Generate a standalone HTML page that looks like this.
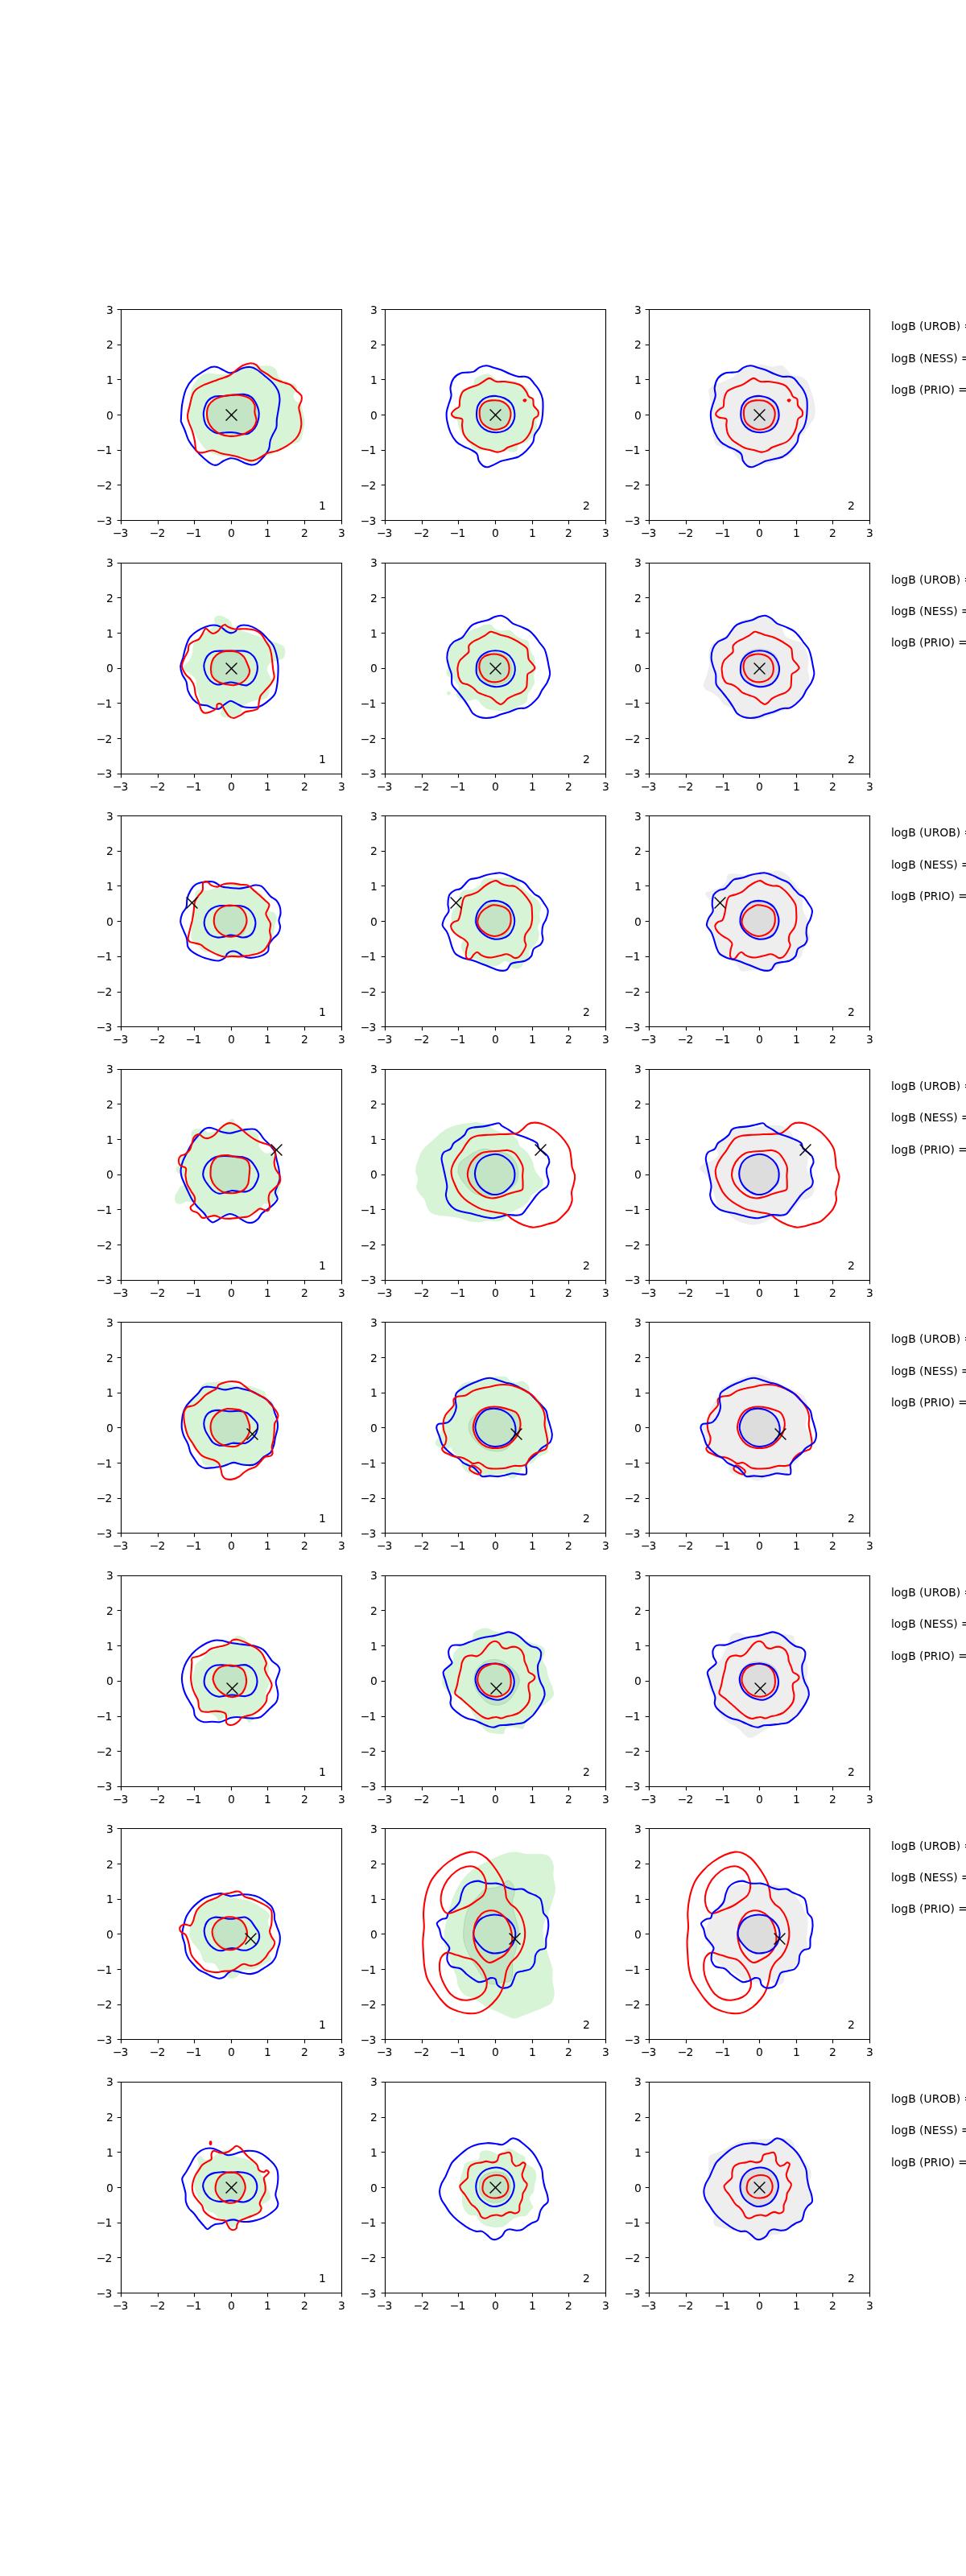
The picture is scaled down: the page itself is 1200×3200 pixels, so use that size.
<!DOCTYPE html>
<html><head><meta charset="utf-8"><title>contours</title>
<style>html,body{margin:0;padding:0;background:#fff}svg{display:block}text{font-family:"DejaVu Sans","Liberation Sans",sans-serif;font-size:13.89px;fill:#000}.b{fill:none;stroke:#0000ff;stroke-width:2.08;stroke-linejoin:round}.r{fill:none;stroke:#ff0000;stroke-width:2.08;stroke-linejoin:round}.t{stroke:#000;stroke-width:1.11;fill:none}.m{stroke:#000;stroke-width:1.39;fill:none}.n{letter-spacing:-1px}.e{text-anchor:end}.c{text-anchor:middle}</style></head><body>
<svg style="will-change:transform" width="1200" height="3200" viewBox="0 0 1200 3200">
<defs><clipPath id="cp"><rect x="0" y="0" width="273.53" height="262.13"/></clipPath>
<path id="mx" class="m" d="M-6.94 -6.94L6.94 6.94M-6.94 6.94L6.94 -6.94"/></defs>
<rect width="1200" height="3200" fill="#fff"/>
<g transform="translate(150.00,384.00)">
<g clip-path="url(#cp)"><path fill="#d7f4d7" d="M83.6 128.3C83.6 124.2 84.8 119 85.7 113.8C86.5 108.6 86.9 102 88.8 97.3C90.7 92.5 93.9 88.2 97 85.2C100.1 82.3 103.6 80.4 107.4 79.7C111.2 78.9 115.7 80.5 119.8 80.7C124 80.9 128.1 81.6 132.2 80.7C136.4 79.8 141.2 77.1 144.7 75.5C148.1 74 149.5 72.2 152.9 71.4C156.4 70.5 161.6 70.5 165.4 70.3C169.2 70.2 172.3 70.3 175.7 70.3C179.2 70.4 183.1 69.9 186.1 70.8C189 71.6 191.6 73.2 193.3 75.5C195 77.9 194.2 82.2 196.4 84.8C198.7 87.4 203.5 89.7 206.8 91C210.1 92.4 214 91.7 216.1 93.1C218.2 94.5 219.4 97.3 219.2 99.3C219 101.4 215.6 103.3 215.1 105.5C214.5 107.8 214.7 110.7 216.1 112.8C217.5 114.9 221.6 115.4 223.3 118C225.1 120.5 225.6 124.5 226.4 128.3C227.3 132.1 228.5 136.6 228.5 140.7C228.5 144.9 227.3 149.4 226.4 153.2C225.6 156.9 224.9 161.3 223.3 163.5C221.8 165.7 219.9 165.6 217.1 166.6C214.4 167.6 210.6 168.2 206.8 169.7C203 171.3 197.8 174 194.3 175.9C190.9 177.8 188.8 179.9 186.1 181.1C183.3 182.3 180.5 182 177.8 183.2C175 184.4 172.3 187.1 169.5 188.3C166.7 189.6 164.7 190.8 161.2 190.4C157.8 190.1 152.9 187.3 148.8 186.3C144.7 185.2 140.2 184.7 136.4 184.2C132.6 183.7 129.5 183.9 126 183.2C122.6 182.5 119.1 181.6 115.7 180.1C112.2 178.5 108.4 176.6 105.3 173.9C102.2 171.1 99.5 167.3 97 163.5C94.6 159.7 92.7 155.2 90.8 151.1C88.9 146.9 86.9 142.5 85.7 138.7C84.4 134.9 83.6 132.4 83.6 128.3Z"/><path fill="#c3e4c5" stroke="#a9dcad" stroke-width="1" d="M107.4 130.4C107.6 127.1 107.9 123.1 109.5 120C111 116.9 113.6 113.6 116.7 111.7C119.8 109.8 124.1 109.4 128.1 108.6C132.1 107.9 136.4 107.4 140.5 107.2C144.7 106.9 149.3 106.6 152.9 107.2C156.6 107.8 159.8 108.7 162.3 110.7C164.7 112.7 166.4 115.9 167.4 119C168.5 122.1 168.3 126.1 168.5 129.3C168.6 132.6 169.2 135.6 168.5 138.7C167.8 141.8 166.4 145.4 164.3 148C162.3 150.6 159.3 153 156 154.2C152.8 155.4 148.6 155.2 144.7 155.2C140.7 155.2 136 154.5 132.2 154.2C128.4 153.8 125 154.2 121.9 153.2C118.8 152.1 115.8 150.2 113.6 148C111.4 145.7 109.5 142.6 108.4 139.7C107.4 136.8 107.2 133.7 107.4 130.4Z"/><path class="b" d="M74.9 136.6C75.1 132.8 75.3 124.2 76.3 118C77.4 111.7 78.9 104.6 81.1 99.3C83.3 94.1 86.4 90 89.8 86.5C93.1 83 97.4 80.6 101.2 78.2C105 75.8 109.5 73 112.6 72C115.7 71 117.2 71.3 119.8 72C122.4 72.7 125.5 74.9 128.1 76.1C130.7 77.3 132.9 79 135.3 79.2C137.8 79.5 140 78.6 142.6 77.6C145.2 76.6 147.8 74.4 150.9 73.4C154 72.5 158.1 71.6 161.2 72C164.3 72.3 166.4 73.5 169.5 75.5C172.6 77.5 176.6 81 179.9 83.8C183.1 86.6 186.6 89.1 189.2 92.1C191.8 95 194 98.1 195.4 101.4C196.8 104.7 197.4 107.9 197.5 111.7C197.6 115.5 196.6 120 196 124.2C195.4 128.3 194.4 132.8 193.9 136.6C193.5 140.4 194.1 143.8 193.3 146.9C192.5 150 190.5 152.5 189.2 155.2C187.9 158 186.5 160.4 185.7 163.5C184.8 166.6 185.3 170.6 184 173.9C182.7 177.1 180.2 180.2 177.8 183.2C175.4 186.1 171.9 189.7 169.5 191.5C167.1 193.2 165.7 193.5 163.3 193.5C160.9 193.5 158.1 192.6 155 191.5C151.9 190.3 147.8 187.7 144.7 186.7C141.6 185.7 139.1 185 136.4 185.2C133.6 185.5 130.9 187 128.1 188.3C125.3 189.7 122.2 192.8 119.8 193.5C117.4 194.3 116.4 194.3 113.6 192.9C110.8 191.5 106.7 188.2 103.3 185.2C99.8 182.2 96 178.5 92.9 174.9C89.8 171.3 86.9 167.6 84.6 163.5C82.4 159.4 81 153.8 79.4 150C77.9 146.3 76.1 143 75.3 140.7C74.5 138.5 74.7 140.4 74.9 136.6ZM102.8 131.4C102.7 128 103.4 125 104.3 122.1C105.2 119.2 106.4 116.1 108.4 113.8C110.5 111.6 113.4 109.6 116.7 108.6C120 107.7 124.1 108.4 128.1 108C132.1 107.7 136.4 106.9 140.5 106.6C144.7 106.2 149.3 105.5 152.9 105.9C156.6 106.4 159.7 107.3 162.3 109.3C164.8 111.3 166.9 114.8 168.5 118C170 121.1 171.2 124.9 171.6 128.3C171.9 131.8 171.4 135.4 170.5 138.7C169.7 141.9 168.3 145.4 166.4 148C164.5 150.6 161.7 153 159.2 154.2C156.6 155.4 154 155.4 150.9 155.2C147.8 155.1 144 153.5 140.5 153.2C137.1 152.8 133.6 153 130.2 153.2C126.7 153.3 122.9 154.7 119.8 154.2C116.7 153.7 113.9 151.9 111.5 150C109.1 148.1 106.8 145.9 105.3 142.8C103.9 139.7 103 134.9 102.8 131.4Z"/><path class="r" d="M83 132.4C83.1 129 84.7 124.2 85.7 120C86.6 115.9 87.6 110.9 88.8 107.6C90 104.3 90.5 102.6 92.9 100.4C95.3 98.1 98.8 96.2 103.3 94.1C107.7 92.1 114.6 89.8 119.8 87.9C125 86 130.5 84.7 134.3 82.8C138.1 80.9 139.8 78.6 142.6 76.5C145.4 74.5 147.8 71.9 150.9 70.3C154 68.8 158.3 67.4 161.2 67.2C164.2 67.1 166.4 67.9 168.5 69.3C170.5 70.7 171.4 73.6 173.6 75.5C175.9 77.4 179.2 78.9 181.9 80.7C184.7 82.5 187.1 84.8 190.2 86.5C193.3 88.1 197.1 89.4 200.6 90.6C204 91.9 208 92.4 210.9 94.1C213.8 95.9 215.9 99.2 218.2 101.4C220.4 103.6 223.3 105.5 224.4 107.6C225.4 109.7 224.9 111.4 224.4 113.8C223.9 116.2 221.4 119 221.3 122.1C221.1 125.2 222.8 129 223.3 132.4C223.9 135.9 224.5 139.4 224.4 142.8C224.2 146.3 223.5 150 222.3 153.2C221.1 156.3 219.7 158.7 217.1 161.4C214.5 164.2 210.6 167.3 206.8 169.7C203 172.1 198.5 174.4 194.3 175.9C190.2 177.5 185.7 177.5 181.9 179C178.1 180.6 174.7 183.7 171.6 185.2C168.5 186.8 166.1 188.1 163.3 188.3C160.5 188.6 158.1 187.6 155 186.7C151.9 185.8 148.1 184.1 144.7 183.2C141.2 182.2 137.8 181.8 134.3 181.1C130.9 180.4 127.4 180 124 179C120.5 178.1 117.4 175.6 113.6 175.5C109.8 175.4 104.5 178.3 101.2 178.4C97.9 178.5 95.5 178.4 93.9 175.9C92.4 173.4 92.7 167.6 91.9 163.5C91 159.4 90 154.9 88.8 151.1C87.6 147.3 85.6 143.8 84.6 140.7C83.7 137.6 82.8 135.9 83 132.4ZM107 130.4C107 126.9 107.6 123 109 120C110.5 117.1 112.8 114.7 115.7 112.8C118.5 110.9 122.2 109.7 126 108.6C129.8 107.6 134.3 106.7 138.4 106.6C142.6 106.4 147.1 106.7 150.9 107.6C154.7 108.5 158.6 109.8 161.2 111.7C163.8 113.6 165.5 116.2 166.4 119C167.3 121.8 166.1 125 166.4 128.3C166.7 131.6 168.8 135.4 168.5 138.7C168.1 141.9 166.6 145.4 164.3 148C162.1 150.6 158.3 152.6 155 154.2C151.7 155.7 148.1 156.7 144.7 157.3C141.2 157.9 137.8 158.1 134.3 157.7C130.9 157.4 127.2 156.7 124 155.2C120.7 153.8 117.1 151.4 114.6 149C112.2 146.6 110.3 143.8 109 140.7C107.8 137.6 107 133.8 107 130.4Z"/><use href="#mx" x="137.50" y="131.50"/></g>
<path class="t" d="M0.50 0.50H274.50V262.50H0.50ZM0.50 262.50v4.86M0.50 262.50h-4.86M46.50 262.50v4.86M0.50 218.50h-4.86M91.50 262.50v4.86M0.50 175.50h-4.86M137.50 262.50v4.86M0.50 131.50h-4.86M182.50 262.50v4.86M0.50 87.50h-4.86M228.50 262.50v4.86M0.50 44.50h-4.86M274.50 262.50v4.86M0.50 0.50h-4.86"/><text class="c n" x="-0.90" y="283.00">−3</text><text class="e n" x="-11.77" y="268.00">−3</text><text class="c n" x="45.10" y="283.00">−2</text><text class="e n" x="-11.77" y="224.00">−2</text><text class="c n" x="90.10" y="283.00">−1</text><text class="e n" x="-11.77" y="180.00">−1</text><text class="c" x="137.50" y="283.00">0</text><text class="e" x="-9.12" y="137.00">0</text><text class="c" x="182.50" y="283.00">1</text><text class="e" x="-9.12" y="93.00">1</text><text class="c" x="228.50" y="283.00">2</text><text class="e" x="-9.12" y="49.00">2</text><text class="c" x="274.50" y="283.00">3</text><text class="e" x="-9.12" y="6.00">3</text><text x="246.00" y="249.00">1</text></g>
<g transform="translate(478.24,384.00)">
<g clip-path="url(#cp)"><path fill="#d7f4d7" d="M84 130.4C84.5 128.3 87.2 125.2 88.5 123.1C89.8 121.1 91.1 120.2 91.6 118C92.1 115.7 90.9 112.4 91.6 109.7C92.3 106.9 93.5 103.6 95.8 101.4C98 99.2 102.7 97.6 105.1 96.2C107.5 94.8 109.2 94.7 110.3 93.1C111.3 91.6 109.7 88.7 111.3 86.9C112.9 85.1 116.8 83.4 119.6 82.3C122.3 81.2 125.4 80 127.9 80.3C130.3 80.5 132 82.3 134.1 83.8C136.1 85.2 137.2 88.3 140.3 89C143.4 89.7 148.9 87.8 152.7 87.9C156.5 88.1 160 89 163.1 90C166.2 91 168.9 92.6 171.3 94.1C173.8 95.7 176.2 97.1 177.6 99.3C178.9 101.6 178.4 105.5 179.6 107.6C180.8 109.7 183.8 109.7 184.8 111.7C185.8 113.8 185 117.6 185.8 120C186.7 122.4 189.1 124 190 126.2C190.8 128.5 191.4 131.4 191 133.5C190.7 135.6 188.2 136.4 187.9 138.7C187.6 140.9 189.5 143.8 188.9 146.9C188.4 150 187 154.2 184.8 157.3C182.6 160.4 178.6 163.7 175.5 165.6C172.4 167.5 168.1 167 166.2 168.7C164.3 170.4 165.6 174.4 164.1 175.9C162.5 177.4 159.3 177.8 156.8 177.6C154.4 177.4 152.4 174.8 149.6 174.9C146.8 175 143.6 177.9 140.3 178C137 178.1 133.4 175.9 129.9 175.5C126.5 175.1 122.9 175.8 119.6 175.5C116.3 175.2 112.5 175 110.3 173.9C108 172.7 107.7 170.8 106.1 168.7C104.6 166.6 102.7 163.7 100.9 161.4C99.2 159.2 97.3 157.6 95.8 155.2C94.2 152.8 92.7 149.7 91.6 146.9C90.6 144.2 90.6 140.6 89.6 138.7C88.5 136.8 86.4 136.9 85.4 135.6C84.5 134.2 83.5 132.4 84 130.4Z"/><path fill="#c3e4c5" stroke="#a9dcad" stroke-width="1" d="M117.9 131.4C117.8 128.5 117.9 124.6 119 122.1C120 119.6 122 117.7 124.1 116.3C126.3 114.9 129 114.2 132 113.8C135 113.5 139.2 113.5 142.4 114.2C145.5 115 148.5 116.4 150.6 118.4C152.8 120.4 154.7 123.2 155.4 126.2C156.1 129.3 155.6 133.6 154.8 136.6C153.9 139.6 152.3 142.5 150.2 144.5C148.2 146.5 145 147.8 142.4 148.6C139.7 149.4 136.8 149.5 134.1 149C131.4 148.5 128.6 147 126.2 145.5C123.9 143.9 121.4 142 120 139.7C118.6 137.3 118.1 134.3 117.9 131.4Z"/><path class="b" d="M76.5 128.3C76.9 124.9 78.2 121.4 79.2 118C80.2 114.5 82 111.1 82.3 107.6C82.7 104.2 80.8 100.9 81.3 97.3C81.8 93.6 83.3 88.8 85.4 85.9C87.5 82.9 90.8 80.9 93.7 79.7C96.6 78.4 100.3 79 103 78.6C105.8 78.3 107.8 78.6 110.3 77.6C112.7 76.5 114.9 73.6 117.5 72.4C120.1 71.2 123 70.3 125.8 70.3C128.6 70.3 131 71.5 134.1 72.4C137.2 73.3 141 74.2 144.4 75.5C147.9 76.8 151.3 78.9 154.8 80.3C158.2 81.7 162 83.2 165.1 83.8C168.2 84.4 171 83.4 173.4 83.8C175.8 84.1 177.6 84.3 179.6 85.9C181.7 87.4 183.8 90.5 185.8 93.1C187.9 95.7 190.4 98.3 192 101.4C193.7 104.5 195.1 107.9 195.8 111.7C196.5 115.5 196.3 120 196.2 124.2C196.1 128.3 195.8 132.8 195.1 136.6C194.5 140.4 193.6 143.7 192 146.9C190.5 150.2 187.2 153.2 185.8 156.3C184.5 159.4 185.5 162.3 183.8 165.6C182 168.9 178.4 173 175.5 175.9C172.5 178.9 169.6 181.4 166.2 183.2C162.7 184.9 158.4 185.3 154.8 186.3C151.2 187.2 147.5 187.7 144.4 188.8C141.3 189.9 138.9 191.7 136.1 192.9C133.4 194.1 130.3 195.9 127.9 196.2C125.4 196.5 123.5 195.9 121.7 194.6C119.8 193.2 117.7 190.8 116.5 188.3C115.3 185.9 116 182.3 114.4 180.1C112.9 177.8 110.1 176.5 107.2 174.9C104.2 173.2 99.9 171.9 96.8 170.1C93.7 168.4 91.1 167.4 88.5 164.5C85.9 161.7 83.2 157.5 81.3 153.2C79.4 148.8 77.9 142.8 77.1 138.7C76.3 134.5 76.2 131.8 76.5 128.3ZM113.8 130.4C113.9 127.3 114.1 123.1 115.4 120C116.8 117 119.2 114.1 121.7 112.2C124.1 110.3 127.2 109.3 129.9 108.6C132.7 107.9 135.1 107.7 138.2 108C141.3 108.4 145.5 109.2 148.6 110.7C151.7 112.2 154.8 114.3 156.8 116.9C158.8 119.5 160 123 160.6 126.2C161.2 129.5 161.4 133.3 160.6 136.6C159.8 139.9 157.8 143.5 155.8 145.9C153.8 148.3 151.5 149.9 148.6 151.1C145.6 152.3 141.7 153.1 138.2 153.2C134.8 153.2 131 152.7 127.9 151.5C124.8 150.3 121.7 148 119.6 145.9C117.4 143.8 116 141.2 115 138.7C114.1 136.1 113.7 133.5 113.8 130.4Z"/><path class="r" d="M82.7 130C82.9 128.2 85.9 125.7 87.5 124.2C89.1 122.7 91.3 123.1 92.3 121.1C93.2 119 92.3 114.9 93.1 111.7C93.8 108.6 94.8 104.8 96.8 102.4C98.8 100.1 102 99 105.1 97.7C108.2 96.3 112.3 95.6 115.4 94.1C118.5 92.7 121.3 90.4 123.7 89C126.1 87.6 127.5 85.7 129.9 85.9C132.3 86 135.1 89.3 138.2 90C141.3 90.7 144.8 89.7 148.6 90C152.4 90.4 157.5 91.2 161 92.1C164.4 92.9 166.9 93.5 169.3 95.2C171.7 96.9 173.9 100.2 175.5 102.4C177 104.7 177.2 107.1 178.6 108.6C180 110.2 182.7 109.8 183.8 111.7C184.8 113.6 183.8 117.6 184.8 120C185.8 122.4 189.1 124.2 190 126.2C190.8 128.3 190.8 130.7 190 132.4C189.1 134.2 186 134.2 184.8 136.6C183.6 139 183.8 143.7 182.7 146.9C181.7 150.2 180.5 153.3 178.6 156.3C176.7 159.2 174.3 162.5 171.3 164.5C168.4 166.6 164.1 167.5 161 168.7C157.9 169.9 155.1 170.6 152.7 171.8C150.3 173 148.7 175 146.5 175.9C144.3 176.9 142 177.8 139.2 177.6C136.5 177.4 133.2 175.7 129.9 174.9C126.7 174.1 122.9 174 119.6 172.8C116.3 171.6 113 169.4 110.3 167.6C107.5 165.9 105.1 164.5 103 162.5C100.9 160.4 99 158.2 97.8 155.2C96.6 152.3 96.1 148 95.8 144.9C95.4 141.8 97.3 138.3 95.8 136.6C94.2 134.9 88.6 135.6 86.5 134.5C84.3 133.4 82.6 131.7 82.7 130ZM172.2 113.4C172.1 113 172.9 112.2 173.4 112.2C173.9 112.1 175 112.6 175.1 113C175.1 113.4 174.3 114.6 173.8 114.6C173.3 114.7 172.2 113.8 172.2 113.4ZM117.5 131.4C117.3 128.5 117.5 124.7 118.5 122.1C119.6 119.5 121.5 117.3 123.7 115.9C126 114.4 128.9 113.7 132 113.4C135.1 113.1 139.2 113.1 142.4 113.8C145.5 114.6 148.4 115.9 150.6 118C152.9 120 155.1 123.1 155.8 126.2C156.6 129.3 156.1 133.5 155.2 136.6C154.3 139.7 152.8 142.8 150.6 144.9C148.5 146.9 145.1 148.3 142.4 149C139.6 149.8 136.8 149.9 134.1 149.4C131.3 148.9 128.2 147.5 125.8 145.9C123.4 144.3 121 142.1 119.6 139.7C118.2 137.3 117.7 134.3 117.5 131.4Z"/><use href="#mx" x="137.26" y="131.50"/></g>
<path class="t" d="M0.26 0.50H274.26V262.50H0.26ZM0.26 262.50v4.86M0.26 262.50h-4.86M46.26 262.50v4.86M0.26 218.50h-4.86M91.26 262.50v4.86M0.26 175.50h-4.86M137.26 262.50v4.86M0.26 131.50h-4.86M183.26 262.50v4.86M0.26 87.50h-4.86M228.26 262.50v4.86M0.26 44.50h-4.86M274.26 262.50v4.86M0.26 0.50h-4.86"/><text class="c n" x="-1.14" y="283.00">−3</text><text class="e n" x="-12.01" y="268.00">−3</text><text class="c n" x="44.86" y="283.00">−2</text><text class="e n" x="-12.01" y="224.00">−2</text><text class="c n" x="89.86" y="283.00">−1</text><text class="e n" x="-12.01" y="180.00">−1</text><text class="c" x="137.26" y="283.00">0</text><text class="e" x="-9.36" y="137.00">0</text><text class="c" x="183.26" y="283.00">1</text><text class="e" x="-9.36" y="93.00">1</text><text class="c" x="228.26" y="283.00">2</text><text class="e" x="-9.36" y="49.00">2</text><text class="c" x="274.26" y="283.00">3</text><text class="e" x="-9.36" y="6.00">3</text><text x="245.76" y="249.00">2</text></g>
<g transform="translate(806.47,384.00)">
<g clip-path="url(#cp)"><path fill="#eeeeee" d="M73.8 101.4C73.6 105 76.6 113.1 76.9 118C77.2 122.8 75.9 126.2 75.9 130.4C75.9 134.5 76.4 138.7 76.9 142.8C77.4 146.9 77.9 151.1 79 155.2C80 159.4 80.9 164.9 83.1 167.6C85.4 170.4 89.2 170.4 92.4 171.8C95.7 173.2 100 173.9 102.8 175.9C105.5 178 106.8 181.8 109 184.2C111.2 186.6 113.8 188.7 116.2 190.4C118.7 192.1 120.6 194 123.5 194.6C126.4 195.1 130.4 193.9 133.8 193.5C137.3 193.2 140.7 193 144.2 192.5C147.6 192 151.1 191.5 154.5 190.4C158 189.4 161.6 187.7 164.9 186.3C168.2 184.9 171.5 184.6 174.2 182.1C177 179.7 179.6 175.2 181.5 171.8C183.4 168.3 183.7 164.5 185.6 161.4C187.5 158.3 190.4 156.3 192.8 153.2C195.3 150 198 145.9 200.1 142.8C202.2 139.7 204.2 137.6 205.3 134.5C206.3 131.4 206.5 128 206.3 124.2C206.1 120.4 205.3 115.9 204.2 111.7C203.2 107.6 201.5 103.1 200.1 99.3C198.7 95.5 198 91.6 195.9 89C193.9 86.4 190.8 85 187.7 83.8C184.6 82.6 180.1 83.1 177.3 81.7C174.6 80.3 173.2 77.5 171.1 75.5C169 73.5 168 70.6 164.9 69.9C161.8 69.2 156.6 71.6 152.5 71.4C148.3 71.2 143.8 68.7 140 68.7C136.3 68.7 133.1 70.8 129.7 71.4C126.2 72 122.5 71.4 119.3 72.4C116.2 73.4 113.5 75.7 111.1 77.6C108.6 79.5 107.3 82.1 104.9 83.8C102.4 85.5 99.7 86.6 96.6 87.9C93.5 89.3 89.3 90.7 86.2 92.1C83.1 93.5 80 94.7 77.9 96.2C75.9 97.8 74 97.8 73.8 101.4Z"/><path fill="#dddddd" stroke="#d0d0d0" stroke-width="1" d="M114.2 130.4C114.3 127.3 115 123 116.2 120C117.5 117.1 119.6 114.6 121.8 112.8C124.1 111 126.7 110.1 129.7 109.3C132.7 108.5 136.8 107.8 140 108C143.3 108.3 146.6 109.1 149.4 110.7C152.1 112.4 154.9 115.2 156.6 118C158.3 120.7 159.3 124 159.7 127.3C160.1 130.6 160 134.5 159.1 137.6C158.2 140.7 156.7 143.8 154.5 145.9C152.4 148 149 149.2 146.3 150C143.5 150.9 140.9 151.1 138 151.1C135 151.1 131.6 151.1 128.7 150C125.7 149 122.6 146.8 120.4 144.9C118.2 143 116.7 141.1 115.6 138.7C114.6 136.2 114.1 133.5 114.2 130.4Z"/><path class="r" d="M82.7 130C82.9 128.2 85.9 125.7 87.5 124.2C89.1 122.7 91.3 123.1 92.3 121.1C93.2 119 92.3 114.9 93.1 111.7C93.8 108.6 94.8 104.8 96.8 102.4C98.8 100.1 102 99 105.1 97.7C108.2 96.3 112.3 95.6 115.4 94.1C118.5 92.7 121.3 90.4 123.7 89C126.1 87.6 127.5 85.7 129.9 85.9C132.3 86 135.1 89.3 138.2 90C141.3 90.7 144.8 89.7 148.6 90C152.4 90.4 157.5 91.2 161 92.1C164.4 92.9 166.9 93.5 169.3 95.2C171.7 96.9 173.9 100.2 175.5 102.4C177 104.7 177.2 107.1 178.6 108.6C180 110.2 182.7 109.8 183.8 111.7C184.8 113.6 183.8 117.6 184.8 120C185.8 122.4 189.1 124.2 190 126.2C190.8 128.3 190.8 130.7 190 132.4C189.1 134.2 186 134.2 184.8 136.6C183.6 139 183.8 143.7 182.7 146.9C181.7 150.2 180.5 153.3 178.6 156.3C176.7 159.2 174.3 162.5 171.3 164.5C168.4 166.6 164.1 167.5 161 168.7C157.9 169.9 155.1 170.6 152.7 171.8C150.3 173 148.7 175 146.5 175.9C144.3 176.9 142 177.8 139.2 177.6C136.5 177.4 133.2 175.7 129.9 174.9C126.7 174.1 122.9 174 119.6 172.8C116.3 171.6 113 169.4 110.3 167.6C107.5 165.9 105.1 164.5 103 162.5C100.9 160.4 99 158.2 97.8 155.2C96.6 152.3 96.1 148 95.8 144.9C95.4 141.8 97.3 138.3 95.8 136.6C94.2 134.9 88.6 135.6 86.5 134.5C84.3 133.4 82.6 131.7 82.7 130ZM172.2 113.4C172.1 113 172.9 112.2 173.4 112.2C173.9 112.1 175 112.6 175.1 113C175.1 113.4 174.3 114.6 173.8 114.6C173.3 114.7 172.2 113.8 172.2 113.4ZM117.5 131.4C117.3 128.5 117.5 124.7 118.5 122.1C119.6 119.5 121.5 117.3 123.7 115.9C126 114.4 128.9 113.7 132 113.4C135.1 113.1 139.2 113.1 142.4 113.8C145.5 114.6 148.4 115.9 150.6 118C152.9 120 155.1 123.1 155.8 126.2C156.6 129.3 156.1 133.5 155.2 136.6C154.3 139.7 152.8 142.8 150.6 144.9C148.5 146.9 145.1 148.3 142.4 149C139.6 149.8 136.8 149.9 134.1 149.4C131.3 148.9 128.2 147.5 125.8 145.9C123.4 144.3 121 142.1 119.6 139.7C118.2 137.3 117.7 134.3 117.5 131.4Z"/><path class="b" d="M76.5 128.3C76.9 124.9 78.2 121.4 79.2 118C80.2 114.5 82 111.1 82.3 107.6C82.7 104.2 80.8 100.9 81.3 97.3C81.8 93.6 83.3 88.8 85.4 85.9C87.5 82.9 90.8 80.9 93.7 79.7C96.6 78.4 100.3 79 103 78.6C105.8 78.3 107.8 78.6 110.3 77.6C112.7 76.5 114.9 73.6 117.5 72.4C120.1 71.2 123 70.3 125.8 70.3C128.6 70.3 131 71.5 134.1 72.4C137.2 73.3 141 74.2 144.4 75.5C147.9 76.8 151.3 78.9 154.8 80.3C158.2 81.7 162 83.2 165.1 83.8C168.2 84.4 171 83.4 173.4 83.8C175.8 84.1 177.6 84.3 179.6 85.9C181.7 87.4 183.8 90.5 185.8 93.1C187.9 95.7 190.4 98.3 192 101.4C193.7 104.5 195.1 107.9 195.8 111.7C196.5 115.5 196.3 120 196.2 124.2C196.1 128.3 195.8 132.8 195.1 136.6C194.5 140.4 193.6 143.7 192 146.9C190.5 150.2 187.2 153.2 185.8 156.3C184.5 159.4 185.5 162.3 183.8 165.6C182 168.9 178.4 173 175.5 175.9C172.5 178.9 169.6 181.4 166.2 183.2C162.7 184.9 158.4 185.3 154.8 186.3C151.2 187.2 147.5 187.7 144.4 188.8C141.3 189.9 138.9 191.7 136.1 192.9C133.4 194.1 130.3 195.9 127.9 196.2C125.4 196.5 123.5 195.9 121.7 194.6C119.8 193.2 117.7 190.8 116.5 188.3C115.3 185.9 116 182.3 114.4 180.1C112.9 177.8 110.1 176.5 107.2 174.9C104.2 173.2 99.9 171.9 96.8 170.1C93.7 168.4 91.1 167.4 88.5 164.5C85.9 161.7 83.2 157.5 81.3 153.2C79.4 148.8 77.9 142.8 77.1 138.7C76.3 134.5 76.2 131.8 76.5 128.3ZM113.8 130.4C113.9 127.3 114.1 123.1 115.4 120C116.8 117 119.2 114.1 121.7 112.2C124.1 110.3 127.2 109.3 129.9 108.6C132.7 107.9 135.1 107.7 138.2 108C141.3 108.4 145.5 109.2 148.6 110.7C151.7 112.2 154.8 114.3 156.8 116.9C158.8 119.5 160 123 160.6 126.2C161.2 129.5 161.4 133.3 160.6 136.6C159.8 139.9 157.8 143.5 155.8 145.9C153.8 148.3 151.5 149.9 148.6 151.1C145.6 152.3 141.7 153.1 138.2 153.2C134.8 153.2 131 152.7 127.9 151.5C124.8 150.3 121.7 148 119.6 145.9C117.4 143.8 116 141.2 115 138.7C114.1 136.1 113.7 133.5 113.8 130.4Z"/><use href="#mx" x="137.03" y="131.50"/></g>
<path class="t" d="M0.03 0.50H274.03V262.50H0.03ZM0.03 262.50v4.86M0.03 262.50h-4.86M46.03 262.50v4.86M0.03 218.50h-4.86M92.03 262.50v4.86M0.03 175.50h-4.86M137.03 262.50v4.86M0.03 131.50h-4.86M183.03 262.50v4.86M0.03 87.50h-4.86M228.03 262.50v4.86M0.03 44.50h-4.86M274.03 262.50v4.86M0.03 0.50h-4.86"/><text class="c n" x="-1.37" y="283.00">−3</text><text class="e n" x="-12.24" y="268.00">−3</text><text class="c n" x="44.63" y="283.00">−2</text><text class="e n" x="-12.24" y="224.00">−2</text><text class="c n" x="90.63" y="283.00">−1</text><text class="e n" x="-12.24" y="180.00">−1</text><text class="c" x="137.03" y="283.00">0</text><text class="e" x="-9.59" y="137.00">0</text><text class="c" x="183.03" y="283.00">1</text><text class="e" x="-9.59" y="93.00">1</text><text class="c" x="228.03" y="283.00">2</text><text class="e" x="-9.59" y="49.00">2</text><text class="c" x="274.03" y="283.00">3</text><text class="e" x="-9.59" y="6.00">3</text><text x="246.53" y="249.00">2</text><text x="300.53" y="26.00">logB (UROB) = 0.00</text><text x="300.53" y="66.00">logB (NESS) = 0.00</text><text x="300.53" y="105.00">logB (PRIO) = 0.00</text></g>
<g transform="translate(150.00,698.55)">
<g clip-path="url(#cp)"><path fill="#d7f4d7" d="M78.4 128.8C79.3 126.9 82.9 125 84.6 122.5C86.3 120.1 87.9 117.4 88.8 114.3C89.6 111.2 88.9 107 89.8 103.9C90.7 100.8 92 98 93.9 95.6C95.8 93.2 98.6 91.3 101.2 89.4C103.8 87.5 106.9 86.1 109.5 84.2C112.1 82.3 115.6 80.4 116.7 78C117.8 75.6 115.2 71.7 116.1 69.7C117 67.8 119.5 66.4 121.9 66.2C124.2 66.1 127.8 67.4 130.2 68.7C132.6 70 134.7 71.8 136.4 73.9C138.1 76 138.1 79.2 140.5 81.1C142.9 83 147.4 84.1 150.9 85.3C154.3 86.5 158.1 87.3 161.2 88.4C164.3 89.4 166.7 90.5 169.5 91.5C172.3 92.5 175 93.6 177.8 94.6C180.5 95.6 183.1 96.7 186.1 97.7C189 98.7 192.6 99.6 195.4 100.8C198.1 102 201.1 103 202.6 104.9C204.1 106.8 204.5 109.8 204.3 112.2C204.1 114.6 203.6 117.7 201.6 119.4C199.6 121.2 195 121.5 192.3 122.5C189.5 123.6 186.8 123.9 185 125.6C183.3 127.4 181.9 130.3 181.9 132.9C181.9 135.5 184 138.8 185 141.2C186.1 143.6 188.1 145 188.1 147.4C188.1 149.8 185.7 152.9 185 155.7C184.3 158.4 184.9 161.7 184 164C183.1 166.2 182.3 167.9 179.9 169.1C177.4 170.3 173 170.3 169.5 171.2C166.1 172.1 162.1 172.9 159.2 174.3C156.2 175.7 153.5 177.6 151.9 179.5C150.4 181.4 151 183.8 149.8 185.7C148.6 187.6 146.9 189.8 144.7 190.9C142.4 191.9 139.1 191.6 136.4 191.9C133.6 192.2 130.2 193 128.1 192.5C126 192 124.5 190.5 124 188.8C123.4 187.1 125.7 184 125 182.6C124.3 181.2 122.4 181 119.8 180.5C117.2 180 112.6 180.5 109.5 179.5C106.4 178.4 103.3 176.5 101.2 174.3C99.1 172.1 98.2 169.1 97 166C95.8 162.9 94.6 159.1 93.9 155.7C93.2 152.2 94.1 148.1 92.9 145.3C91.7 142.6 88.9 141 86.7 139.1C84.4 137.2 80.8 135.7 79.4 133.9C78.1 132.2 77.5 130.7 78.4 128.8Z"/><path fill="#c3e4c5" stroke="#a9dcad" stroke-width="1" d="M114 132.9C113.9 129.8 114.3 125.4 115.3 122.5C116.2 119.7 117.7 117.6 119.8 115.9C122 114.2 125.3 113 128.1 112.2C130.9 111.4 133.4 111.1 136.4 111.2C139.3 111.2 143 111.5 145.7 112.6C148.4 113.7 150.7 115.6 152.5 118C154.4 120.3 155.7 123.7 156.7 126.7C157.6 129.7 158.3 133.1 158.1 136C157.9 138.9 157 142 155.4 144.3C153.9 146.5 151.3 148.3 148.8 149.5C146.3 150.6 143.6 150.9 140.5 151.1C137.4 151.3 133.3 151.1 130.2 150.5C127.1 149.9 124.2 148.9 121.9 147.4C119.5 145.8 117.4 143.6 116.1 141.2C114.8 138.8 114.2 136 114 132.9Z"/><path class="b" d="M74.3 128.8C74.4 125.3 76.3 122.2 77.4 118.4C78.4 114.6 79.1 110.1 80.5 106C81.9 101.8 83.2 97 85.7 93.6C88.1 90.1 91.7 87.5 95 85.3C98.2 83 101.9 81.3 105.3 80.1C108.8 78.9 112.6 78 115.7 78C118.8 78 121.4 78.8 124 80.1C126.5 81.4 129.1 84.4 131.2 85.7C133.3 87 134.5 87.8 136.4 87.8C138.3 87.8 141 87 142.6 85.7C144.1 84.4 144 81.4 145.7 80.1C147.4 78.8 150 78 152.9 78C155.9 78 159.8 78.7 163.3 80.1C166.7 81.5 170.5 83.9 173.6 86.3C176.8 88.7 179.3 91.8 181.9 94.6C184.5 97.4 187.3 99.6 189.2 102.9C191.1 106.2 192.3 110.3 193.3 114.3C194.3 118.2 195 122.5 195.4 126.7C195.7 130.8 195.6 135 195.4 139.1C195.2 143.2 195 147.4 194.3 151.5C193.7 155.7 193.3 160.3 191.2 164C189.2 167.6 185.2 170.7 181.9 173.3C178.6 175.9 175 178.3 171.6 179.5C168.1 180.7 164.5 180.5 161.2 180.5C157.9 180.5 154.8 180.3 151.9 179.5C149 178.6 146.2 176.5 143.6 175.3C141 174.1 138.8 172.1 136.4 172.2C134 172.4 131.4 174.8 129.1 176.4C126.9 177.9 125.2 180.7 122.9 181.6C120.7 182.4 118.3 182.1 115.7 181.6C113.1 181 110.3 178.9 107.4 178C104.5 177.2 101 177.7 98.1 176.4C95.1 175.1 92.2 172.9 89.8 170.2C87.4 167.4 85 163.4 83.6 159.8C82.2 156.2 82.7 151.9 81.5 148.4C80.3 145 77.5 142.4 76.3 139.1C75.1 135.8 74.1 132.2 74.3 128.8ZM103.3 128.8C103.2 125.6 104.3 122.9 105.3 120.5C106.4 118.1 107.6 115.9 109.5 114.3C111.4 112.6 113.6 111.2 116.7 110.5C119.8 109.8 124.1 110.2 128.1 110.1C132.1 110.1 136.4 110.1 140.5 110.1C144.7 110.1 149.5 109.6 152.9 110.1C156.4 110.6 158.8 111.5 161.2 113.2C163.6 115 166 117.7 167.4 120.5C168.9 123.2 169.7 126.7 169.9 129.8C170.1 132.9 169.4 136.2 168.5 139.1C167.5 142 166.2 145.1 164.3 147.4C162.4 149.6 159.5 151.8 157.1 152.6C154.7 153.3 152.3 152.4 149.8 151.9C147.4 151.5 144.8 150.4 142.6 149.9C140.3 149.4 138.8 148.9 136.4 149C134 149.1 130.9 150 128.1 150.5C125.3 151 122.6 152.5 119.8 151.9C117.1 151.4 113.9 149.5 111.5 147.4C109.2 145.2 107.1 142.2 105.7 139.1C104.4 136 103.3 131.9 103.3 128.8Z"/><path class="r" d="M75.9 128.8C75.8 125.3 78.2 121.5 79.4 118.4C80.7 115.3 82.7 112.7 83.6 110.1C84.4 107.5 83.6 104.8 84.6 102.9C85.7 101 87.7 99.9 89.8 98.7C91.9 97.5 95.1 97.2 97 95.6C98.9 94.1 99.8 91.7 101.2 89.4C102.6 87.2 103.9 82.9 105.3 82.2C106.7 81.5 107.9 84.2 109.5 85.3C111 86.3 112.7 88.4 114.6 88.4C116.5 88.4 119.1 86.7 120.9 85.3C122.6 83.9 123.6 81.4 125 80.1C126.4 78.8 127.8 77.4 129.1 77.4C130.5 77.4 131.4 79.2 133.3 80.1C135.2 81 137.9 82.3 140.5 82.8C143.1 83.2 146 82.8 148.8 82.8C151.6 82.8 154.1 82.6 157.1 82.8C160 83 163.5 83.1 166.4 84.2C169.3 85.3 172.4 87.2 174.7 89.4C176.9 91.7 178.1 94.9 179.9 97.7C181.6 100.5 183.8 103.2 185 106C186.2 108.7 186.6 111.5 187.1 114.3C187.6 117 187.8 119.4 188.1 122.5C188.5 125.6 188.8 129.4 189.2 132.9C189.6 136.3 191.1 140.1 190.6 143.2C190.1 146.4 188 148.8 186.1 151.5C184.1 154.3 180.9 157.4 178.8 159.8C176.8 162.2 174.9 163.6 173.6 166C172.4 168.4 172.1 171.7 171.6 174.3C171.1 176.9 171.9 179.9 170.5 181.6C169.2 183.2 165.9 183.6 163.3 184.2C160.7 184.9 157.4 184.8 155 185.7C152.6 186.6 151.2 188.6 148.8 189.8C146.4 191.1 142.9 193.2 140.5 193.4C138.1 193.5 136.2 192.5 134.3 190.9C132.4 189.2 130.7 186 129.1 183.6C127.6 181.2 126.5 177.6 125 176.4C123.4 175.2 120.9 175.5 119.8 176.4C118.8 177.2 120.2 180 118.8 181.6C117.4 183.1 113.9 184.8 111.5 185.7C109.1 186.6 106.2 187.5 104.3 187.1C102.4 186.8 101.4 185.8 100.1 183.6C98.9 181.5 98.2 177.6 97 174.3C95.8 171 93.9 167.4 92.9 164C91.9 160.5 92.3 156.7 91.2 153.6C90.2 150.5 88.5 147.7 86.7 145.3C84.9 142.9 82.3 141.9 80.5 139.1C78.7 136.3 76.1 132.2 75.9 128.8ZM111.9 132.9C111.9 129.6 112.5 125.5 113.6 122.5C114.7 119.6 116.7 117.2 118.8 115.3C120.9 113.4 123.1 112 126 111.2C129 110.3 133.1 110 136.4 110.1C139.7 110.2 142.9 110.6 145.7 111.8C148.5 113 151 115.1 152.9 117.4C154.8 119.7 155.9 122.7 157.1 125.6C158.3 128.6 160.2 132 160.2 135C160.2 137.9 158.8 140.8 157.1 143.2C155.4 145.7 152.6 148.3 149.8 149.9C147.1 151.4 143.8 152.3 140.5 152.6C137.2 152.8 133.4 152.2 130.2 151.5C126.9 150.8 123.5 150 120.9 148.4C118.2 146.9 115.5 144.8 114 142.2C112.5 139.6 112 136.2 111.9 132.9Z"/><use href="#mx" x="137.50" y="131.95"/></g>
<path class="t" d="M0.50 0.95H274.50V262.95H0.50ZM0.50 262.95v4.86M0.50 262.95h-4.86M46.50 262.95v4.86M0.50 218.95h-4.86M91.50 262.95v4.86M0.50 174.95h-4.86M137.50 262.95v4.86M0.50 131.95h-4.86M182.50 262.95v4.86M0.50 87.95h-4.86M228.50 262.95v4.86M0.50 43.95h-4.86M274.50 262.95v4.86M0.50 0.95h-4.86"/><text class="c n" x="-0.90" y="283.45">−3</text><text class="e n" x="-11.77" y="267.45">−3</text><text class="c n" x="45.10" y="283.45">−2</text><text class="e n" x="-11.77" y="224.45">−2</text><text class="c n" x="90.10" y="283.45">−1</text><text class="e n" x="-11.77" y="180.45">−1</text><text class="c" x="137.50" y="283.45">0</text><text class="e" x="-9.12" y="136.45">0</text><text class="c" x="182.50" y="283.45">1</text><text class="e" x="-9.12" y="93.45">1</text><text class="c" x="228.50" y="283.45">2</text><text class="e" x="-9.12" y="49.45">2</text><text class="c" x="274.50" y="283.45">3</text><text class="e" x="-9.12" y="5.45">3</text><text x="246.00" y="249.45">1</text></g>
<g transform="translate(478.24,698.55)">
<g clip-path="url(#cp)"><path fill="#d7f4d7" d="M76.1 137C76.1 135 77.7 131.9 78.2 128.8C78.7 125.6 78.7 122.2 79.2 118.4C79.7 114.6 79.7 109.4 81.3 106C82.8 102.5 85.6 100.1 88.5 97.7C91.5 95.3 96.1 93.6 98.9 91.5C101.6 89.4 102.3 87 105.1 85.3C107.8 83.6 112.3 82.4 115.4 81.1C118.5 79.8 121 78 123.7 77.4C126.5 76.8 129.9 76.6 132 77.4C134.1 78.2 134.1 80.9 136.1 82.2C138.2 83.4 141.3 84.5 144.4 84.9C147.5 85.2 152 83.5 154.8 84.2C157.5 85 158.6 87.7 161 89.4C163.4 91.1 166.5 93.2 169.3 94.6C172 96 175.8 96.1 177.6 97.7C179.3 99.3 178.9 101.5 179.6 103.9C180.3 106.3 180.7 109.8 181.7 112.2C182.7 114.6 185.1 116 185.8 118.4C186.6 120.8 186.1 124.3 186.2 126.7C186.4 129.1 187.1 130.5 186.9 132.9C186.6 135.3 185 138.4 184.8 141.2C184.6 143.9 186.4 146.7 185.8 149.5C185.3 152.2 183.1 155.3 181.7 157.7C180.3 160.2 178.4 161.5 177.6 164C176.7 166.4 177.6 170.2 176.5 172.2C175.5 174.3 173.2 175.2 171.3 176.4C169.4 177.6 167.5 178.3 165.1 179.5C162.7 180.7 160 182.8 156.8 183.6C153.7 184.5 149.9 184.7 146.5 184.7C143 184.7 139.6 184.1 136.1 183.6C132.7 183.1 128.6 182.8 125.8 181.6C123 180.3 121.7 178.3 119.6 176.4C117.5 174.5 116.1 170.9 113.4 170.2C110.6 169.5 106.3 172.2 103 172.2C99.7 172.2 96.1 171.4 93.7 170.2C91.3 169 88.9 167.4 88.5 165C88.2 162.6 91.6 158.3 91.6 155.7C91.6 153.1 89.9 151.4 88.5 149.5C87.1 147.6 85.1 145.7 83.3 144.3C81.6 142.9 79.4 142.4 78.2 141.2C77 140 76.1 139.1 76.1 137Z"/><path fill="#d7f4d7" d="M76.7 162.5C76.7 161.6 78.3 160 79.2 160C80.1 160 81.9 161.6 81.9 162.5C81.9 163.4 80.1 165.2 79.2 165.2C78.3 165.2 76.7 163.4 76.7 162.5Z"/><path fill="#c3e4c5" stroke="#a9dcad" stroke-width="1" d="M115.4 132.9C115.3 129.8 115.9 125.4 117.1 122.5C118.3 119.7 120.4 117.5 122.7 115.9C125 114.4 128 113.8 131 113.2C133.9 112.7 137.2 112.2 140.3 112.6C143.4 113.1 147 114.1 149.6 115.9C152.2 117.7 154.4 120.7 155.8 123.6C157.2 126.4 157.9 129.8 157.9 132.9C157.9 136 157.1 139.6 155.8 142.2C154.5 144.8 152.6 146.9 150.2 148.4C147.8 150 144.4 151.1 141.3 151.5C138.3 152 134.9 151.8 132 151.1C129.1 150.4 126.1 149 123.7 147.4C121.4 145.7 119.3 143.6 117.9 141.2C116.5 138.8 115.6 136 115.4 132.9Z"/><path class="b" d="M77.1 118.4C77.1 114.8 77.8 110.3 79.2 107C80.6 103.7 82.7 101 85.4 98.7C88.2 96.5 93 95.8 95.8 93.6C98.5 91.3 99.9 87.9 102 85.3C104.1 82.7 105.4 79.9 108.2 78C111 76.1 115.3 74.9 118.5 73.9C121.8 72.9 124.9 72.9 127.9 71.8C130.8 70.8 133.4 68.6 136.1 67.7C138.9 66.7 141.8 65.9 144.4 66.2C147 66.6 149.3 68.1 151.7 69.7C154.1 71.4 156 74.2 158.9 76C161.9 77.7 165.8 78.5 169.3 80.1C172.7 81.7 176.9 83.4 179.6 85.3C182.4 87.2 183.8 89.1 185.8 91.5C187.9 93.9 190 97 192 99.8C194.1 102.5 196.7 104.9 198.3 108.1C199.8 111.2 200.5 115 201.4 118.4C202.2 121.9 202.8 125.3 203.4 128.8C204 132.2 205.2 135.7 204.9 139.1C204.5 142.6 203 146.2 201.4 149.5C199.7 152.7 197 155.7 195.1 158.8C193.3 161.9 192.2 165.2 190 168.1C187.7 171 184.3 174.2 181.7 176.4C179.1 178.5 177.2 180.1 174.4 180.9C171.7 181.8 168.4 180.8 165.1 181.6C161.9 182.3 158.2 184.5 154.8 185.7C151.3 186.9 147.5 187.8 144.4 188.8C141.3 189.8 139.2 191.1 136.1 191.9C133 192.7 129.1 193.4 125.8 193.4C122.5 193.4 119.2 192.8 116.5 191.9C113.7 191 111.3 189.8 109.2 187.8C107.2 185.7 106 182.4 104.1 179.5C102.2 176.5 100.3 173.4 97.8 170.2C95.4 166.9 92 162.9 89.6 159.8C87.1 156.7 84.5 155 83.3 151.5C82.2 148.1 83.4 142.9 82.7 139.1C82 135.3 80.1 132.2 79.2 128.8C78.3 125.3 77.1 122 77.1 118.4ZM113.4 135C113.4 132.4 113.4 127.7 114.4 124.6C115.4 121.5 117.3 118.6 119.6 116.3C121.8 114.1 124.9 112.3 127.9 111.2C130.8 110.1 134.1 109.7 137.2 109.7C140.3 109.7 143.6 110.1 146.5 111.2C149.4 112.3 152.5 114.1 154.8 116.3C157 118.6 158.8 121.7 160 124.6C161.1 127.5 161.8 130.8 161.6 133.9C161.4 137 160.4 140.5 158.9 143.2C157.4 146 155.1 148.7 152.7 150.5C150.3 152.3 147.2 153.3 144.4 154C141.7 154.7 139.1 155 136.1 154.6C133.2 154.3 129.8 153.3 126.8 151.9C123.9 150.6 120.6 148.3 118.5 146.4C116.5 144.4 115.3 142 114.4 140.1C113.5 138.2 113.4 137.6 113.4 135Z"/><path class="r" d="M90.2 130.8C90.5 128.4 91.2 125 92.7 122.5C94.1 120.1 97 118.2 98.9 116.3C100.8 114.4 103.2 113.2 104.1 111.2C104.9 109.1 103.2 106 104.1 103.9C104.9 101.8 107 100.3 109.2 98.7C111.5 97.2 114.9 96 117.5 94.6C120.1 93.2 122.5 91.8 124.8 90.5C127 89.1 128.9 86.8 131 86.3C133 85.9 134.9 87.1 137.2 87.8C139.4 88.5 141.8 89.7 144.4 90.5C147 91.2 149.8 91.5 152.7 92.5C155.6 93.6 159.1 95.1 162 96.7C165 98.2 167.9 100.1 170.3 101.8C172.7 103.6 175.3 104.9 176.5 107C177.7 109.1 177.2 112 177.6 114.3C177.9 116.5 177.7 118.6 178.6 120.5C179.4 122.4 181.5 123.9 182.7 125.6C184 127.4 186.4 129.5 186.2 131.2C186.1 133 183.2 134.7 181.7 136C180.2 137.3 178 137.2 177.1 139.1C176.3 141 176.8 144.6 176.5 147.4C176.2 150.1 176.7 153.3 175.5 155.7C174.3 158.1 171.7 160.3 169.3 161.9C166.9 163.4 163.7 163.8 161 165C158.2 166.2 154.9 167.6 152.7 169.1C150.5 170.7 149.1 173.1 147.5 174.3C146 175.5 144.9 176.5 143.4 176.4C141.8 176.2 140.1 174.6 138.2 173.3C136.3 171.9 134.4 169.5 132 168.1C129.6 166.7 126.5 166.1 123.7 165C121 163.9 117.9 163 115.4 161.5C113 159.9 111.3 157.3 109.2 155.7C107.2 154.1 105.3 152.9 103 151.9C100.8 151 97.7 151.3 95.8 149.9C93.9 148.4 92.5 145.4 91.6 143.2C90.8 141.1 90.8 139.1 90.6 137C90.4 135 89.8 133.2 90.2 130.8ZM117.1 130.8C116.9 128.1 117.4 124.9 118.5 122.5C119.6 120.2 121.7 118.1 123.7 116.7C125.8 115.4 128.4 114.7 131 114.3C133.6 113.8 136.5 113.7 139.2 114.3C142 114.8 145.3 115.8 147.5 117.4C149.8 118.9 151.6 121.2 152.7 123.6C153.8 126 154.4 129.1 154.4 131.9C154.4 134.6 153.8 137.8 152.7 140.1C151.6 142.5 149.6 144.4 147.5 145.7C145.5 147.1 142.9 148 140.3 148.4C137.7 148.9 134.6 148.9 132 148.4C129.4 147.9 126.8 146.9 124.8 145.3C122.7 143.8 120.9 141.5 119.6 139.1C118.3 136.7 117.3 133.6 117.1 130.8Z"/><use href="#mx" x="137.26" y="131.95"/></g>
<path class="t" d="M0.26 0.95H274.26V262.95H0.26ZM0.26 262.95v4.86M0.26 262.95h-4.86M46.26 262.95v4.86M0.26 218.95h-4.86M91.26 262.95v4.86M0.26 174.95h-4.86M137.26 262.95v4.86M0.26 131.95h-4.86M183.26 262.95v4.86M0.26 87.95h-4.86M228.26 262.95v4.86M0.26 43.95h-4.86M274.26 262.95v4.86M0.26 0.95h-4.86"/><text class="c n" x="-1.14" y="283.45">−3</text><text class="e n" x="-12.01" y="267.45">−3</text><text class="c n" x="44.86" y="283.45">−2</text><text class="e n" x="-12.01" y="224.45">−2</text><text class="c n" x="89.86" y="283.45">−1</text><text class="e n" x="-12.01" y="180.45">−1</text><text class="c" x="137.26" y="283.45">0</text><text class="e" x="-9.36" y="136.45">0</text><text class="c" x="183.26" y="283.45">1</text><text class="e" x="-9.36" y="93.45">1</text><text class="c" x="228.26" y="283.45">2</text><text class="e" x="-9.36" y="49.45">2</text><text class="c" x="274.26" y="283.45">3</text><text class="e" x="-9.36" y="5.45">3</text><text x="245.76" y="249.45">2</text></g>
<g transform="translate(806.47,698.55)">
<g clip-path="url(#cp)"><path fill="#eeeeee" d="M67.6 151.5C67.9 148.4 70.5 143.2 71.7 139.1C72.9 135 74.5 130.8 74.8 126.7C75.2 122.5 73.5 118.2 73.8 114.3C74.1 110.3 74.8 106 76.9 102.9C79 99.8 82.9 97.5 86.2 95.6C89.5 93.7 93.8 93.6 96.6 91.5C99.3 89.4 100.7 85.8 102.8 83.2C104.9 80.6 106.2 78 109 76C111.8 73.9 115.9 71.5 119.3 70.8C122.8 70.1 126.6 72.3 129.7 71.8C132.8 71.3 134.9 68.2 138 67.7C141.1 67.2 145.2 67.5 148.3 68.7C151.4 69.9 153.9 72.9 156.6 74.9C159.4 77 162.8 78.4 164.9 81.1C167 83.9 166.6 88.9 169 91.5C171.5 94.1 175.9 95.3 179.4 96.7C182.8 98 187.2 97.5 189.7 99.8C192.3 102 193.5 106.7 194.9 110.1C196.3 113.6 197.7 116.7 198 120.5C198.4 124.3 196.8 129.1 197 132.9C197.2 136.7 198.9 139.8 199.1 143.2C199.2 146.7 198.9 150.8 198 153.6C197.2 156.4 195.4 157.2 193.9 159.8C192.3 162.4 190.8 166.4 188.7 169.1C186.6 171.9 184 174.3 181.5 176.4C178.9 178.4 176.3 180 173.2 181.6C170.1 183.1 166.3 184.3 162.8 185.7C159.4 187.1 155.9 188.5 152.5 189.8C149 191.2 145.6 192.9 142.1 194C138.7 195 134.9 196 131.8 196C128.7 196 126.2 194.7 123.5 194C120.7 193.3 118 193.1 115.2 191.9C112.4 190.7 109.3 188.6 106.9 186.7C104.5 184.8 103.1 182.2 100.7 180.5C98.3 178.8 94.8 178.4 92.4 176.4C90 174.3 88.6 170.5 86.2 168.1C83.8 165.7 80.7 163.6 77.9 161.9C75.2 160.2 71.4 159.5 69.7 157.7C67.9 156 67.2 154.6 67.6 151.5Z"/><path fill="#dddddd" stroke="#d0d0d0" stroke-width="1" d="M114.2 132.9C113.7 128.9 114.3 125.6 115.2 122.5C116.1 119.4 117.3 116.5 119.3 114.3C121.4 112 124.5 110.2 127.6 109.1C130.7 108 134.5 107.5 138 107.6C141.4 107.7 145.2 108.4 148.3 109.7C151.4 111 154.5 112.8 156.6 115.3C158.7 117.8 159.9 121.3 160.8 124.6C161.6 127.9 162.1 131.7 161.8 135C161.4 138.2 160.2 141.7 158.7 144.3C157.1 146.9 154.9 148.9 152.5 150.5C150.1 152 147 153 144.2 153.6C141.4 154.2 138.8 154.4 135.9 154C133 153.7 129.5 152.8 126.6 151.5C123.7 150.3 120.4 149.5 118.3 146.4C116.2 143.2 114.7 136.9 114.2 132.9Z"/><path class="r" d="M90.2 130.8C90.5 128.4 91.2 125 92.7 122.5C94.1 120.1 97 118.2 98.9 116.3C100.8 114.4 103.2 113.2 104.1 111.2C104.9 109.1 103.2 106 104.1 103.9C104.9 101.8 107 100.3 109.2 98.7C111.5 97.2 114.9 96 117.5 94.6C120.1 93.2 122.5 91.8 124.8 90.5C127 89.1 128.9 86.8 131 86.3C133 85.9 134.9 87.1 137.2 87.8C139.4 88.5 141.8 89.7 144.4 90.5C147 91.2 149.8 91.5 152.7 92.5C155.6 93.6 159.1 95.1 162 96.7C165 98.2 167.9 100.1 170.3 101.8C172.7 103.6 175.3 104.9 176.5 107C177.7 109.1 177.2 112 177.6 114.3C177.9 116.5 177.7 118.6 178.6 120.5C179.4 122.4 181.5 123.9 182.7 125.6C184 127.4 186.4 129.5 186.2 131.2C186.1 133 183.2 134.7 181.7 136C180.2 137.3 178 137.2 177.1 139.1C176.3 141 176.8 144.6 176.5 147.4C176.2 150.1 176.7 153.3 175.5 155.7C174.3 158.1 171.7 160.3 169.3 161.9C166.9 163.4 163.7 163.8 161 165C158.2 166.2 154.9 167.6 152.7 169.1C150.5 170.7 149.1 173.1 147.5 174.3C146 175.5 144.9 176.5 143.4 176.4C141.8 176.2 140.1 174.6 138.2 173.3C136.3 171.9 134.4 169.5 132 168.1C129.6 166.7 126.5 166.1 123.7 165C121 163.9 117.9 163 115.4 161.5C113 159.9 111.3 157.3 109.2 155.7C107.2 154.1 105.3 152.9 103 151.9C100.8 151 97.7 151.3 95.8 149.9C93.9 148.4 92.5 145.4 91.6 143.2C90.8 141.1 90.8 139.1 90.6 137C90.4 135 89.8 133.2 90.2 130.8ZM117.1 130.8C116.9 128.1 117.4 124.9 118.5 122.5C119.6 120.2 121.7 118.1 123.7 116.7C125.8 115.4 128.4 114.7 131 114.3C133.6 113.8 136.5 113.7 139.2 114.3C142 114.8 145.3 115.8 147.5 117.4C149.8 118.9 151.6 121.2 152.7 123.6C153.8 126 154.4 129.1 154.4 131.9C154.4 134.6 153.8 137.8 152.7 140.1C151.6 142.5 149.6 144.4 147.5 145.7C145.5 147.1 142.9 148 140.3 148.4C137.7 148.9 134.6 148.9 132 148.4C129.4 147.9 126.8 146.9 124.8 145.3C122.7 143.8 120.9 141.5 119.6 139.1C118.3 136.7 117.3 133.6 117.1 130.8Z"/><path class="b" d="M77.1 118.4C77.1 114.8 77.8 110.3 79.2 107C80.6 103.7 82.7 101 85.4 98.7C88.2 96.5 93 95.8 95.8 93.6C98.5 91.3 99.9 87.9 102 85.3C104.1 82.7 105.4 79.9 108.2 78C111 76.1 115.3 74.9 118.5 73.9C121.8 72.9 124.9 72.9 127.9 71.8C130.8 70.8 133.4 68.6 136.1 67.7C138.9 66.7 141.8 65.9 144.4 66.2C147 66.6 149.3 68.1 151.7 69.7C154.1 71.4 156 74.2 158.9 76C161.9 77.7 165.8 78.5 169.3 80.1C172.7 81.7 176.9 83.4 179.6 85.3C182.4 87.2 183.8 89.1 185.8 91.5C187.9 93.9 190 97 192 99.8C194.1 102.5 196.7 104.9 198.3 108.1C199.8 111.2 200.5 115 201.4 118.4C202.2 121.9 202.8 125.3 203.4 128.8C204 132.2 205.2 135.7 204.9 139.1C204.5 142.6 203 146.2 201.4 149.5C199.7 152.7 197 155.7 195.1 158.8C193.3 161.9 192.2 165.2 190 168.1C187.7 171 184.3 174.2 181.7 176.4C179.1 178.5 177.2 180.1 174.4 180.9C171.7 181.8 168.4 180.8 165.1 181.6C161.9 182.3 158.2 184.5 154.8 185.7C151.3 186.9 147.5 187.8 144.4 188.8C141.3 189.8 139.2 191.1 136.1 191.9C133 192.7 129.1 193.4 125.8 193.4C122.5 193.4 119.2 192.8 116.5 191.9C113.7 191 111.3 189.8 109.2 187.8C107.2 185.7 106 182.4 104.1 179.5C102.2 176.5 100.3 173.4 97.8 170.2C95.4 166.9 92 162.9 89.6 159.8C87.1 156.7 84.5 155 83.3 151.5C82.2 148.1 83.4 142.9 82.7 139.1C82 135.3 80.1 132.2 79.2 128.8C78.3 125.3 77.1 122 77.1 118.4ZM113.4 135C113.4 132.4 113.4 127.7 114.4 124.6C115.4 121.5 117.3 118.6 119.6 116.3C121.8 114.1 124.9 112.3 127.9 111.2C130.8 110.1 134.1 109.7 137.2 109.7C140.3 109.7 143.6 110.1 146.5 111.2C149.4 112.3 152.5 114.1 154.8 116.3C157 118.6 158.8 121.7 160 124.6C161.1 127.5 161.8 130.8 161.6 133.9C161.4 137 160.4 140.5 158.9 143.2C157.4 146 155.1 148.7 152.7 150.5C150.3 152.3 147.2 153.3 144.4 154C141.7 154.7 139.1 155 136.1 154.6C133.2 154.3 129.8 153.3 126.8 151.9C123.9 150.6 120.6 148.3 118.5 146.4C116.5 144.4 115.3 142 114.4 140.1C113.5 138.2 113.4 137.6 113.4 135Z"/><use href="#mx" x="137.03" y="131.95"/></g>
<path class="t" d="M0.03 0.95H274.03V262.95H0.03ZM0.03 262.95v4.86M0.03 262.95h-4.86M46.03 262.95v4.86M0.03 218.95h-4.86M92.03 262.95v4.86M0.03 174.95h-4.86M137.03 262.95v4.86M0.03 131.95h-4.86M183.03 262.95v4.86M0.03 87.95h-4.86M228.03 262.95v4.86M0.03 43.95h-4.86M274.03 262.95v4.86M0.03 0.95h-4.86"/><text class="c n" x="-1.37" y="283.45">−3</text><text class="e n" x="-12.24" y="267.45">−3</text><text class="c n" x="44.63" y="283.45">−2</text><text class="e n" x="-12.24" y="224.45">−2</text><text class="c n" x="90.63" y="283.45">−1</text><text class="e n" x="-12.24" y="180.45">−1</text><text class="c" x="137.03" y="283.45">0</text><text class="e" x="-9.59" y="136.45">0</text><text class="c" x="183.03" y="283.45">1</text><text class="e" x="-9.59" y="93.45">1</text><text class="c" x="228.03" y="283.45">2</text><text class="e" x="-9.59" y="49.45">2</text><text class="c" x="274.03" y="283.45">3</text><text class="e" x="-9.59" y="5.45">3</text><text x="246.53" y="249.45">2</text><text x="300.53" y="26.45">logB (UROB) = 0.00</text><text x="300.53" y="65.45">logB (NESS) = 0.00</text><text x="300.53" y="104.45">logB (PRIO) = 0.00</text></g>
<g transform="translate(150.00,1013.11)">
<g clip-path="url(#cp)"><path fill="#d7f4d7" d="M88.3 117.9C88.9 113.9 91.1 110.3 91.9 106.5C92.6 102.7 91.7 97.5 92.9 95.1C94.1 92.7 96.7 92.3 99.1 92C101.5 91.6 104.3 93.4 107.4 93C110.5 92.7 114.3 90.7 117.7 89.9C121.2 89.1 124.3 89.2 128.1 88.5C131.9 87.7 136.4 85.4 140.5 85.1C144.7 84.9 149.1 85.8 152.9 86.8C156.7 87.8 159.8 89.4 163.3 90.9C166.7 92.5 170.9 93.9 173.6 96.1C176.4 98.4 178.1 101.8 179.9 104.4C181.6 107 183.5 109.4 184 111.6C184.5 113.9 181.8 116.3 183 117.9C184.2 119.4 189.4 119.2 191.2 121C193.1 122.7 193.9 125.6 193.9 128.2C193.9 130.8 191.9 133.7 191.2 136.5C190.6 139.2 191 142 190.2 144.8C189.4 147.5 187.7 149.9 186.5 153C185.3 156.2 184.8 161 183 163.4C181.2 165.8 178.6 166.2 175.7 167.5C172.8 168.9 168.8 170.6 165.4 171.7C161.9 172.7 158.5 173.1 155 173.8C151.6 174.4 147.8 175.4 144.7 175.8C141.6 176.3 139.1 176.6 136.4 176.4C133.6 176.3 130.9 175.6 128.1 174.8C125.3 174 122.6 172.5 119.8 171.7C117.1 170.9 114.3 170.5 111.5 170C108.8 169.5 105.7 169.7 103.3 168.6C100.8 167.5 98.9 165.1 97 163.4C95.1 161.7 93.4 159.9 91.9 158.2C90.3 156.5 88.4 155.6 87.7 153C87 150.5 87.6 146.5 87.7 142.7C87.9 138.9 88.7 134.4 88.8 130.3C88.9 126.1 87.8 121.8 88.3 117.9Z"/><path fill="#c3e4c5" stroke="#a9dcad" stroke-width="1" d="M116.7 131.3C116.7 128.5 117 124.6 118.2 122C119.3 119.4 121.5 117.3 123.5 115.8C125.6 114.2 128.1 113.3 130.6 112.7C133.1 112.1 135.8 112.1 138.4 112.3C141.1 112.4 144.4 112.6 146.7 113.7C149.1 114.8 151.1 116.8 152.5 118.9C154 121 154.9 123.5 155.4 126.1C155.9 128.7 155.5 132 155.4 134.4C155.4 136.8 155.8 138.4 155 140.6C154.3 142.9 152.6 146.4 150.9 147.9C149.1 149.3 146.9 149 144.7 149.3C142.4 149.7 140 150 137.4 149.9C134.8 149.9 131.7 149.8 129.1 148.9C126.6 148 124.1 146.1 122.3 144.4C120.5 142.6 119.1 140.7 118.2 138.6C117.2 136.4 116.7 134.1 116.7 131.3Z"/><path class="b" d="M74.3 132.3C73.9 128.7 75.1 125.1 76.3 122C77.5 118.9 80.5 116.8 81.5 113.7C82.5 110.6 81.7 106.8 82.5 103.4C83.4 99.9 85 95.9 86.7 93C88.4 90.1 90.1 87.5 92.9 85.8C95.7 84 99.8 83.2 103.3 82.7C106.7 82.1 110.8 81.9 113.6 82.2C116.4 82.6 117.7 83.7 119.8 84.7C121.9 85.8 123.3 87.6 126 88.5C128.8 89.3 132.6 89.6 136.4 89.9C140.2 90.2 145 90.8 148.8 90.5C152.6 90.3 156 89.1 159.2 88.5C162.3 87.8 164.8 86.5 167.4 86.4C170 86.3 172.6 86.7 174.7 87.8C176.8 88.9 178 90.9 179.9 93C181.8 95.1 183.8 98.2 186.1 100.3C188.3 102.3 191.4 103.4 193.3 105.4C195.2 107.5 196.6 109.9 197.5 112.7C198.3 115.4 198.7 119.1 198.5 122C198.3 124.9 196.5 127.5 196.4 130.3C196.4 133 198.2 135.8 198.1 138.6C197.9 141.3 196.9 144.4 195.4 146.8C193.9 149.3 191.1 150.8 189.2 153C187.3 155.3 185 157.7 184 160.3C183 162.9 184.3 166.3 183 168.6C181.6 170.8 178.6 172.4 175.7 173.8C172.8 175.1 168.5 176 165.4 176.4C162.3 176.9 159.5 176.9 157.1 176.4C154.7 176 152.9 174.9 150.9 173.8C148.8 172.6 146.9 170.5 144.7 169.6C142.4 168.7 139.5 168.2 137.4 168.6C135.3 168.9 133.6 170.3 132.2 171.7C130.9 173.1 130.9 175.4 129.1 176.9C127.4 178.3 124.8 180 121.9 180.4C119 180.7 115 179.7 111.5 178.9C108.1 178.2 104.6 177.2 101.2 175.8C97.7 174.4 93.8 172.7 90.8 170.6C87.9 168.6 85 166.3 83.6 163.4C82.1 160.5 83 156.3 82.1 153C81.3 149.8 79.7 147.2 78.4 143.7C77.1 140.3 74.6 136 74.3 132.3ZM103.7 132.3C103.8 129.4 104.9 125.8 106.4 123C107.8 120.3 110 117.6 112.6 115.8C115.2 114 118.3 112.7 121.9 112.1C125.5 111.4 129.8 112.1 134.3 112.1C138.8 112.1 144.8 111.4 148.8 112.1C152.8 112.7 155.5 114 158.1 115.8C160.7 117.6 162.8 120.3 164.3 123C165.9 125.8 167.2 129.2 167.4 132.3C167.7 135.4 166.8 139 165.8 141.7C164.7 144.4 163.4 146.9 161.2 148.5C159.1 150.1 155.7 151.1 152.9 151.4C150.2 151.6 147.4 150.4 144.7 149.9C141.9 149.5 139.1 148.4 136.4 148.5C133.6 148.6 130.9 150.1 128.1 150.6C125.3 151 122.7 151.8 119.8 151.4C116.9 150.9 112.9 149.7 110.5 147.9C108.1 146.1 106.5 143.2 105.3 140.6C104.2 138 103.5 135.3 103.7 132.3Z"/><path class="r" d="M83.6 153C83.6 150.7 84.8 146.5 85.7 142.7C86.5 138.9 87.9 134.4 88.8 130.3C89.6 126.1 90.3 121.6 90.8 117.9C91.3 114.1 91 110.4 91.9 107.5C92.7 104.6 94.4 102.7 96 100.3C97.6 97.8 100.6 95.8 101.6 93C102.6 90.2 101.3 85.5 102.2 83.7C103.2 81.9 105.7 81.7 107.4 82.2C109.1 82.8 110.5 85.8 112.6 86.8C114.6 87.8 117.2 88.7 119.8 88.5C122.4 88.2 125 85.8 128.1 85.1C131.2 84.4 135 84.2 138.4 84.3C141.9 84.4 145.5 85.3 148.8 85.8C152.1 86.2 155.4 85.6 158.1 86.8C160.9 88 162.9 90.9 165.4 93C167.8 95.1 170.2 97.1 172.6 99.2C175 101.4 177.9 103.9 179.9 105.8C181.8 107.7 183.9 108.9 184.4 110.6C184.9 112.3 183.7 113.9 183 115.8C182.3 117.7 180.3 119.9 180.3 122C180.3 124.1 182 126.1 183 128.2C183.9 130.3 185.7 131.8 186.1 134.4C186.4 137 185 140.8 185 143.7C185.1 146.7 186.8 149.3 186.5 152C186.1 154.8 184.4 157.7 183 160.3C181.5 162.9 180 165.6 177.8 167.5C175.5 169.4 172.6 170.6 169.5 171.7C166.4 172.7 162.6 173.2 159.2 173.8C155.7 174.3 152.3 175 148.8 175.2C145.4 175.4 141.9 174.8 138.4 174.8C135 174.8 131.2 175.8 128.1 175.4C125 175.1 122.4 173.8 119.8 172.7C117.2 171.7 115 170.5 112.6 169.2C110.2 167.9 107.6 166.5 105.3 165.1C103.1 163.6 101.5 161.4 99.1 160.3C96.7 159.2 93.1 158.8 90.8 158.2C88.6 157.6 86.9 157.6 85.7 156.8C84.4 155.9 83.6 155.4 83.6 153ZM115.7 131.3C115.7 128.5 116.1 124.6 117.3 122C118.5 119.3 120.8 117 122.9 115.4C125.1 113.7 127.6 112.7 130.2 112.1C132.8 111.4 135.7 111.4 138.4 111.6C141.2 111.8 144.3 112.1 146.7 113.3C149.1 114.5 151.4 116.7 152.9 118.9C154.5 121 155.5 123.5 156 126.1C156.6 128.7 156.7 131.7 156 134.4C155.4 137.2 153.6 140.3 151.9 142.7C150.2 145 148.1 147.2 145.7 148.5C143.3 149.8 140.2 150.4 137.4 150.6C134.7 150.7 131.7 150.3 129.1 149.3C126.5 148.4 123.9 146.6 121.9 144.8C119.9 143 118.4 140.8 117.3 138.6C116.3 136.3 115.7 134.1 115.7 131.3Z"/><use href="#mx" x="88.50" y="108.39"/></g>
<path class="t" d="M0.50 0.39H274.50V262.39H0.50ZM0.50 262.39v4.86M0.50 262.39h-4.86M46.50 262.39v4.86M0.50 219.39h-4.86M91.50 262.39v4.86M0.50 175.39h-4.86M137.50 262.39v4.86M0.50 131.39h-4.86M182.50 262.39v4.86M0.50 87.39h-4.86M228.50 262.39v4.86M0.50 44.39h-4.86M274.50 262.39v4.86M0.50 0.39h-4.86"/><text class="c n" x="-0.90" y="282.89">−3</text><text class="e n" x="-11.77" y="267.89">−3</text><text class="c n" x="45.10" y="282.89">−2</text><text class="e n" x="-11.77" y="223.89">−2</text><text class="c n" x="90.10" y="282.89">−1</text><text class="e n" x="-11.77" y="179.89">−1</text><text class="c" x="137.50" y="282.89">0</text><text class="e" x="-9.12" y="136.89">0</text><text class="c" x="182.50" y="282.89">1</text><text class="e" x="-9.12" y="92.89">1</text><text class="c" x="228.50" y="282.89">2</text><text class="e" x="-9.12" y="48.89">2</text><text class="c" x="274.50" y="282.89">3</text><text class="e" x="-9.12" y="5.89">3</text><text x="246.00" y="248.89">1</text></g>
<g transform="translate(478.24,1013.11)">
<g clip-path="url(#cp)"><path fill="#d7f4d7" d="M82.3 130.3C82.3 127 82.3 123 83.3 119.9C84.4 116.8 87.1 114.7 88.5 111.6C89.9 108.5 90.2 104.4 91.6 101.3C93 98.2 94.2 94.6 96.8 93C99.4 91.5 103.7 93 107.2 92C110.6 90.9 115.3 88.7 117.5 86.8C119.8 84.9 118.9 82.1 120.6 80.6C122.3 79 124.9 77.8 127.9 77.5C130.8 77.1 134.8 78.5 138.2 78.5C141.7 78.5 145.1 78 148.6 77.5C152 77 156 75.1 158.9 75.4C161.9 75.8 164.6 77.5 166.2 79.5C167.7 81.6 166.9 85.6 168.2 87.8C169.6 90.1 172.2 91.1 174.4 93C176.7 94.9 179.1 97.1 181.7 99.2C184.3 101.3 187.9 103 190 105.4C192 107.8 193.8 110.9 194.1 113.7C194.5 116.5 192.2 119.2 192 122C191.9 124.8 193.4 127.5 193.1 130.3C192.7 133 190.2 135.8 190 138.6C189.7 141.3 191.6 144.1 191.6 146.8C191.6 149.6 191.1 152.5 190 155.1C188.8 157.7 186.5 160.3 184.8 162.4C183.1 164.4 180.7 165.3 179.6 167.5C178.6 169.8 179.6 173.6 178.6 175.8C177.6 178.1 175 178.9 173.4 181C171.9 183.1 171 186.7 169.3 188.2C167.5 189.8 165.1 190.3 163.1 190.3C161 190.3 158.2 189.5 156.8 188.2C155.5 187 156.2 184.3 154.8 183.1C153.4 181.9 150.6 180.7 148.6 181C146.5 181.3 144.4 184.1 142.4 185.1C140.3 186.2 138.6 187 136.1 187.2C133.7 187.4 130.6 186.9 127.9 186.2C125.1 185.5 122 184.3 119.6 183.1C117.2 181.9 115.4 180.1 113.4 178.9C111.3 177.7 109.2 176.7 107.2 175.8C105.1 175 102.8 175.1 100.9 173.8C99 172.4 96.8 169.8 95.8 167.5C94.7 165.3 94.6 162.5 94.7 160.3C94.9 158.1 97.3 155.8 96.8 154.1C96.3 152.4 93.4 151.3 91.6 149.9C89.9 148.6 87.8 147.5 86.5 145.8C85.1 144.1 84 142.2 83.3 139.6C82.7 137 82.3 133.6 82.3 130.3Z"/><path fill="#c3e4c5" stroke="#a9dcad" stroke-width="1" d="M111.3 131.3C111.3 128.5 113 124.8 114.4 122C115.8 119.2 117.5 116.6 119.6 114.7C121.7 112.8 124.2 111.5 126.8 110.6C129.4 109.7 132.2 109.6 135.1 109.6C138 109.6 141.7 109.7 144.4 110.6C147.2 111.5 149.6 112.8 151.7 114.7C153.7 116.6 155.8 119.4 156.8 122C157.9 124.6 158.1 127.3 157.9 130.3C157.7 133.2 157 136.8 155.8 139.6C154.7 142.3 152.9 145 151.1 146.8C149.2 148.7 146.9 149.8 144.4 150.6C141.9 151.3 138.9 151.6 136.1 151.4C133.4 151.2 130.5 150.5 127.9 149.3C125.3 148.1 122.9 146.1 120.6 144.4C118.4 142.6 116 140.7 114.4 138.6C112.9 136.4 111.3 134.1 111.3 131.3Z"/><path class="b" d="M71.5 136.5C71 133.6 72.8 130.1 74 127.2C75.3 124.2 78.5 121.8 79.2 118.9C79.9 116 78 113 78.2 109.6C78.3 106.1 78.9 100.9 80.2 98.2C81.6 95.4 84.2 94.2 86.5 93C88.7 91.8 91.6 92.1 93.7 90.9C95.8 89.7 97 87.7 98.9 85.8C100.8 83.9 102.3 80.9 105.1 79.5C107.8 78.2 112 78.4 115.4 77.5C118.9 76.5 122.3 74.9 125.8 74C129.2 73 133 72.3 136.1 71.9C139.2 71.4 141.7 70.9 144.4 71.3C147.2 71.6 149.6 72.7 152.7 74C155.8 75.2 159.6 77.3 163.1 78.9C166.5 80.5 170.7 81.7 173.4 83.7C176.2 85.7 177.6 88.6 179.6 90.9C181.7 93.2 183.8 95.8 185.8 97.6C187.9 99.3 190.1 99.5 192 101.3C193.9 103.1 195.5 105.8 197.2 108.5C198.9 111.3 201.9 114.6 202.4 117.9C202.9 121.1 201.4 125.1 200.3 128.2C199.3 131.3 197 133.6 196.2 136.5C195.3 139.4 195.1 142.9 195.1 145.8C195.1 148.7 196.5 151.7 196.2 154.1C195.8 156.5 195 158.4 193.1 160.3C191.2 162.2 186.7 163.1 184.8 165.5C182.9 167.9 183.4 172.3 181.7 174.8C180 177.3 177.2 179.2 174.4 180.4C171.7 181.6 168.1 181.4 165.1 182C162.2 182.7 159.1 182.5 156.8 184.1C154.6 185.7 153.4 189.9 151.7 191.3C149.9 192.8 148.7 192.8 146.5 192.8C144.3 192.8 141.3 192.3 138.2 191.3C135.1 190.4 131.3 188.6 127.9 187.2C124.4 185.8 121 184.3 117.5 183.1C114.1 181.8 110.6 180.6 107.2 179.5C103.7 178.5 100.1 178.2 96.8 176.9C93.5 175.5 89.7 173.9 87.5 171.7C85.2 169.4 84.6 166.5 83.3 163.4C82.1 160.3 81.3 156.2 80.2 153C79.2 149.9 78.6 147.5 77.1 144.8C75.7 142 72.1 139.4 71.5 136.5ZM113 132.3C112.8 129.4 113.3 125.1 114.4 122C115.5 118.9 117.5 116.1 119.6 113.7C121.7 111.3 124.1 108.8 126.8 107.5C129.6 106.2 132.9 105.8 136.1 105.8C139.4 105.9 143.4 106.6 146.5 107.9C149.6 109.2 152.6 111.4 154.8 113.7C156.9 116.1 158.3 119.1 159.3 122C160.4 124.9 161.1 128.2 161 131.3C160.9 134.4 160.1 137.8 158.9 140.6C157.7 143.5 156 146.5 153.7 148.5C151.5 150.5 148.4 151.8 145.5 152.6C142.5 153.5 139.1 153.7 136.1 153.5C133.2 153.2 130.5 152.3 127.9 151C125.3 149.7 122.7 147.7 120.6 145.8C118.5 143.9 116.7 141.8 115.4 139.6C114.2 137.3 113.1 135.3 113 132.3Z"/><path class="r" d="M81.9 136.5C82.3 135.1 83.9 133.4 85.4 132.3C86.9 131.2 89.6 131.6 91 129.9C92.4 128.1 93 124.7 93.7 122C94.4 119.3 94.6 116.6 95.1 113.7C95.7 110.8 96.4 106.6 97.2 104.4C98 102.1 98.3 101.3 99.9 100.3C101.6 99.2 104.6 99.1 107.2 98.2C109.7 97.2 112.7 96.4 115.4 94.7C118.2 92.9 121 89.8 123.7 87.8C126.5 85.8 129.6 83.8 132 82.7C134.4 81.5 136.1 80.7 138.2 81C140.3 81.3 142 83.7 144.4 84.7C146.8 85.8 149.9 86.7 152.7 87.2C155.5 87.7 158.2 86.7 161 87.8C163.7 89 166.7 91.6 169.3 94C171.9 96.5 174.4 99.6 176.5 102.3C178.6 105.1 180.7 107.7 181.7 110.6C182.7 113.5 182.6 116.6 182.7 119.9C182.9 123.2 183.1 127.2 182.7 130.3C182.4 133.4 182 135.6 180.7 138.6C179.3 141.5 175.7 145.1 174.4 147.9C173.2 150.6 173.3 152.9 173.4 155.1C173.5 157.4 175.4 158.9 175.1 161.3C174.7 163.7 172.8 167.2 171.3 169.6C169.9 172 167.9 174.6 166.2 175.8C164.4 177 162.7 177.2 161 176.9C159.3 176.5 157.5 174.5 155.8 173.8C154.1 173 152.9 172 150.6 172.1C148.4 172.2 145.5 173.4 142.4 174.2C139.2 174.9 135.1 176.3 132 176.4C128.9 176.6 126 175.8 123.7 175.2C121.5 174.6 120.1 173.6 118.5 172.7C117 171.8 115.8 169.6 114.4 169.6C113 169.6 111.5 171.5 110.3 172.7C109.1 173.9 108.4 175.9 107.2 176.9C106 177.8 104.1 178.8 103 178.3C101.9 177.8 100.8 175.9 100.5 173.8C100.3 171.6 100.9 167.9 101.4 165.5C101.8 163.1 103.4 161.2 103 159.3C102.6 157.4 100.6 155.5 98.9 154.1C97.2 152.6 94.7 151.9 92.7 150.6C90.6 149.2 88.1 147.5 86.5 145.8C84.8 144.1 83.5 142.2 82.7 140.6C82 139.1 81.5 137.9 81.9 136.5ZM115 132.3C115 129.9 116 126.5 117.1 124.1C118.2 121.6 119.9 119.6 121.7 117.9C123.4 116.1 125.8 114.8 127.9 113.7C129.9 112.6 131.7 111.5 134.1 111.2C136.5 110.9 139.8 111.5 142.4 112.1C144.9 112.6 147.5 113.4 149.6 114.7C151.7 116.1 153.6 117.7 154.8 119.9C155.9 122.2 156.4 125.4 156.4 128.2C156.5 131 156.2 133.9 155.2 136.5C154.2 139.1 152.4 141.8 150.6 143.7C148.8 145.6 146.8 146.8 144.4 147.9C142 148.9 138.9 149.9 136.1 149.9C133.4 149.9 130.3 148.9 127.9 147.9C125.4 146.8 123.4 145.3 121.7 143.7C119.9 142.2 118.2 140.5 117.1 138.6C116 136.7 115 134.8 115 132.3Z"/><use href="#mx" x="88.26" y="108.39"/></g>
<path class="t" d="M0.26 0.39H274.26V262.39H0.26ZM0.26 262.39v4.86M0.26 262.39h-4.86M46.26 262.39v4.86M0.26 219.39h-4.86M91.26 262.39v4.86M0.26 175.39h-4.86M137.26 262.39v4.86M0.26 131.39h-4.86M183.26 262.39v4.86M0.26 87.39h-4.86M228.26 262.39v4.86M0.26 44.39h-4.86M274.26 262.39v4.86M0.26 0.39h-4.86"/><text class="c n" x="-1.14" y="282.89">−3</text><text class="e n" x="-12.01" y="267.89">−3</text><text class="c n" x="44.86" y="282.89">−2</text><text class="e n" x="-12.01" y="223.89">−2</text><text class="c n" x="89.86" y="282.89">−1</text><text class="e n" x="-12.01" y="179.89">−1</text><text class="c" x="137.26" y="282.89">0</text><text class="e" x="-9.36" y="136.89">0</text><text class="c" x="183.26" y="282.89">1</text><text class="e" x="-9.36" y="92.89">1</text><text class="c" x="228.26" y="282.89">2</text><text class="e" x="-9.36" y="48.89">2</text><text class="c" x="274.26" y="282.89">3</text><text class="e" x="-9.36" y="5.89">3</text><text x="245.76" y="248.89">2</text></g>
<g transform="translate(806.47,1013.11)">
<g clip-path="url(#cp)"><path fill="#eeeeee" d="M69.7 97.1C69.8 94.7 74.8 94.4 77.9 93C81 91.6 85.4 90.8 88.3 88.9C91.2 87 94 84.2 95.5 81.6C97.1 79 95.7 74.9 97.6 73.3C99.5 71.8 103.3 72.3 106.9 72.3C110.5 72.3 115.5 73.5 119.3 73.3C123.1 73.2 125.9 71.8 129.7 71.3C133.5 70.7 138.3 70.5 142.1 70.2C145.9 70 149.4 70.2 152.5 69.8C155.6 69.5 157.6 67.6 160.8 68.2C163.9 68.7 168.3 71.3 171.1 73.3C173.9 75.4 175.2 78 177.3 80.6C179.4 83.2 181.5 86.4 183.5 88.9C185.6 91.3 188.5 92.3 189.7 95.1C190.9 97.8 190.6 102 190.8 105.4C190.9 108.9 190.3 112.7 190.8 115.8C191.3 118.9 192.7 121.3 193.9 124.1C195.1 126.8 197.5 129.2 198 132.3C198.5 135.4 196.6 139.6 197 142.7C197.3 145.8 200.3 148.2 200.1 151C199.9 153.7 197.5 156.5 195.9 159.3C194.4 162 192 164.8 190.8 167.5C189.6 170.3 190.6 173.9 188.7 175.8C186.8 177.7 182.7 177.9 179.4 178.9C176.1 180 172.1 180.7 169 182C165.9 183.4 163.5 185.5 160.8 187.2C158 188.9 155.9 191.7 152.5 192.4C149 193.1 144.2 191.3 140 191.3C135.9 191.3 131.8 192 127.6 192.4C123.5 192.7 118.1 194.3 115.2 193.4C112.3 192.6 111.8 189.5 110 187.2C108.3 185 107.1 181.7 104.9 180C102.6 178.2 99.5 177.9 96.6 176.9C93.6 175.8 89.5 175.6 87.3 173.8C85 171.9 84.3 168.6 83.1 165.5C81.9 162.4 81 158.4 80 155.1C79 151.8 78.1 148.9 76.9 145.8C75.7 142.7 73.5 139.8 72.8 136.5C72.1 133.2 71.9 129.2 72.8 126.1C73.6 123 77.2 121 77.9 117.9C78.6 114.7 78.3 110.9 76.9 107.5C75.5 104 69.5 99.6 69.7 97.1Z"/><path fill="#dddddd" stroke="#d0d0d0" stroke-width="1" d="M113.5 132.3C113.4 129.7 113.8 126 114.8 123C115.8 120.1 117.4 117.1 119.3 114.7C121.3 112.4 123.8 110.4 126.6 109.2C129.4 107.9 132.6 107.2 135.9 107.1C139.2 107 143.2 107.4 146.3 108.5C149.3 109.6 152.1 111.5 154.1 113.7C156.2 116 157.6 119.1 158.7 122C159.7 124.9 160.4 128.2 160.3 131.3C160.3 134.4 159.5 137.9 158.3 140.6C157 143.4 155.1 146 152.9 147.9C150.7 149.8 148.1 151.1 145.2 152C142.4 152.9 138.8 153.3 135.9 153C133 152.8 130.2 151.9 127.6 150.6C125 149.3 122.4 147.1 120.4 145.2C118.4 143.2 116.8 141.1 115.6 139C114.5 136.8 113.7 135 113.5 132.3Z"/><path class="r" d="M81.9 136.5C82.3 135.1 83.9 133.4 85.4 132.3C86.9 131.2 89.6 131.6 91 129.9C92.4 128.1 93 124.7 93.7 122C94.4 119.3 94.6 116.6 95.1 113.7C95.7 110.8 96.4 106.6 97.2 104.4C98 102.1 98.3 101.3 99.9 100.3C101.6 99.2 104.6 99.1 107.2 98.2C109.7 97.2 112.7 96.4 115.4 94.7C118.2 92.9 121 89.8 123.7 87.8C126.5 85.8 129.6 83.8 132 82.7C134.4 81.5 136.1 80.7 138.2 81C140.3 81.3 142 83.7 144.4 84.7C146.8 85.8 149.9 86.7 152.7 87.2C155.5 87.7 158.2 86.7 161 87.8C163.7 89 166.7 91.6 169.3 94C171.9 96.5 174.4 99.6 176.5 102.3C178.6 105.1 180.7 107.7 181.7 110.6C182.7 113.5 182.6 116.6 182.7 119.9C182.9 123.2 183.1 127.2 182.7 130.3C182.4 133.4 182 135.6 180.7 138.6C179.3 141.5 175.7 145.1 174.4 147.9C173.2 150.6 173.3 152.9 173.4 155.1C173.5 157.4 175.4 158.9 175.1 161.3C174.7 163.7 172.8 167.2 171.3 169.6C169.9 172 167.9 174.6 166.2 175.8C164.4 177 162.7 177.2 161 176.9C159.3 176.5 157.5 174.5 155.8 173.8C154.1 173 152.9 172 150.6 172.1C148.4 172.2 145.5 173.4 142.4 174.2C139.2 174.9 135.1 176.3 132 176.4C128.9 176.6 126 175.8 123.7 175.2C121.5 174.6 120.1 173.6 118.5 172.7C117 171.8 115.8 169.6 114.4 169.6C113 169.6 111.5 171.5 110.3 172.7C109.1 173.9 108.4 175.9 107.2 176.9C106 177.8 104.1 178.8 103 178.3C101.9 177.8 100.8 175.9 100.5 173.8C100.3 171.6 100.9 167.9 101.4 165.5C101.8 163.1 103.4 161.2 103 159.3C102.6 157.4 100.6 155.5 98.9 154.1C97.2 152.6 94.7 151.9 92.7 150.6C90.6 149.2 88.1 147.5 86.5 145.8C84.8 144.1 83.5 142.2 82.7 140.6C82 139.1 81.5 137.9 81.9 136.5ZM115 132.3C115 129.9 116 126.5 117.1 124.1C118.2 121.6 119.9 119.6 121.7 117.9C123.4 116.1 125.8 114.8 127.9 113.7C129.9 112.6 131.7 111.5 134.1 111.2C136.5 110.9 139.8 111.5 142.4 112.1C144.9 112.6 147.5 113.4 149.6 114.7C151.7 116.1 153.6 117.7 154.8 119.9C155.9 122.2 156.4 125.4 156.4 128.2C156.5 131 156.2 133.9 155.2 136.5C154.2 139.1 152.4 141.8 150.6 143.7C148.8 145.6 146.8 146.8 144.4 147.9C142 148.9 138.9 149.9 136.1 149.9C133.4 149.9 130.3 148.9 127.9 147.9C125.4 146.8 123.4 145.3 121.7 143.7C119.9 142.2 118.2 140.5 117.1 138.6C116 136.7 115 134.8 115 132.3Z"/><path class="b" d="M71.5 136.5C71 133.6 72.8 130.1 74 127.2C75.3 124.2 78.5 121.8 79.2 118.9C79.9 116 78 113 78.2 109.6C78.3 106.1 78.9 100.9 80.2 98.2C81.6 95.4 84.2 94.2 86.5 93C88.7 91.8 91.6 92.1 93.7 90.9C95.8 89.7 97 87.7 98.9 85.8C100.8 83.9 102.3 80.9 105.1 79.5C107.8 78.2 112 78.4 115.4 77.5C118.9 76.5 122.3 74.9 125.8 74C129.2 73 133 72.3 136.1 71.9C139.2 71.4 141.7 70.9 144.4 71.3C147.2 71.6 149.6 72.7 152.7 74C155.8 75.2 159.6 77.3 163.1 78.9C166.5 80.5 170.7 81.7 173.4 83.7C176.2 85.7 177.6 88.6 179.6 90.9C181.7 93.2 183.8 95.8 185.8 97.6C187.9 99.3 190.1 99.5 192 101.3C193.9 103.1 195.5 105.8 197.2 108.5C198.9 111.3 201.9 114.6 202.4 117.9C202.9 121.1 201.4 125.1 200.3 128.2C199.3 131.3 197 133.6 196.2 136.5C195.3 139.4 195.1 142.9 195.1 145.8C195.1 148.7 196.5 151.7 196.2 154.1C195.8 156.5 195 158.4 193.1 160.3C191.2 162.2 186.7 163.1 184.8 165.5C182.9 167.9 183.4 172.3 181.7 174.8C180 177.3 177.2 179.2 174.4 180.4C171.7 181.6 168.1 181.4 165.1 182C162.2 182.7 159.1 182.5 156.8 184.1C154.6 185.7 153.4 189.9 151.7 191.3C149.9 192.8 148.7 192.8 146.5 192.8C144.3 192.8 141.3 192.3 138.2 191.3C135.1 190.4 131.3 188.6 127.9 187.2C124.4 185.8 121 184.3 117.5 183.1C114.1 181.8 110.6 180.6 107.2 179.5C103.7 178.5 100.1 178.2 96.8 176.9C93.5 175.5 89.7 173.9 87.5 171.7C85.2 169.4 84.6 166.5 83.3 163.4C82.1 160.3 81.3 156.2 80.2 153C79.2 149.9 78.6 147.5 77.1 144.8C75.7 142 72.1 139.4 71.5 136.5ZM113 132.3C112.8 129.4 113.3 125.1 114.4 122C115.5 118.9 117.5 116.1 119.6 113.7C121.7 111.3 124.1 108.8 126.8 107.5C129.6 106.2 132.9 105.8 136.1 105.8C139.4 105.9 143.4 106.6 146.5 107.9C149.6 109.2 152.6 111.4 154.8 113.7C156.9 116.1 158.3 119.1 159.3 122C160.4 124.9 161.1 128.2 161 131.3C160.9 134.4 160.1 137.8 158.9 140.6C157.7 143.5 156 146.5 153.7 148.5C151.5 150.5 148.4 151.8 145.5 152.6C142.5 153.5 139.1 153.7 136.1 153.5C133.2 153.2 130.5 152.3 127.9 151C125.3 149.7 122.7 147.7 120.6 145.8C118.5 143.9 116.7 141.8 115.4 139.6C114.2 137.3 113.1 135.3 113 132.3Z"/><use href="#mx" x="88.03" y="108.39"/></g>
<path class="t" d="M0.03 0.39H274.03V262.39H0.03ZM0.03 262.39v4.86M0.03 262.39h-4.86M46.03 262.39v4.86M0.03 219.39h-4.86M92.03 262.39v4.86M0.03 175.39h-4.86M137.03 262.39v4.86M0.03 131.39h-4.86M183.03 262.39v4.86M0.03 87.39h-4.86M228.03 262.39v4.86M0.03 44.39h-4.86M274.03 262.39v4.86M0.03 0.39h-4.86"/><text class="c n" x="-1.37" y="282.89">−3</text><text class="e n" x="-12.24" y="267.89">−3</text><text class="c n" x="44.63" y="282.89">−2</text><text class="e n" x="-12.24" y="223.89">−2</text><text class="c n" x="90.63" y="282.89">−1</text><text class="e n" x="-12.24" y="179.89">−1</text><text class="c" x="137.03" y="282.89">0</text><text class="e" x="-9.59" y="136.89">0</text><text class="c" x="183.03" y="282.89">1</text><text class="e" x="-9.59" y="92.89">1</text><text class="c" x="228.03" y="282.89">2</text><text class="e" x="-9.59" y="48.89">2</text><text class="c" x="274.03" y="282.89">3</text><text class="e" x="-9.59" y="5.89">3</text><text x="246.53" y="248.89">2</text><text x="300.53" y="25.89">logB (UROB) = 0.00</text><text x="300.53" y="65.89">logB (NESS) = 0.00</text><text x="300.53" y="104.89">logB (PRIO) = 0.00</text></g>
<g transform="translate(150.00,1327.66)">
<g clip-path="url(#cp)"><path fill="#d7f4d7" d="M69.1 122.4C70 120.7 74.6 120.2 75.3 118.3C76 116.4 72.5 113.3 73.2 111.1C73.9 108.8 77.4 107.1 79.4 104.8C81.5 102.6 84.3 100.2 85.7 97.6C87 95 87.4 92.4 87.7 89.3C88.1 86.2 86.9 81.4 87.7 79C88.6 76.5 90.3 75.3 92.9 74.8C95.5 74.3 100.7 75.2 103.3 75.9C105.8 76.5 106 78.6 108.4 79C110.8 79.3 114.8 79.1 117.7 77.9C120.7 76.7 123.4 73.8 126 71.7C128.6 69.6 131 67.1 133.3 65.5C135.5 63.9 137.9 61.6 139.5 62C141 62.3 140.9 65.4 142.6 67.6C144.3 69.7 146.7 73.3 149.8 74.8C152.9 76.4 157.9 76 161.2 76.9C164.5 77.8 167.8 78.1 169.5 80C171.2 81.9 171.1 85.3 171.6 88.3C172.1 91.2 171.2 94.8 172.6 97.6C174 100.4 177.3 103.8 179.9 104.8C182.4 105.9 186.1 102.6 188.1 103.8C190.2 105 191.4 109 192.3 112.1C193.1 115.2 192.5 119.3 193.3 122.4C194.2 125.5 196.4 128 197.5 130.7C198.5 133.5 199.5 135.9 199.5 139C199.5 142.1 198.3 146.2 197.5 149.4C196.6 152.5 195.4 155.2 194.3 157.6C193.3 160 193 162.1 191.2 163.8C189.5 165.6 186.2 167.3 184 168C181.8 168.7 179.5 167 177.8 168C176.1 169 175.7 172.5 173.6 174.2C171.6 175.9 168.1 177 165.4 178.3C162.6 179.7 160.2 181.6 157.1 182.5C154 183.3 150.2 183.9 146.7 183.5C143.3 183.2 139.5 180.8 136.4 180.4C133.3 180.1 130.9 180.8 128.1 181.4C125.3 182.1 122.6 184.4 119.8 184.5C117.1 184.7 113.9 183.2 111.5 182.5C109.1 181.8 107.6 181.8 105.3 180.4C103.1 179 100.5 176.4 98.1 174.2C95.7 172 93.4 168.5 90.8 167C88.2 165.4 85.3 164.7 82.5 164.9C79.8 165.1 76.7 167.8 74.3 168C71.9 168.2 69.2 167.6 68.1 165.9C67 164.2 67.1 160 67.6 157.6C68.2 155.2 70.1 153.3 71.2 151.4C72.3 149.5 72.7 147.5 74.3 146.2C75.8 145 79.8 146.1 80.5 144.2C81.2 142.3 80.1 137.4 78.4 134.9C76.7 132.3 71.7 130.7 70.1 128.6C68.6 126.6 68.2 124.2 69.1 122.4Z"/><path fill="#c3e4c5" stroke="#a9dcad" stroke-width="1" d="M112.6 128.6C112.7 126.1 112.7 121.9 113.6 119.3C114.5 116.7 115.8 114.7 117.7 113.1C119.6 111.5 122.4 110.3 125 109.6C127.6 108.9 130.3 108.8 133.3 109C136.2 109.1 139.6 109.9 142.6 110.4C145.6 110.9 148.9 111.2 151.3 112.1C153.7 113 155.8 114.1 157.1 115.8C158.4 117.5 158.9 119.6 159.2 122.4C159.4 125.3 159 129.3 158.7 132.8C158.5 136.2 158.5 140.3 157.5 143.1C156.5 146 154.7 148.1 152.5 149.8C150.4 151.4 147.4 152.6 144.7 153.1C142 153.5 139.1 152.7 136.4 152.5C133.6 152.3 130.6 152.5 128.1 151.8C125.6 151.1 123.5 150.1 121.5 148.3C119.4 146.5 117.1 143.3 115.7 141.1C114.3 138.8 113.5 136.9 113 134.9C112.5 132.8 112.5 131.2 112.6 128.6Z"/><path class="b" d="M74.7 124.5C75 121.4 76.1 117.6 77.4 114.2C78.7 110.7 80.7 107.4 82.5 103.8C84.4 100.2 86.3 96 88.8 92.4C91.2 88.8 94.5 85 97 82.1C99.6 79.1 102 76.3 104.3 74.8C106.5 73.3 108.3 73.1 110.5 73.2C112.7 73.2 115.2 74.3 117.7 75.2C120.3 76.1 122.9 77.8 126 78.5C129.1 79.3 132.9 80.2 136.4 80C139.8 79.8 143.3 78.1 146.7 77.3C150.2 76.5 153.8 75.6 157.1 75.2C160.4 74.9 163.8 74.4 166.4 75.2C169 76 170.7 78 172.6 80C174.5 82 175.7 84.8 177.8 87.2C179.9 89.7 182.8 91.9 185 94.5C187.3 97.1 189.8 99.5 191.2 102.8C192.7 106 193.1 110.5 193.9 114.2C194.8 117.8 195.8 120.7 196.4 124.5C197 128.3 197.8 133.3 197.5 136.9C197.1 140.6 195.3 143.5 194.3 146.2C193.4 149 191.8 150.9 191.9 153.5C191.9 156.1 195 159.4 194.8 161.8C194.5 164.2 192.2 165.9 190.2 168C188.2 170.1 185.4 172.3 183 174.2C180.5 176.1 177.8 177.3 175.7 179.4C173.6 181.4 172.4 184.7 170.5 186.6C168.6 188.5 166.6 190.1 164.3 190.8C162.1 191.5 159.5 191.4 157.1 190.8C154.7 190.1 152.3 188.4 149.8 187C147.4 185.7 145 183.6 142.6 182.5C140.2 181.4 137.8 180.3 135.3 180.4C132.9 180.5 130.5 181.7 128.1 182.9C125.7 184.1 123.1 186.3 120.9 187.7C118.6 189 116.5 190.8 114.6 190.8C112.7 190.8 111.4 189.6 109.5 187.7C107.6 185.8 105.7 182.1 103.3 179.4C100.8 176.6 97.4 173.9 95 171.1C92.6 168.3 90.7 165.9 88.8 162.8C86.9 159.7 85.3 156.1 83.6 152.5C81.9 148.8 79.8 144.3 78.4 141.1C77 137.8 75.9 135.6 75.3 132.8C74.7 130 74.3 127.6 74.7 124.5ZM102.2 130.7C102.3 128.3 103.1 125 104.3 122.4C105.5 119.8 107.4 117.3 109.5 115.2C111.5 113.1 113.6 111.2 116.7 110C119.8 108.9 124.1 108.5 128.1 108.4C132.1 108.2 136.4 108.7 140.5 109C144.7 109.3 149.5 109.2 152.9 110C156.4 110.9 158.8 112.1 161.2 114.2C163.6 116.2 165.8 119.5 167.4 122.4C169.1 125.4 171 128.6 171.2 131.8C171.3 134.9 169.8 138.2 168.5 141.1C167.2 143.9 165.4 147 163.3 148.9C161.2 150.8 158.8 151.9 156 152.5C153.3 153 149.7 152.6 146.7 152.5C143.8 152.3 141.2 151.3 138.4 151.4C135.7 151.6 132.9 152.9 130.2 153.5C127.4 154.1 124.5 155.5 121.9 155.1C119.3 154.8 116.9 153.3 114.6 151.4C112.4 149.6 110.3 146.6 108.4 144.2C106.6 141.8 104.7 139.2 103.7 136.9C102.6 134.7 102.1 133.1 102.2 130.7Z"/><path class="r" d="M71.8 114.2C71.8 112.2 72.8 109.7 74.3 108.4C75.7 107 78.6 107.2 80.5 105.9C82.4 104.6 84.3 102.8 85.7 100.7C87 98.6 87.5 96 88.3 93.5C89.2 90.9 89.4 87.2 90.8 85.2C92.3 83.2 95 81.4 97 81.4C99.1 81.5 101.2 84.8 103.3 85.6C105.3 86.4 107.2 86.8 109.5 86.2C111.7 85.6 114.3 84.1 116.7 82.1C119.1 80 121.5 76 124 73.8C126.4 71.5 129 69.6 131.2 68.6C133.4 67.6 135.2 67.2 137.4 67.6C139.7 67.9 142.4 69.3 144.7 70.7C146.9 72.1 148.6 74 150.9 75.9C153.1 77.8 155.7 80.2 158.1 82.1C160.5 84 162.8 85.7 165.4 87.2C168 88.8 170.9 90.3 173.6 91.4C176.4 92.5 179.3 92.8 181.9 93.9C184.5 94.9 187.4 95.6 189.2 97.6C190.9 99.6 192 102.8 192.3 105.9C192.5 109 190.6 113.1 190.6 116.2C190.6 119.3 191.1 121.7 192.3 124.5C193.4 127.3 196.6 130 197.5 132.8C198.3 135.6 198.5 138.5 197.5 141.1C196.4 143.7 193.3 146.1 191.2 148.3C189.2 150.6 186.3 152.3 185 154.5C183.8 156.8 183.6 159.2 183.6 161.8C183.6 164.4 185.1 167.6 185 170.1C184.9 172.5 184.2 175.4 183 176.3C181.8 177.1 179.5 175.6 177.8 175.2C176.1 174.8 174.5 173.3 172.6 173.8C170.7 174.3 168.8 176.7 166.4 178.3C164 180 161.4 182.4 158.1 183.5C154.8 184.6 150.7 184.5 146.7 185C142.8 185.4 138.1 186.2 134.3 186.2C130.5 186.2 126.9 185.6 124 185C121 184.3 119.3 182.6 116.7 182.5C114.1 182.3 111 183.7 108.4 184.1C105.8 184.5 103.3 185.8 101.2 185C99.1 184.2 98.1 180.8 96 179.4C93.9 177.9 90.3 177.5 88.8 176.3C87.2 175 86.3 173.3 86.7 171.7C87.1 170.2 90.4 169 91.2 167C92.1 164.9 92.5 162.1 91.9 159.7C91.3 157.3 89.3 155.2 87.7 152.5C86.2 149.7 83.8 146.4 82.5 143.1C81.3 139.9 80.8 136.1 80.5 132.8C80.2 129.5 81.9 125.5 80.9 123.5C79.9 121.4 75.8 121.9 74.3 120.4C72.7 118.8 71.8 116.2 71.8 114.2ZM111.5 128.6C111.6 126.1 111.7 122.1 112.6 119.3C113.4 116.6 114.8 114 116.7 112.1C118.6 110.2 121.2 108.7 124 107.9C126.7 107.2 130.2 107.3 133.3 107.5C136.4 107.8 139.5 109 142.6 109.6C145.7 110.2 149.3 110.1 151.9 111.1C154.5 112 156.7 113.3 158.1 115.2C159.5 117.1 159.9 119.5 160.2 122.4C160.4 125.4 159.9 129.3 159.6 132.8C159.2 136.2 159.2 140.2 158.1 143.1C157 146.1 155.2 148.6 152.9 150.4C150.7 152.2 147.4 153.2 144.7 153.9C141.9 154.6 139.1 154.6 136.4 154.5C133.6 154.5 130.7 154.4 128.1 153.5C125.5 152.6 123.1 151.3 120.9 149.4C118.6 147.5 116.1 144.5 114.6 142.1C113.2 139.7 112.5 137.1 111.9 134.9C111.4 132.6 111.4 131.2 111.5 128.6Z"/><use href="#mx" x="193.50" y="100.84"/></g>
<path class="t" d="M0.50 0.84H274.50V262.84H0.50ZM0.50 262.84v4.86M0.50 262.84h-4.86M46.50 262.84v4.86M0.50 218.84h-4.86M91.50 262.84v4.86M0.50 174.84h-4.86M137.50 262.84v4.86M0.50 131.84h-4.86M182.50 262.84v4.86M0.50 87.84h-4.86M228.50 262.84v4.86M0.50 43.84h-4.86M274.50 262.84v4.86M0.50 0.84h-4.86"/><text class="c n" x="-0.90" y="283.34">−3</text><text class="e n" x="-11.77" y="267.34">−3</text><text class="c n" x="45.10" y="283.34">−2</text><text class="e n" x="-11.77" y="224.34">−2</text><text class="c n" x="90.10" y="283.34">−1</text><text class="e n" x="-11.77" y="180.34">−1</text><text class="c" x="137.50" y="283.34">0</text><text class="e" x="-9.12" y="136.34">0</text><text class="c" x="182.50" y="283.34">1</text><text class="e" x="-9.12" y="93.34">1</text><text class="c" x="228.50" y="283.34">2</text><text class="e" x="-9.12" y="49.34">2</text><text class="c" x="274.50" y="283.34">3</text><text class="e" x="-9.12" y="5.34">3</text><text x="246.00" y="249.34">1</text></g>
<g transform="translate(478.24,1327.66)">
<g clip-path="url(#cp)"><path fill="#d7f4d7" d="M37.8 126.6C37.8 122.8 39.5 118.3 40.9 114.2C42.3 110 43.5 105.5 46.1 101.7C48.7 97.9 52.8 94.8 56.4 91.4C60.1 87.9 64.2 84 67.8 81C71.4 78.1 74.4 75.7 78.2 73.8C82 71.9 86.5 70.7 90.6 69.6C94.7 68.6 98.9 68.1 103 67.6C107.2 67.1 111.3 66.2 115.4 66.5C119.6 66.9 124.4 68.1 127.9 69.6C131.3 71.2 132.7 74.1 136.1 75.9C139.6 77.6 144.8 78.8 148.6 80C152.4 81.2 156.2 81.5 158.9 83.1C161.7 84.7 163.7 87.2 165.1 89.3C166.5 91.4 165.8 93.6 167.2 95.5C168.6 97.4 171.3 98.6 173.4 100.7C175.5 102.8 177.9 105.4 179.6 107.9C181.3 110.5 182.7 113.5 183.8 116.2C184.8 119 184.6 121.7 185.8 124.5C187 127.3 189.3 130.4 191 132.8C192.7 135.2 195.5 136.8 196.2 139C196.9 141.2 196.2 144.2 195.1 146.2C194.1 148.3 192.2 149.5 190 151.4C187.7 153.3 183.8 155.2 181.7 157.6C179.6 160 179.6 163.5 177.6 165.9C175.5 168.3 172 170.4 169.3 172.1C166.5 173.9 163.7 174.9 161 176.3C158.2 177.6 154.8 178.7 152.7 180.4C150.6 182.1 150.6 185.1 148.6 186.6C146.5 188.2 143.7 189.4 140.3 189.7C136.8 190.1 131.7 188.5 127.9 188.7C124.1 188.9 121.3 190.6 117.5 190.8C113.7 190.9 109.2 190.6 105.1 189.7C100.9 188.9 96.8 186.6 92.7 185.6C88.5 184.5 84.4 184 80.2 183.5C76.1 183 71.6 183.2 67.8 182.5C64 181.8 60.1 181.1 57.5 179.4C54.9 177.6 53.7 174.9 52.3 172.1C50.9 169.4 50.7 165.6 49.2 162.8C47.6 160 44.7 158.2 43 155.6C41.3 153 39.2 150.4 38.8 147.3C38.5 144.2 41.1 140.4 40.9 136.9C40.7 133.5 37.8 130.4 37.8 126.6Z"/><path fill="#c3e4c5" stroke="#a9dcad" stroke-width="1" d="M91 124.5C91.4 122.1 91.7 118.8 93.7 116.2C95.7 113.6 99.7 111.2 103 109C106.3 106.7 109.9 104.3 113.4 102.8C116.8 101.2 120.3 99.8 123.7 99.7C127.2 99.5 130.6 101 134.1 101.7C137.5 102.4 141.1 102.9 144.4 103.8C147.7 104.7 151 105.2 153.7 106.9C156.5 108.6 159.1 111.2 161 114.2C162.9 117.1 164.4 121.1 165.1 124.5C165.8 128 165.6 131.8 165.1 134.9C164.6 138 163.7 140.7 162 143.1C160.3 145.6 157.4 147.6 154.8 149.4C152.2 151.1 149.3 152.3 146.5 153.5C143.7 154.7 141 155.8 138.2 156.6C135.5 157.4 133 157.9 129.9 158C126.8 158.2 123 158 119.6 157.2C116.1 156.5 112.3 155.5 109.2 153.5C106.1 151.5 103.4 148 100.9 145.2C98.5 142.5 96.3 139.3 94.7 136.9C93.2 134.5 92.3 132.8 91.6 130.7C91 128.6 90.7 126.9 91 124.5Z"/><path class="b" d="M70.3 111.1C70.4 107.9 71.2 105.7 73 103.8C74.8 101.9 79.2 101.6 81.3 99.7C83.3 97.8 83.5 94.5 85.4 92.4C87.3 90.3 90.4 89 92.7 87.2C94.9 85.5 97.2 84.1 98.9 82.1C100.6 80.1 100.9 76.8 103 75.2C105.1 73.7 108.2 73.3 111.3 72.7C114.4 72.2 118.2 72.2 121.7 71.7C125.1 71.2 128.7 70.3 132 69.6C135.3 69 139.1 67.3 141.3 67.6C143.6 67.8 143.6 69.8 145.5 71.1C147.4 72.4 150.1 73.6 152.7 75.2C155.3 76.8 157.9 79.1 161 80.6C164.1 82.1 167.9 82.9 171.3 84.1C174.8 85.4 178.8 86.9 181.7 88.3C184.6 89.7 187.4 90.7 188.9 92.4C190.5 94.1 189.6 96.7 191 98.6C192.4 100.5 195.3 102.1 197.2 103.8C199.1 105.5 201.3 106.9 202.4 109C203.5 111.1 204.3 113.6 204.1 116.2C203.8 118.8 201.2 121.7 200.7 124.5C200.3 127.3 200.9 130.2 201.4 132.8C201.8 135.4 203.4 137.8 203.4 140C203.4 142.3 202.9 144.3 201.4 146.2C199.8 148.1 196.4 149.5 194.1 151.4C191.9 153.3 190 155.2 187.9 157.6C185.8 160 183.8 163.2 181.7 165.9C179.6 168.7 177.4 171.8 175.5 174.2C173.6 176.6 172.4 179.1 170.3 180.4C168.2 181.7 166 181.9 163.1 182.1C160.1 182.2 155.8 181.2 152.7 181.4C149.6 181.7 147.4 182.8 144.4 183.5C141.5 184.2 138.2 185.4 135.1 185.6C132 185.8 129.1 185.1 125.8 184.5C122.5 184 118.9 182.9 115.4 182.1C112 181.2 108.5 180.2 105.1 179.4C101.6 178.6 97.8 178.2 94.7 177.3C91.6 176.4 89 175.9 86.5 174.2C83.9 172.5 81 169.7 79.2 167C77.4 164.2 76 161.1 75.7 157.6C75.3 154.2 77.2 150 77.1 146.2C77 142.5 75.9 138.8 75.1 134.9C74.3 130.9 73.2 126.4 72.4 122.4C71.6 118.5 70.2 114.2 70.3 111.1ZM111.7 130.7C111.6 127.6 112.4 124.2 113.4 121.4C114.3 118.6 115.6 116.2 117.5 114.2C119.4 112.1 122 110.3 124.8 109C127.5 107.7 131.1 106.6 134.1 106.3C137 105.9 139.6 106.1 142.4 106.9C145.1 107.7 148.2 109.3 150.6 111.1C153.1 112.8 155.2 114.8 156.8 117.3C158.5 119.7 159.9 122.6 160.6 125.5C161.3 128.5 161.3 132.1 161 134.9C160.7 137.6 160.1 139.9 158.9 142.1C157.7 144.3 155.6 146.4 153.7 148.3C151.8 150.2 149.8 152.2 147.5 153.5C145.3 154.8 142.7 155.6 140.3 156C137.9 156.4 135.5 156.5 133 156C130.6 155.5 128.2 154.5 125.8 153.1C123.4 151.6 120.5 149.5 118.5 147.3C116.5 145.1 114.9 142.8 113.8 140C112.6 137.3 111.8 133.8 111.7 130.7Z"/><path class="r" d="M82.3 126.6C82.6 123.8 83.6 121.1 84.8 118.3C86 115.5 87.7 112.8 89.6 110C91.4 107.3 93.9 104.5 95.8 101.7C97.7 99 99 96 100.9 93.5C102.8 90.9 104.7 87.9 107.2 86.2C109.6 84.5 112 83.8 115.4 83.1C118.9 82.4 123.4 82.3 127.9 82.1C132.3 81.8 137.9 81.6 142.4 81.4C146.8 81.3 151.2 81.3 154.8 81C158.4 80.8 161.3 81 164.1 80C166.9 79 169.1 76.6 171.3 74.8C173.6 73 175.3 70.3 177.6 69C179.8 67.7 182 67.1 184.8 67C187.6 66.8 190.8 67.2 194.1 68.2C197.4 69.2 201 70.8 204.5 72.7C207.9 74.7 211.7 77.2 214.8 80C217.9 82.8 220.7 86 223.1 89.3C225.5 92.6 227.9 95.9 229.3 99.7C230.7 103.5 230.9 108.3 231.4 112.1C231.9 115.9 231.7 119 232.4 122.4C233.2 125.9 235.6 129.3 235.9 132.8C236.3 136.2 235.2 139.7 234.5 143.1C233.8 146.6 232.1 150 231.8 153.5C231.5 156.9 233 160.4 232.4 163.8C231.8 167.3 230.2 171.1 228.3 174.2C226.4 177.3 223.6 179.9 221 182.5C218.4 185.1 215.9 188 212.7 189.7C209.6 191.5 205.8 191.8 202.4 192.8C198.9 193.9 195.1 195.2 192 195.9C188.9 196.6 186.7 197.1 183.8 197C180.8 196.8 177.6 195.9 174.4 194.9C171.3 193.9 167.9 192.1 165.1 190.8C162.4 189.4 160.1 188.2 157.9 186.6C155.6 185.1 153.9 182.7 151.7 181.4C149.4 180.2 147.7 180.1 144.4 179.4C141.1 178.7 136.1 178.2 132 177.3C127.9 176.4 123.4 175.6 119.6 174.2C115.8 172.8 112.7 171.1 109.2 169C105.8 167 101.8 164.4 98.9 161.8C95.9 159.2 93.7 156.6 91.6 153.5C89.6 150.4 87.8 146.2 86.5 143.1C85.1 140 84 137.6 83.3 134.9C82.7 132.1 82.1 129.3 82.3 126.6ZM102.6 130.7C102.8 127.6 103.6 123.6 105.1 120.4C106.5 117.1 108.9 113.6 111.3 111.1C113.7 108.5 116.5 106.2 119.6 104.8C122.7 103.5 126.1 103.2 129.9 102.8C133.7 102.3 138.6 102.4 142.4 102.1C146.2 101.9 149.6 100.9 152.7 101.3C155.8 101.8 158.6 102.9 161 104.8C163.4 106.8 165.5 110.2 167.2 113.1C168.9 116.1 170.7 119.2 171.3 122.4C172 125.7 170.9 129.3 170.9 132.8C170.9 136.2 171.4 140.2 171.3 143.1C171.2 146.1 172 148.7 170.3 150.4C168.6 152 163.9 152.2 161 153.1C158.1 153.9 155.5 154.6 152.7 155.6C149.9 156.5 147.4 157.8 144.4 158.7C141.5 159.5 138.2 160.6 135.1 160.7C132 160.9 128.9 160.7 125.8 159.7C122.7 158.7 119.4 156.8 116.5 154.5C113.5 152.3 110.3 148.8 108.2 146.2C106.1 143.7 105 141.6 104.1 139C103.1 136.4 102.4 133.8 102.6 130.7Z"/><use href="#mx" x="193.26" y="100.84"/></g>
<path class="t" d="M0.26 0.84H274.26V262.84H0.26ZM0.26 262.84v4.86M0.26 262.84h-4.86M46.26 262.84v4.86M0.26 218.84h-4.86M91.26 262.84v4.86M0.26 174.84h-4.86M137.26 262.84v4.86M0.26 131.84h-4.86M183.26 262.84v4.86M0.26 87.84h-4.86M228.26 262.84v4.86M0.26 43.84h-4.86M274.26 262.84v4.86M0.26 0.84h-4.86"/><text class="c n" x="-1.14" y="283.34">−3</text><text class="e n" x="-12.01" y="267.34">−3</text><text class="c n" x="44.86" y="283.34">−2</text><text class="e n" x="-12.01" y="224.34">−2</text><text class="c n" x="89.86" y="283.34">−1</text><text class="e n" x="-12.01" y="180.34">−1</text><text class="c" x="137.26" y="283.34">0</text><text class="e" x="-9.36" y="136.34">0</text><text class="c" x="183.26" y="283.34">1</text><text class="e" x="-9.36" y="93.34">1</text><text class="c" x="228.26" y="283.34">2</text><text class="e" x="-9.36" y="49.34">2</text><text class="c" x="274.26" y="283.34">3</text><text class="e" x="-9.36" y="5.34">3</text><text x="245.76" y="249.34">2</text></g>
<g transform="translate(806.47,1327.66)">
<g clip-path="url(#cp)"><path fill="#eeeeee" d="M62.4 123.5C62.6 121.4 66 118.8 68.6 117.3C71.2 115.7 75.2 115.7 77.9 114.2C80.7 112.6 84.1 110.5 85.2 107.9C86.2 105.4 83.6 101.7 84.1 98.6C84.7 95.5 86.2 91.9 88.3 89.3C90.4 86.7 94.2 85.3 96.6 83.1C99 80.9 100 77.4 102.8 75.9C105.5 74.3 109.3 74.1 113.1 73.8C116.9 73.4 121.4 74.1 125.6 73.8C129.7 73.4 133.8 72.3 138 71.7C142.1 71.1 146.3 70.4 150.4 70.3C154.5 70.1 159.4 69.9 162.8 70.7C166.3 71.4 168.7 73.1 171.1 74.8C173.5 76.5 175.6 78.6 177.3 81C179 83.4 179.4 86.9 181.5 89.3C183.5 91.7 187.3 93.1 189.7 95.5C192.2 97.9 194.7 100.7 195.9 103.8C197.2 106.9 197 110.7 197 114.2C197 117.6 195.4 121.4 195.9 124.5C196.5 127.6 199.1 130 200.1 132.8C201.1 135.6 201.3 138.3 202.2 141.1C203 143.8 205.3 146.6 205.3 149.4C205.3 152.1 203.7 155.6 202.2 157.6C200.6 159.7 198.4 160.7 195.9 161.8C193.5 162.8 190.1 162.1 187.7 163.8C185.3 165.6 183.9 169.4 181.5 172.1C179 174.9 175.9 178.3 173.2 180.4C170.4 182.5 168.3 183.7 164.9 184.5C161.4 185.4 156.3 184.5 152.5 185.6C148.7 186.6 145.9 189.4 142.1 190.8C138.3 192.1 133.8 193.7 129.7 193.9C125.6 194 121.1 192.8 117.3 191.8C113.5 190.8 110 189.6 106.9 187.7C103.8 185.8 101.4 182.3 98.6 180.4C95.9 178.5 92.8 178.3 90.4 176.3C87.9 174.2 85.7 171.1 84.1 168C82.6 164.9 82.1 161.1 81 157.6C80 154.2 79.1 150.7 77.9 147.3C76.7 143.8 75.5 139.9 73.8 136.9C72.1 134 69.5 131.9 67.6 129.7C65.7 127.4 62.2 125.5 62.4 123.5Z"/><path fill="#dddddd" stroke="#d0d0d0" stroke-width="1" d="M112.1 130.7C112 127.6 112.6 124.1 113.5 121.4C114.5 118.7 115.8 116.5 117.7 114.6C119.6 112.6 122.5 110.9 125.1 109.6C127.8 108.3 130.9 107.3 133.8 106.9C136.7 106.6 139.7 106.7 142.5 107.5C145.4 108.3 148.4 109.9 150.8 111.7C153.2 113.4 155.4 115.5 157 117.9C158.6 120.3 159.6 123.3 160.3 126.2C161 129 161.2 132 161.2 134.9C161.2 137.7 161.4 140.7 160.3 143.1C159.2 145.6 156.6 147.6 154.5 149.4C152.5 151.1 150.3 152.7 147.9 153.9C145.5 155.1 142.6 156.2 140 156.6C137.5 157 135.2 156.9 132.8 156.4C130.4 155.9 127.9 154.9 125.6 153.5C123.2 152 120.4 149.9 118.5 147.7C116.6 145.5 115 142.9 114 140C112.9 137.2 112.2 133.8 112.1 130.7Z"/><path class="r" d="M82.3 126.6C82.6 123.8 83.6 121.1 84.8 118.3C86 115.5 87.7 112.8 89.6 110C91.4 107.3 93.9 104.5 95.8 101.7C97.7 99 99 96 100.9 93.5C102.8 90.9 104.7 87.9 107.2 86.2C109.6 84.5 112 83.8 115.4 83.1C118.9 82.4 123.4 82.3 127.9 82.1C132.3 81.8 137.9 81.6 142.4 81.4C146.8 81.3 151.2 81.3 154.8 81C158.4 80.8 161.3 81 164.1 80C166.9 79 169.1 76.6 171.3 74.8C173.6 73 175.3 70.3 177.6 69C179.8 67.7 182 67.1 184.8 67C187.6 66.8 190.8 67.2 194.1 68.2C197.4 69.2 201 70.8 204.5 72.7C207.9 74.7 211.7 77.2 214.8 80C217.9 82.8 220.7 86 223.1 89.3C225.5 92.6 227.9 95.9 229.3 99.7C230.7 103.5 230.9 108.3 231.4 112.1C231.9 115.9 231.7 119 232.4 122.4C233.2 125.9 235.6 129.3 235.9 132.8C236.3 136.2 235.2 139.7 234.5 143.1C233.8 146.6 232.1 150 231.8 153.5C231.5 156.9 233 160.4 232.4 163.8C231.8 167.3 230.2 171.1 228.3 174.2C226.4 177.3 223.6 179.9 221 182.5C218.4 185.1 215.9 188 212.7 189.7C209.6 191.5 205.8 191.8 202.4 192.8C198.9 193.9 195.1 195.2 192 195.9C188.9 196.6 186.7 197.1 183.8 197C180.8 196.8 177.6 195.9 174.4 194.9C171.3 193.9 167.9 192.1 165.1 190.8C162.4 189.4 160.1 188.2 157.9 186.6C155.6 185.1 153.9 182.7 151.7 181.4C149.4 180.2 147.7 180.1 144.4 179.4C141.1 178.7 136.1 178.2 132 177.3C127.9 176.4 123.4 175.6 119.6 174.2C115.8 172.8 112.7 171.1 109.2 169C105.8 167 101.8 164.4 98.9 161.8C95.9 159.2 93.7 156.6 91.6 153.5C89.6 150.4 87.8 146.2 86.5 143.1C85.1 140 84 137.6 83.3 134.9C82.7 132.1 82.1 129.3 82.3 126.6ZM102.6 130.7C102.8 127.6 103.6 123.6 105.1 120.4C106.5 117.1 108.9 113.6 111.3 111.1C113.7 108.5 116.5 106.2 119.6 104.8C122.7 103.5 126.1 103.2 129.9 102.8C133.7 102.3 138.6 102.4 142.4 102.1C146.2 101.9 149.6 100.9 152.7 101.3C155.8 101.8 158.6 102.9 161 104.8C163.4 106.8 165.5 110.2 167.2 113.1C168.9 116.1 170.7 119.2 171.3 122.4C172 125.7 170.9 129.3 170.9 132.8C170.9 136.2 171.4 140.2 171.3 143.1C171.2 146.1 172 148.7 170.3 150.4C168.6 152 163.9 152.2 161 153.1C158.1 153.9 155.5 154.6 152.7 155.6C149.9 156.5 147.4 157.8 144.4 158.7C141.5 159.5 138.2 160.6 135.1 160.7C132 160.9 128.9 160.7 125.8 159.7C122.7 158.7 119.4 156.8 116.5 154.5C113.5 152.3 110.3 148.8 108.2 146.2C106.1 143.7 105 141.6 104.1 139C103.1 136.4 102.4 133.8 102.6 130.7Z"/><path class="b" d="M70.3 111.1C70.4 107.9 71.2 105.7 73 103.8C74.8 101.9 79.2 101.6 81.3 99.7C83.3 97.8 83.5 94.5 85.4 92.4C87.3 90.3 90.4 89 92.7 87.2C94.9 85.5 97.2 84.1 98.9 82.1C100.6 80.1 100.9 76.8 103 75.2C105.1 73.7 108.2 73.3 111.3 72.7C114.4 72.2 118.2 72.2 121.7 71.7C125.1 71.2 128.7 70.3 132 69.6C135.3 69 139.1 67.3 141.3 67.6C143.6 67.8 143.6 69.8 145.5 71.1C147.4 72.4 150.1 73.6 152.7 75.2C155.3 76.8 157.9 79.1 161 80.6C164.1 82.1 167.9 82.9 171.3 84.1C174.8 85.4 178.8 86.9 181.7 88.3C184.6 89.7 187.4 90.7 188.9 92.4C190.5 94.1 189.6 96.7 191 98.6C192.4 100.5 195.3 102.1 197.2 103.8C199.1 105.5 201.3 106.9 202.4 109C203.5 111.1 204.3 113.6 204.1 116.2C203.8 118.8 201.2 121.7 200.7 124.5C200.3 127.3 200.9 130.2 201.4 132.8C201.8 135.4 203.4 137.8 203.4 140C203.4 142.3 202.9 144.3 201.4 146.2C199.8 148.1 196.4 149.5 194.1 151.4C191.9 153.3 190 155.2 187.9 157.6C185.8 160 183.8 163.2 181.7 165.9C179.6 168.7 177.4 171.8 175.5 174.2C173.6 176.6 172.4 179.1 170.3 180.4C168.2 181.7 166 181.9 163.1 182.1C160.1 182.2 155.8 181.2 152.7 181.4C149.6 181.7 147.4 182.8 144.4 183.5C141.5 184.2 138.2 185.4 135.1 185.6C132 185.8 129.1 185.1 125.8 184.5C122.5 184 118.9 182.9 115.4 182.1C112 181.2 108.5 180.2 105.1 179.4C101.6 178.6 97.8 178.2 94.7 177.3C91.6 176.4 89 175.9 86.5 174.2C83.9 172.5 81 169.7 79.2 167C77.4 164.2 76 161.1 75.7 157.6C75.3 154.2 77.2 150 77.1 146.2C77 142.5 75.9 138.8 75.1 134.9C74.3 130.9 73.2 126.4 72.4 122.4C71.6 118.5 70.2 114.2 70.3 111.1ZM111.7 130.7C111.6 127.6 112.4 124.2 113.4 121.4C114.3 118.6 115.6 116.2 117.5 114.2C119.4 112.1 122 110.3 124.8 109C127.5 107.7 131.1 106.6 134.1 106.3C137 105.9 139.6 106.1 142.4 106.9C145.1 107.7 148.2 109.3 150.6 111.1C153.1 112.8 155.2 114.8 156.8 117.3C158.5 119.7 159.9 122.6 160.6 125.5C161.3 128.5 161.3 132.1 161 134.9C160.7 137.6 160.1 139.9 158.9 142.1C157.7 144.3 155.6 146.4 153.7 148.3C151.8 150.2 149.8 152.2 147.5 153.5C145.3 154.8 142.7 155.6 140.3 156C137.9 156.4 135.5 156.5 133 156C130.6 155.5 128.2 154.5 125.8 153.1C123.4 151.6 120.5 149.5 118.5 147.3C116.5 145.1 114.9 142.8 113.8 140C112.6 137.3 111.8 133.8 111.7 130.7Z"/><use href="#mx" x="194.03" y="100.84"/></g>
<path class="t" d="M0.03 0.84H274.03V262.84H0.03ZM0.03 262.84v4.86M0.03 262.84h-4.86M46.03 262.84v4.86M0.03 218.84h-4.86M92.03 262.84v4.86M0.03 174.84h-4.86M137.03 262.84v4.86M0.03 131.84h-4.86M183.03 262.84v4.86M0.03 87.84h-4.86M228.03 262.84v4.86M0.03 43.84h-4.86M274.03 262.84v4.86M0.03 0.84h-4.86"/><text class="c n" x="-1.37" y="283.34">−3</text><text class="e n" x="-12.24" y="267.34">−3</text><text class="c n" x="44.63" y="283.34">−2</text><text class="e n" x="-12.24" y="224.34">−2</text><text class="c n" x="90.63" y="283.34">−1</text><text class="e n" x="-12.24" y="180.34">−1</text><text class="c" x="137.03" y="283.34">0</text><text class="e" x="-9.59" y="136.34">0</text><text class="c" x="183.03" y="283.34">1</text><text class="e" x="-9.59" y="93.34">1</text><text class="c" x="228.03" y="283.34">2</text><text class="e" x="-9.59" y="49.34">2</text><text class="c" x="274.03" y="283.34">3</text><text class="e" x="-9.59" y="5.34">3</text><text x="246.53" y="249.34">2</text><text x="300.53" y="26.34">logB (UROB) = 0.00</text><text x="300.53" y="65.34">logB (NESS) = 0.00</text><text x="300.53" y="105.34">logB (PRIO) = 0.00</text></g>
<g transform="translate(150.00,1642.21)">
<g clip-path="url(#cp)"><path fill="#d7f4d7" d="M78.4 121.9C78.4 118.4 79.1 114.6 79.4 111.5C79.8 108.4 79.1 106 80.5 103.3C81.9 100.5 85.3 97.4 87.7 95C90.1 92.6 93.1 91 95 88.8C96.9 86.5 97.4 83.7 99.1 81.5C100.8 79.4 102.6 77.1 105.3 75.9C108.1 74.8 112.2 75 115.7 74.7C119.1 74.4 122.9 73.8 126 74.3C129.1 74.7 131.2 76.5 134.3 77.4C137.4 78.2 140.9 79.1 144.7 79.4C148.5 79.8 152.9 78.9 157.1 79.4C161.2 80 165.9 81.3 169.5 82.5C173.1 83.8 176.9 85 178.8 86.7C180.7 88.4 179.3 90.8 180.9 92.9C182.4 95 186.4 96.7 188.1 99.1C189.9 101.5 190.9 104.6 191.2 107.4C191.6 110.2 189.9 112.9 190.2 115.7C190.6 118.4 192.8 120.8 193.3 124C193.8 127.1 193.8 130.9 193.3 134.3C192.9 137.8 191.3 141.2 190.6 144.7C189.9 148.1 189.9 151.9 189.2 155C188.4 158.1 188 161.2 186.1 163.3C184.2 165.4 180.2 165.9 177.8 167.4C175.4 169 173.6 171.1 171.6 172.6C169.5 174.2 167.8 176 165.4 176.7C162.9 177.5 159.8 177.5 157.1 177.4C154.3 177.3 151.6 176.4 148.8 176.1C146 175.9 143.3 175.4 140.5 175.7C137.8 176 135 177.4 132.2 177.8C129.5 178.2 126.7 178 124 178.2C121.2 178.4 118.8 178.8 115.7 178.8C112.6 178.8 107.7 179.1 105.3 178.2C102.9 177.3 102.2 175.8 101.2 173.6C100.1 171.5 100.5 168 99.1 165.4C97.7 162.8 94.8 160.7 92.9 158.1C91 155.5 89.4 152.6 87.7 149.8C86.1 147.1 84.3 144.5 83 141.6C81.6 138.6 80.2 135.5 79.4 132.2C78.7 129 78.4 125.3 78.4 121.9Z"/><path fill="#c3e4c5" stroke="#a9dcad" stroke-width="1" d="M112.6 130.2C112.5 127.1 113.1 124.3 114 121.9C115 119.5 116.4 117.4 118.2 115.7C119.9 113.9 122 112.4 124.4 111.5C126.7 110.7 129.4 110.5 132.2 110.5C135.1 110.5 138.6 111.3 141.6 111.5C144.5 111.8 147.6 111.3 149.8 111.9C152.1 112.6 153.7 113.9 155 115.7C156.3 117.4 156.9 119.9 157.7 122.3C158.5 124.7 159.4 127.5 159.6 130.2C159.7 132.9 159.6 136 158.7 138.4C157.9 140.9 156.3 143.3 154.6 145.1C152.9 146.9 151.1 148.2 148.8 149.2C146.5 150.2 143.3 150.3 140.5 150.9C137.8 151.4 134.7 152.5 132.2 152.5C129.8 152.6 127.8 152.3 125.6 151.3C123.4 150.3 120.9 148.6 119 146.7C117.1 144.9 115.3 142.9 114.2 140.1C113.2 137.3 112.6 133.2 112.6 130.2Z"/><path class="b" d="M75.9 124C76.2 120.8 76.4 116.9 77.4 113.6C78.3 110.3 79.6 107.2 81.5 104.3C83.4 101.4 86.3 98.6 88.8 96C91.2 93.4 93.8 91.2 96 88.8C98.2 86.3 100 82.9 102.2 81.5C104.5 80.1 106.5 80.4 109.5 80.5C112.4 80.6 116.4 81.5 119.8 82.1C123.3 82.8 127.1 84.1 130.2 84.2C133.3 84.3 136 83 138.4 82.5C140.9 82.1 142.2 81.3 144.7 81.5C147.1 81.7 149.8 82.8 152.9 83.6C156 84.4 159.8 84.9 163.3 86.3C166.7 87.7 170.5 90.1 173.6 91.9C176.8 93.7 179.5 95.1 181.9 97C184.3 98.9 186.6 100.7 188.1 103.3C189.7 105.8 190.2 109.5 191.2 112.6C192.3 115.7 193.8 118.6 194.3 121.9C194.9 125.2 195.2 128.6 194.8 132.2C194.3 135.9 192.6 140.2 191.9 143.6C191.1 147.1 191.2 149.8 190.2 152.9C189.2 156 188.1 159.8 186.1 162.3C184 164.7 180.2 165.5 177.8 167.4C175.4 169.3 173.6 172 171.6 173.6C169.5 175.3 167.8 176.7 165.4 177.4C162.9 178.1 159.8 177.9 157.1 177.8C154.3 177.7 151.6 177.3 148.8 176.7C146 176.2 143.1 174.7 140.5 174.7C137.9 174.7 135.7 176 133.3 176.7C130.9 177.5 129 178.8 126 179.4C123.1 180.1 119.3 180.5 115.7 180.9C112.1 181.2 107.4 182 104.3 181.5C101.2 181 99.1 179.6 97 177.8C95 176 93.6 173.1 91.9 170.5C90.1 168 88.1 165.4 86.7 162.3C85.3 159.2 85 155.4 83.6 151.9C82.2 148.5 79.7 144.8 78.4 141.6C77.1 138.3 76.3 135.2 75.9 132.2C75.5 129.3 75.7 127.1 75.9 124ZM103.3 126C103.3 123.3 104.3 120 105.3 117.7C106.4 115.5 107.6 113.9 109.5 112.6C111.4 111.3 113.9 110.3 116.7 109.9C119.5 109.4 122.7 109.7 126 109.9C129.3 110.1 132.9 111 136.4 111.1C139.8 111.2 143.5 110.3 146.7 110.5C150 110.7 153.3 111.2 156 112.6C158.8 113.9 161.1 116.5 163.3 118.8C165.5 121 168.4 123.8 169.5 126C170.6 128.3 170.3 130 169.9 132.2C169.6 134.5 168.9 137.1 167.4 139.5C166 141.9 163.3 144.9 161.2 146.7C159.2 148.6 157.4 149.8 155 150.5C152.6 151.1 149.5 150.9 146.7 150.9C144 150.9 141.2 150.1 138.4 150.5C135.7 150.8 132.9 152.5 130.2 152.9C127.4 153.4 124.5 153.9 121.9 153.4C119.3 152.8 116.7 151.6 114.6 149.8C112.6 148 111.1 145.2 109.5 142.6C107.8 140 105.9 137.1 104.9 134.3C103.9 131.5 103.2 128.8 103.3 126Z"/><path class="r" d="M78.4 119.8C78.2 116.7 78.1 113.9 78.8 111.5C79.5 109.2 80.5 107 82.5 105.7C84.6 104.4 88.2 104.9 90.8 103.7C93.4 102.4 95.7 100.2 98.1 98.1C100.5 95.9 102.9 92.8 105.3 90.8C107.7 88.9 110.3 87.6 112.6 86.3C114.8 85 117.2 84.3 118.8 83C120.3 81.6 120 79.4 121.9 78C123.8 76.6 127.1 75.4 130.2 74.7C133.3 74 137.6 73.7 140.5 73.9C143.5 74 145.4 74.2 147.8 75.3C150.2 76.4 152.4 78.6 155 80.5C157.6 82.4 160.5 85 163.3 86.7C166.1 88.4 168.8 89.4 171.6 90.8C174.3 92.2 177.4 93.1 179.9 95C182.3 96.9 184 99.8 186.1 102.2C188.1 104.6 190.7 107.2 192.3 109.5C193.8 111.7 195 113.8 195.4 115.7C195.7 117.6 195 119.1 194.3 120.8C193.7 122.6 191.9 123.4 191.2 126C190.6 128.6 190.9 133.1 190.6 136.4C190.4 139.7 190.3 142.6 189.8 145.7C189.3 148.8 187.9 152.1 187.7 155C187.5 157.9 188.8 161.4 188.6 163.3C188.3 165.2 187.7 165.6 186.1 166.4C184.4 167.2 180.9 166.6 178.8 167.8C176.8 169.1 175.5 171.6 173.6 173.6C171.7 175.6 169.9 178.3 167.4 179.9C165 181.4 161.6 181.8 159.2 183C156.7 184.2 155 185.5 152.9 187.1C150.9 188.7 149.1 190.9 146.7 192.3C144.3 193.7 141.2 195 138.4 195.4C135.7 195.8 132.2 195.6 130.2 194.8C128.1 193.9 127 192.2 126 190.2C125.1 188.2 125.1 185.4 124.4 183C123.7 180.5 123.3 177.6 121.9 175.7C120.4 173.8 118.1 172.7 115.7 171.6C113.3 170.5 110 170.1 107.4 169.1C104.8 168.1 102.4 167.2 100.1 165.4C97.9 163.5 95.8 160.7 93.9 158.1C92 155.5 90.5 152.6 88.8 149.8C87 147.1 85 144.8 83.6 141.6C82.1 138.3 80.9 133.8 80.1 130.2C79.2 126.5 78.6 122.9 78.4 119.8ZM111.5 130.2C111.5 127.1 112.2 124.4 113.2 121.9C114.2 119.4 116 117.2 117.7 115.3C119.5 113.4 121.5 111.7 124 110.5C126.4 109.3 129.3 108.2 132.2 107.8C135.2 107.5 138.6 108.1 141.6 108.4C144.5 108.8 147.6 108.8 149.8 109.9C152.1 110.9 153.6 112.6 155 114.6C156.4 116.6 157.3 119.3 158.1 121.9C159 124.5 160 127.4 160.2 130.2C160.4 132.9 160 135.9 159.2 138.4C158.3 141 156.6 143.6 155 145.7C153.5 147.8 151.9 149.4 149.8 150.9C147.8 152.4 145.2 154 142.6 154.6C140 155.2 137.1 154.9 134.3 154.6C131.5 154.3 128.6 153.7 126 152.5C123.4 151.4 120.9 149.8 118.8 147.8C116.7 145.8 114.8 143.5 113.6 140.5C112.4 137.6 111.6 133.3 111.5 130.2Z"/><use href="#mx" x="163.50" y="139.29"/></g>
<path class="t" d="M0.50 0.29H274.50V262.29H0.50ZM0.50 262.29v4.86M0.50 262.29h-4.86M46.50 262.29v4.86M0.50 219.29h-4.86M91.50 262.29v4.86M0.50 175.29h-4.86M137.50 262.29v4.86M0.50 131.29h-4.86M182.50 262.29v4.86M0.50 88.29h-4.86M228.50 262.29v4.86M0.50 44.29h-4.86M274.50 262.29v4.86M0.50 0.29h-4.86"/><text class="c n" x="-0.90" y="282.79">−3</text><text class="e n" x="-11.77" y="267.79">−3</text><text class="c n" x="45.10" y="282.79">−2</text><text class="e n" x="-11.77" y="223.79">−2</text><text class="c n" x="90.10" y="282.79">−1</text><text class="e n" x="-11.77" y="180.79">−1</text><text class="c" x="137.50" y="282.79">0</text><text class="e" x="-9.12" y="136.79">0</text><text class="c" x="182.50" y="282.79">1</text><text class="e" x="-9.12" y="92.79">1</text><text class="c" x="228.50" y="282.79">2</text><text class="e" x="-9.12" y="49.79">2</text><text class="c" x="274.50" y="282.79">3</text><text class="e" x="-9.12" y="5.79">3</text><text x="246.00" y="248.79">1</text></g>
<g transform="translate(478.24,1642.21)">
<g clip-path="url(#cp)"><path fill="#d7f4d7" d="M62.6 148.8C63.1 147.2 64.5 146 65.8 143.6C67 141.2 68.9 137.6 69.9 134.3C70.9 131 70.6 127.4 72 124C73.3 120.5 75.9 117.2 78.2 113.6C80.4 110 84 106 85.4 102.2C86.8 98.4 85.2 94.5 86.5 90.8C87.7 87.2 90.6 83.1 92.7 80.5C94.7 77.9 96.1 76.5 98.9 75.3C101.6 74.1 105.8 73.9 109.2 73.2C112.7 72.5 116.1 71.9 119.6 71.2C123 70.5 126.5 69.7 129.9 69.1C133.4 68.5 136.8 67.8 140.3 67.6C143.7 67.5 148 67.1 150.6 68.1C153.2 69 153.7 72 155.8 73.2C157.9 74.4 160.5 75.3 163.1 75.3C165.6 75.3 168.8 72.5 171.3 73.2C173.9 73.9 177 77 178.6 79.4C180.1 81.9 178.8 85.1 180.7 87.7C182.6 90.3 187 91.9 190 95C192.9 98.1 196.4 102.6 198.3 106.4C200.2 110.2 200.7 113.8 201.4 117.7C202.1 121.7 201.9 126.4 202.4 130.2C202.9 134 204.5 137.1 204.5 140.5C204.5 144 202.7 147.4 202.4 150.9C202.1 154.3 203.4 158.8 202.4 161.2C201.4 163.6 198.4 164.2 196.2 165.4C193.9 166.6 191 166.9 188.9 168.5C186.9 170 186 173.3 183.8 174.7C181.5 176.1 177.9 175.4 175.5 176.7C173.1 178.1 171 180.7 169.3 183C167.5 185.2 166.9 188.3 165.1 190.2C163.4 192.1 161 194 158.9 194.3C156.8 194.7 154.4 193.3 152.7 192.3C151 191.2 151 188.5 148.6 188.1C146.2 187.8 141.7 190 138.2 190.2C134.8 190.4 131 189.2 127.9 189.2C124.8 189.2 122.7 190.2 119.6 190.2C116.5 190.2 112.3 189.9 109.2 189.2C106.1 188.5 103.2 187.8 100.9 186.1C98.7 184.3 97 181.2 95.8 178.8C94.6 176.4 95.3 174.2 93.7 171.6C92.1 169 88.5 165.9 86.5 163.3C84.4 160.7 83 156.7 81.3 156C79.6 155.4 78.3 159.2 76.1 159.2C73.9 159.2 70 157.1 67.8 156C65.7 155 64.1 154.1 63.3 152.9C62.4 151.7 62.2 150.4 62.6 148.8Z"/><path fill="#c3e4c5" stroke="#a9dcad" stroke-width="1" d="M104.1 130.2C104.2 127.8 104.9 124.3 106.1 121.9C107.3 119.5 109.1 117.9 111.3 115.7C113.5 113.4 116.5 110.1 119.6 108.4C122.7 106.8 126.5 106.3 129.9 105.7C133.4 105.2 136.8 105 140.3 105.3C143.7 105.6 147.2 106.2 150.6 107.4C154.1 108.6 158.4 110.5 161 112.6C163.6 114.6 165.1 117.1 166.2 119.8C167.2 122.6 167.5 125.9 167.2 129.1C166.9 132.4 165.6 136.2 164.1 139.5C162.5 142.8 159.8 146 157.9 148.8C156 151.6 154.9 154.1 152.7 156C150.5 157.9 147.5 159.5 144.4 160.2C141.3 160.9 137.5 160.7 134.1 160.2C130.6 159.7 126.8 158.6 123.7 157.1C120.6 155.5 118 153.3 115.4 150.9C112.9 148.5 109.9 145 108.2 142.6C106.5 140.2 105.8 138.4 105.1 136.4C104.4 134.3 103.9 132.6 104.1 130.2Z"/><path class="b" d="M64.1 132.2C63.7 129.6 64.4 128.1 65.8 127.1C67.1 126 69.7 126.5 72 126C74.2 125.5 77 125.7 79.2 124C81.5 122.2 83.9 118.6 85.4 115.7C87 112.7 88.2 109.5 88.5 106.4C88.9 103.3 87.5 100 87.5 97C87.5 94.1 87.3 91 88.5 88.8C89.7 86.5 92.3 85.2 94.7 83.6C97.2 81.9 99.9 80.4 103 78.8C106.1 77.3 109.9 75.6 113.4 74.3C116.8 72.9 120.6 71.3 123.7 70.5C126.8 69.8 129.2 69.4 132 69.7C134.8 70 137.4 71.3 140.3 72.2C143.2 73.1 146.5 74.4 149.6 75.3C152.7 76.2 155.6 76.2 158.9 77.4C162.2 78.6 165.8 80.6 169.3 82.5C172.7 84.4 176.5 86.3 179.6 88.8C182.7 91.2 185.3 94.5 187.9 97C190.5 99.6 193.1 102 195.1 104.3C197.2 106.5 199.1 107.9 200.3 110.5C201.5 113.1 201.5 116.5 202.4 119.8C203.3 123.1 204.6 126.7 205.5 130.2C206.4 133.6 207.6 137.4 207.6 140.5C207.6 143.6 206.7 146.7 205.5 148.8C204.3 150.9 202.2 151.6 200.3 152.9C198.4 154.3 196 155.4 194.1 157.1C192.2 158.8 191 161.2 188.9 163.3C186.9 165.4 183.9 167.3 181.7 169.5C179.4 171.7 176.4 174.3 175.5 176.7C174.5 179.2 176 181.9 175.9 184C175.8 186.1 176.3 188.3 175.1 189.2C173.8 190 170.9 189.3 168.2 189.2C165.5 189 162 188 158.9 188.1C155.8 188.3 152.7 189.6 149.6 190.2C146.5 190.8 143.6 191.7 140.3 191.9C137 192 133.2 191.2 129.9 191.2C126.7 191.2 123 192.7 120.6 191.9C118.2 191 117.2 187.9 115.4 186.1C113.7 184.2 112.3 182.3 110.3 180.9C108.2 179.5 105.3 178.8 103 177.8C100.8 176.7 98.7 176.1 96.8 174.7C94.9 173.3 93.7 171.1 91.6 169.5C89.6 168 86.8 167.1 84.4 165.4C82 163.6 79.4 161.4 77.1 159.2C74.9 156.9 72.5 154.7 70.9 151.9C69.4 149.1 69 145.9 67.8 142.6C66.7 139.3 64.4 134.8 64.1 132.2ZM112.3 132.2C111.9 128.8 112.7 125.9 113.8 122.9C114.8 120 116.5 117 118.5 114.6C120.5 112.3 123 110.3 125.8 109C128.6 107.8 132 107.4 135.1 107.4C138.2 107.4 141.5 108 144.4 109C147.4 110.1 150.3 111.6 152.7 113.6C155.1 115.6 157.4 118.1 158.9 120.8C160.5 123.6 161.6 127.1 162 130.2C162.4 133.3 162.3 136.7 161.4 139.5C160.5 142.2 158.8 144.7 156.8 146.7C154.9 148.8 152.4 150.6 149.6 151.9C146.8 153.2 143.4 154.3 140.3 154.6C137.2 154.9 133.9 154.8 131 154C128 153.2 125.1 151.6 122.7 149.8C120.3 148.1 118.2 146.6 116.5 143.6C114.7 140.7 112.8 135.7 112.3 132.2Z"/><path class="r" d="M70.9 157.1C71.3 155.4 74.2 153.1 75.1 150.9C75.9 148.6 76.4 146.4 76.1 143.6C75.8 140.9 73.6 137.4 73 134.3C72.4 131.2 72 128.1 72.4 125C72.7 121.9 73.6 118.4 75.1 115.7C76.6 112.9 79.6 110.5 81.3 108.4C83 106.4 84.7 105.3 85.4 103.3C86.1 101.2 84.6 97.8 85.4 96C86.3 94.2 88.2 93.3 90.6 92.5C93 91.7 96.8 92.4 99.9 91.2C103 90.1 106 87.1 109.2 85.7C112.5 84.2 116.1 83.4 119.6 82.5C123 81.7 126.1 81.2 129.9 80.5C133.7 79.7 138.6 78.4 142.4 78C146.2 77.6 149.3 77.6 152.7 78C156.2 78.4 159.6 79.3 163.1 80.5C166.5 81.6 170.1 83.3 173.4 85C176.7 86.8 180 88.5 182.7 90.8C185.5 93.2 187.7 96.2 190 99.1C192.2 102 194.7 105.3 196.2 108.4C197.6 111.5 198.3 114.5 198.7 117.7C199 121 198 124.6 198.3 128.1C198.5 131.5 199.7 135 200.3 138.4C200.9 141.9 202 145.7 202 148.8C202 151.9 201.6 155.2 200.3 157.1C199 159 196.7 159 194.1 160.2C191.5 161.4 187.2 162.8 184.8 164.3C182.4 165.9 181.2 167.4 179.6 169.5C178.1 171.6 177.2 175.2 175.5 176.7C173.8 178.3 171.9 178.5 169.3 178.8C166.7 179.2 163.2 178.4 160 178.8C156.7 179.3 153.2 180.9 149.6 181.5C146 182.1 141.8 182.3 138.2 182.3C134.6 182.3 130.6 182.3 127.9 181.5C125.1 180.8 123.5 178.9 121.7 177.8C119.8 176.6 118.5 175 116.5 174.7C114.4 174.3 111.3 176.1 109.2 175.7C107.2 175.4 106.3 173.8 104.1 172.6C101.8 171.4 98.7 169.3 95.8 168.5C92.8 167.6 89.2 168.1 86.5 167.4C83.7 166.7 81.5 165.4 79.2 164.3C77 163.3 74.4 162.4 73 161.2C71.6 160 70.6 158.8 70.9 157.1ZM105.1 183C104.7 181.6 106 178.8 107.2 178.2C108.4 177.6 110.3 178.3 112.3 179.4C114.3 180.6 118.5 183.4 119.2 185C119.9 186.7 118.1 188.9 116.5 189.2C114.8 189.4 111.1 187.5 109.2 186.5C107.3 185.4 105.4 184.3 105.1 183ZM109.6 132.2C109.3 128.6 110.2 125.2 111.3 121.9C112.4 118.6 114.2 115.1 116.5 112.6C118.7 110.1 121.7 108.2 124.8 107C127.9 105.8 131.7 105.4 135.1 105.3C138.6 105.2 142.2 105.7 145.5 106.4C148.7 107 151.8 108 154.8 109C157.7 110.1 161 110.8 163.1 112.6C165.1 114.4 166.3 117.1 167.2 119.8C168.1 122.6 168.6 125.9 168.2 129.1C167.9 132.4 166.7 136.4 165.1 139.5C163.6 142.6 161.3 145.3 158.9 147.8C156.5 150.2 153.7 152.5 150.6 154C147.5 155.5 143.7 156.3 140.3 156.7C136.8 157 133.2 156.8 129.9 156C126.7 155.3 123.4 154 120.6 151.9C117.9 149.8 115.2 146.9 113.4 143.6C111.5 140.3 110 135.9 109.6 132.2Z"/><use href="#mx" x="163.26" y="139.29"/></g>
<path class="t" d="M0.26 0.29H274.26V262.29H0.26ZM0.26 262.29v4.86M0.26 262.29h-4.86M46.26 262.29v4.86M0.26 219.29h-4.86M91.26 262.29v4.86M0.26 175.29h-4.86M137.26 262.29v4.86M0.26 131.29h-4.86M183.26 262.29v4.86M0.26 88.29h-4.86M228.26 262.29v4.86M0.26 44.29h-4.86M274.26 262.29v4.86M0.26 0.29h-4.86"/><text class="c n" x="-1.14" y="282.79">−3</text><text class="e n" x="-12.01" y="267.79">−3</text><text class="c n" x="44.86" y="282.79">−2</text><text class="e n" x="-12.01" y="223.79">−2</text><text class="c n" x="89.86" y="282.79">−1</text><text class="e n" x="-12.01" y="180.79">−1</text><text class="c" x="137.26" y="282.79">0</text><text class="e" x="-9.36" y="136.79">0</text><text class="c" x="183.26" y="282.79">1</text><text class="e" x="-9.36" y="92.79">1</text><text class="c" x="228.26" y="282.79">2</text><text class="e" x="-9.36" y="49.79">2</text><text class="c" x="274.26" y="282.79">3</text><text class="e" x="-9.36" y="5.79">3</text><text x="245.76" y="248.79">2</text></g>
<g transform="translate(806.47,1642.21)">
<g clip-path="url(#cp)"><path fill="#eeeeee" d="M65.5 128.1C66.4 125.7 71.4 124.6 72.8 121.9C74.1 119.1 72.6 115 73.8 111.5C75 108.1 77.9 104.3 80 101.2C82.1 98.1 84.8 95.7 86.2 92.9C87.6 90.1 86.6 87 88.3 84.6C90 82.2 93.5 80.3 96.6 78.4C99.7 76.5 103.1 75 106.9 73.2C110.7 71.5 115.5 69.3 119.3 68.1C123.1 66.8 126.2 65.9 129.7 65.6C133.1 65.2 136.9 65.2 140 66C143.2 66.7 145.2 68.6 148.3 70.1C151.4 71.7 155.2 73.6 158.7 75.3C162.1 77 165.2 78.8 169 80.5C172.8 82.2 177.8 83.9 181.5 85.7C185.1 87.4 188.4 88.6 190.8 90.8C193.2 93.1 194.9 96 195.9 99.1C197 102.2 197 106 197 109.5C197 112.9 196.5 116.7 195.9 119.8C195.4 122.9 193.7 125.3 193.9 128.1C194.1 130.9 195.9 133.6 197 136.4C198 139.1 199.7 141.9 200.1 144.7C200.4 147.4 200.1 150.5 199.1 152.9C198 155.4 195.8 157.1 193.9 159.2C192 161.2 189.2 162.9 187.7 165.4C186.1 167.8 186.3 171.6 184.6 173.6C182.8 175.7 179.2 175.7 177.3 177.8C175.4 179.9 175.2 184.2 173.2 186.1C171.1 188 168 188.5 164.9 189.2C161.8 189.9 158 189.3 154.5 190.2C151.1 191.1 147.6 193.1 144.2 194.3C140.7 195.6 136.9 197.5 133.8 197.5C130.7 197.5 128.3 195.4 125.6 194.3C122.8 193.3 120.4 191.9 117.3 191.2C114.2 190.6 109.9 191.1 106.9 190.2C104 189.3 101.1 188.1 99.7 186.1C98.3 184 99.8 180.2 98.6 177.8C97.4 175.4 94.7 173.3 92.4 171.6C90.2 169.8 87.6 168.8 85.2 167.4C82.8 166.1 80.2 165.4 77.9 163.3C75.7 161.2 72.9 157.9 71.7 155C70.5 152.1 71.4 148.8 70.7 145.7C70 142.6 68.4 139.3 67.6 136.4C66.7 133.4 64.7 130.5 65.5 128.1Z"/><path fill="#dddddd" stroke="#d0d0d0" stroke-width="1" d="M112.7 132.2C112.3 128.9 113.2 125.8 114.2 122.9C115.2 120.1 116.8 117.3 118.7 115.1C120.7 112.8 123.3 110.7 126 109.5C128.7 108.3 131.8 107.8 134.9 107.8C137.9 107.8 141.3 108.4 144.2 109.5C147.1 110.5 149.7 112.1 152.1 114C154.4 116 156.8 118.6 158.3 121.3C159.8 124 160.8 127.1 161.2 130.2C161.6 133.2 161.6 136.8 160.8 139.5C159.9 142.2 158.1 144.3 156.2 146.3C154.3 148.3 152.1 150.2 149.4 151.5C146.7 152.8 143.2 153.8 140 154.2C136.9 154.5 133.6 154.4 130.7 153.6C127.9 152.8 125.2 151.1 122.9 149.4C120.5 147.7 118.3 146.1 116.7 143.2C115 140.3 113.1 135.6 112.7 132.2Z"/><path class="r" d="M70.9 157.1C71.3 155.4 74.2 153.1 75.1 150.9C75.9 148.6 76.4 146.4 76.1 143.6C75.8 140.9 73.6 137.4 73 134.3C72.4 131.2 72 128.1 72.4 125C72.7 121.9 73.6 118.4 75.1 115.7C76.6 112.9 79.6 110.5 81.3 108.4C83 106.4 84.7 105.3 85.4 103.3C86.1 101.2 84.6 97.8 85.4 96C86.3 94.2 88.2 93.3 90.6 92.5C93 91.7 96.8 92.4 99.9 91.2C103 90.1 106 87.1 109.2 85.7C112.5 84.2 116.1 83.4 119.6 82.5C123 81.7 126.1 81.2 129.9 80.5C133.7 79.7 138.6 78.4 142.4 78C146.2 77.6 149.3 77.6 152.7 78C156.2 78.4 159.6 79.3 163.1 80.5C166.5 81.6 170.1 83.3 173.4 85C176.7 86.8 180 88.5 182.7 90.8C185.5 93.2 187.7 96.2 190 99.1C192.2 102 194.7 105.3 196.2 108.4C197.6 111.5 198.3 114.5 198.7 117.7C199 121 198 124.6 198.3 128.1C198.5 131.5 199.7 135 200.3 138.4C200.9 141.9 202 145.7 202 148.8C202 151.9 201.6 155.2 200.3 157.1C199 159 196.7 159 194.1 160.2C191.5 161.4 187.2 162.8 184.8 164.3C182.4 165.9 181.2 167.4 179.6 169.5C178.1 171.6 177.2 175.2 175.5 176.7C173.8 178.3 171.9 178.5 169.3 178.8C166.7 179.2 163.2 178.4 160 178.8C156.7 179.3 153.2 180.9 149.6 181.5C146 182.1 141.8 182.3 138.2 182.3C134.6 182.3 130.6 182.3 127.9 181.5C125.1 180.8 123.5 178.9 121.7 177.8C119.8 176.6 118.5 175 116.5 174.7C114.4 174.3 111.3 176.1 109.2 175.7C107.2 175.4 106.3 173.8 104.1 172.6C101.8 171.4 98.7 169.3 95.8 168.5C92.8 167.6 89.2 168.1 86.5 167.4C83.7 166.7 81.5 165.4 79.2 164.3C77 163.3 74.4 162.4 73 161.2C71.6 160 70.6 158.8 70.9 157.1ZM105.1 183C104.7 181.6 106 178.8 107.2 178.2C108.4 177.6 110.3 178.3 112.3 179.4C114.3 180.6 118.5 183.4 119.2 185C119.9 186.7 118.1 188.9 116.5 189.2C114.8 189.4 111.1 187.5 109.2 186.5C107.3 185.4 105.4 184.3 105.1 183ZM109.6 132.2C109.3 128.6 110.2 125.2 111.3 121.9C112.4 118.6 114.2 115.1 116.5 112.6C118.7 110.1 121.7 108.2 124.8 107C127.9 105.8 131.7 105.4 135.1 105.3C138.6 105.2 142.2 105.7 145.5 106.4C148.7 107 151.8 108 154.8 109C157.7 110.1 161 110.8 163.1 112.6C165.1 114.4 166.3 117.1 167.2 119.8C168.1 122.6 168.6 125.9 168.2 129.1C167.9 132.4 166.7 136.4 165.1 139.5C163.6 142.6 161.3 145.3 158.9 147.8C156.5 150.2 153.7 152.5 150.6 154C147.5 155.5 143.7 156.3 140.3 156.7C136.8 157 133.2 156.8 129.9 156C126.7 155.3 123.4 154 120.6 151.9C117.9 149.8 115.2 146.9 113.4 143.6C111.5 140.3 110 135.9 109.6 132.2Z"/><path class="b" d="M64.1 132.2C63.7 129.6 64.4 128.1 65.8 127.1C67.1 126 69.7 126.5 72 126C74.2 125.5 77 125.7 79.2 124C81.5 122.2 83.9 118.6 85.4 115.7C87 112.7 88.2 109.5 88.5 106.4C88.9 103.3 87.5 100 87.5 97C87.5 94.1 87.3 91 88.5 88.8C89.7 86.5 92.3 85.2 94.7 83.6C97.2 81.9 99.9 80.4 103 78.8C106.1 77.3 109.9 75.6 113.4 74.3C116.8 72.9 120.6 71.3 123.7 70.5C126.8 69.8 129.2 69.4 132 69.7C134.8 70 137.4 71.3 140.3 72.2C143.2 73.1 146.5 74.4 149.6 75.3C152.7 76.2 155.6 76.2 158.9 77.4C162.2 78.6 165.8 80.6 169.3 82.5C172.7 84.4 176.5 86.3 179.6 88.8C182.7 91.2 185.3 94.5 187.9 97C190.5 99.6 193.1 102 195.1 104.3C197.2 106.5 199.1 107.9 200.3 110.5C201.5 113.1 201.5 116.5 202.4 119.8C203.3 123.1 204.6 126.7 205.5 130.2C206.4 133.6 207.6 137.4 207.6 140.5C207.6 143.6 206.7 146.7 205.5 148.8C204.3 150.9 202.2 151.6 200.3 152.9C198.4 154.3 196 155.4 194.1 157.1C192.2 158.8 191 161.2 188.9 163.3C186.9 165.4 183.9 167.3 181.7 169.5C179.4 171.7 176.4 174.3 175.5 176.7C174.5 179.2 176 181.9 175.9 184C175.8 186.1 176.3 188.3 175.1 189.2C173.8 190 170.9 189.3 168.2 189.2C165.5 189 162 188 158.9 188.1C155.8 188.3 152.7 189.6 149.6 190.2C146.5 190.8 143.6 191.7 140.3 191.9C137 192 133.2 191.2 129.9 191.2C126.7 191.2 123 192.7 120.6 191.9C118.2 191 117.2 187.9 115.4 186.1C113.7 184.2 112.3 182.3 110.3 180.9C108.2 179.5 105.3 178.8 103 177.8C100.8 176.7 98.7 176.1 96.8 174.7C94.9 173.3 93.7 171.1 91.6 169.5C89.6 168 86.8 167.1 84.4 165.4C82 163.6 79.4 161.4 77.1 159.2C74.9 156.9 72.5 154.7 70.9 151.9C69.4 149.1 69 145.9 67.8 142.6C66.7 139.3 64.4 134.8 64.1 132.2ZM112.3 132.2C111.9 128.8 112.7 125.9 113.8 122.9C114.8 120 116.5 117 118.5 114.6C120.5 112.3 123 110.3 125.8 109C128.6 107.8 132 107.4 135.1 107.4C138.2 107.4 141.5 108 144.4 109C147.4 110.1 150.3 111.6 152.7 113.6C155.1 115.6 157.4 118.1 158.9 120.8C160.5 123.6 161.6 127.1 162 130.2C162.4 133.3 162.3 136.7 161.4 139.5C160.5 142.2 158.8 144.7 156.8 146.7C154.9 148.8 152.4 150.6 149.6 151.9C146.8 153.2 143.4 154.3 140.3 154.6C137.2 154.9 133.9 154.8 131 154C128 153.2 125.1 151.6 122.7 149.8C120.3 148.1 118.2 146.6 116.5 143.6C114.7 140.7 112.8 135.7 112.3 132.2Z"/><use href="#mx" x="163.03" y="139.29"/></g>
<path class="t" d="M0.03 0.29H274.03V262.29H0.03ZM0.03 262.29v4.86M0.03 262.29h-4.86M46.03 262.29v4.86M0.03 219.29h-4.86M92.03 262.29v4.86M0.03 175.29h-4.86M137.03 262.29v4.86M0.03 131.29h-4.86M183.03 262.29v4.86M0.03 88.29h-4.86M228.03 262.29v4.86M0.03 44.29h-4.86M274.03 262.29v4.86M0.03 0.29h-4.86"/><text class="c n" x="-1.37" y="282.79">−3</text><text class="e n" x="-12.24" y="267.79">−3</text><text class="c n" x="44.63" y="282.79">−2</text><text class="e n" x="-12.24" y="223.79">−2</text><text class="c n" x="90.63" y="282.79">−1</text><text class="e n" x="-12.24" y="180.79">−1</text><text class="c" x="137.03" y="282.79">0</text><text class="e" x="-9.59" y="136.79">0</text><text class="c" x="183.03" y="282.79">1</text><text class="e" x="-9.59" y="92.79">1</text><text class="c" x="228.03" y="282.79">2</text><text class="e" x="-9.59" y="49.79">2</text><text class="c" x="274.03" y="282.79">3</text><text class="e" x="-9.59" y="5.79">3</text><text x="246.53" y="248.79">2</text><text x="300.53" y="25.79">logB (UROB) = 0.00</text><text x="300.53" y="65.79">logB (NESS) = 0.00</text><text x="300.53" y="104.79">logB (PRIO) = 0.00</text></g>
<g transform="translate(150.00,1956.77)">
<g clip-path="url(#cp)"><path fill="#d7f4d7" d="M88.8 128.5C88.8 125.4 90.1 123.2 90.8 120.3C91.5 117.3 91.5 113.4 92.9 110.9C94.3 108.5 96.7 108 99.1 105.8C101.5 103.5 104.6 99.7 107.4 97.5C110.2 95.2 112.9 93.5 115.7 92.3C118.4 91.1 121.2 91.4 124 90.2C126.7 89.1 129.8 87.2 132.2 85.5C134.7 83.8 136.2 81.6 138.4 79.9C140.7 78.2 143.3 75.5 145.7 75.1C148.1 74.8 150.7 76.3 152.9 77.8C155.2 79.3 156.4 81.8 159.2 84C161.9 86.3 166.4 88.7 169.5 91.3C172.6 93.9 175.5 96.8 177.8 99.6C180 102.3 181.9 104.7 183 107.8C184 110.9 184.2 115.1 184 118.2C183.8 121.3 181.8 123.7 181.9 126.5C182.1 129.2 185 132.3 185 134.8C185 137.2 182.8 138.5 181.9 141C181.1 143.4 180.2 146.5 179.9 149.2C179.5 152 180.7 154.9 179.9 157.5C179 160.1 176.8 162.4 174.7 164.8C172.6 167.2 169.3 169.4 167.4 172C165.5 174.6 164.7 178.4 163.3 180.3C161.9 182.2 160.4 183.6 159.2 183.4C157.9 183.2 157.6 180.5 156 179.3C154.5 178.1 152.1 176.5 149.8 176.2C147.6 175.8 145.2 177.2 142.6 177.2C140 177.2 136.7 176.2 134.3 176.2C131.9 176.2 130.2 176.3 128.1 177.2C126 178.1 123.4 181.5 121.9 181.3C120.3 181.2 120.5 177.7 118.8 176.2C117.1 174.6 114.1 173.1 111.5 172C108.9 171 105.5 171 103.3 170C101 168.9 99.1 167.9 98.1 165.8C97 163.7 97.7 160.3 97 157.5C96.4 154.8 95 152.4 93.9 149.2C92.9 146.1 91.7 142.3 90.8 138.9C90 135.4 88.8 131.6 88.8 128.5Z"/><path fill="#c3e4c5" stroke="#a9dcad" stroke-width="1" d="M115.7 129.6C115.4 126.8 116.2 124 117.3 121.7C118.4 119.4 120.3 117.2 122.3 115.7C124.3 114.3 126.9 113.5 129.5 113C132.2 112.5 135.7 112.3 138.4 112.6C141.2 112.9 144.1 113.7 146.3 114.7C148.6 115.7 150.5 116.8 151.9 118.6C153.3 120.4 154.1 122.9 154.6 125.4C155.1 128 155.3 131.2 155 133.7C154.7 136.2 153.8 138.5 152.9 140.6C152.1 142.6 151.3 144.7 149.8 146.1C148.4 147.6 146.3 148.6 144.2 149.2C142.2 149.9 139.7 150.4 137.4 150.3C135.1 150.1 132.7 149.4 130.6 148.4C128.4 147.5 126.5 146.1 124.6 144.5C122.6 142.8 120.5 141 119 138.5C117.5 136 116 132.4 115.7 129.6Z"/><path class="b" d="M75.9 128.5C75.9 125.1 76.4 121.6 77.4 118.2C78.3 114.7 79.6 111.3 81.5 107.8C83.4 104.4 86.2 100.4 88.8 97.5C91.3 94.6 93.9 92.5 97 90.2C100.1 88 104.1 85.6 107.4 84C110.7 82.5 113.6 81.4 116.7 80.9C119.8 80.5 122.7 80.8 126 81.3C129.3 81.9 132.9 83.3 136.4 84C139.8 84.7 143.3 85 146.7 85.5C150.2 85.9 153.6 86.3 157.1 86.7C160.5 87.2 164.2 87.2 167.4 88.2C170.7 89.1 174.2 90.4 176.8 92.3C179.3 94.2 181.1 97.1 183 99.6C184.9 102 186.2 104.7 188.1 106.8C190.1 108.9 193.2 110.3 194.8 112C196.3 113.7 197.4 115.1 197.5 117.2C197.6 119.2 196.2 121.8 195.4 124.4C194.6 127 192.9 129.9 192.7 132.7C192.5 135.4 193.9 138.2 194.3 141C194.8 143.7 195.6 146.5 195.4 149.2C195.2 152 194.9 154.9 193.3 157.5C191.8 160.1 188.3 162.5 186.1 164.8C183.8 167 181.9 169.1 179.9 171C177.8 172.9 176.1 175 173.6 176.2C171.2 177.3 168.5 177.6 165.4 177.8C162.3 178 158.5 177.5 155 177.2C151.6 176.9 147.8 176.2 144.7 176.2C141.6 176.2 138.8 176.6 136.4 177.2C134 177.8 132.4 179 130.2 179.9C127.9 180.8 125.7 182 122.9 182.4C120.2 182.7 116.9 182 113.6 182C110.3 182 106.2 182.8 103.3 182.4C100.3 181.9 97.9 180.6 96 179.3C94.1 177.9 92.8 176.3 91.9 174.1C90.9 171.8 91.5 168.6 90.4 165.8C89.4 163 87.3 160.5 85.7 157.5C84 154.6 81.9 151.3 80.5 148.2C79.1 145.1 78.1 142.2 77.4 138.9C76.6 135.6 75.9 132 75.9 128.5ZM103.7 130.6C103.9 128.2 104.6 124.8 105.7 122.3C106.9 119.8 108.5 117.4 110.5 115.7C112.5 114 114.8 112.7 117.7 112C120.7 111.3 124.6 111.4 128.1 111.6C131.5 111.7 135.3 112.9 138.4 113C141.6 113.1 143.8 112.2 146.7 112C149.7 111.7 153.3 110.9 156 111.6C158.8 112.3 161.3 114.2 163.3 116.1C165.3 118.1 166.8 120.6 167.8 123.4C168.9 126.1 169.6 129.8 169.5 132.7C169.4 135.6 168.6 138.5 167.4 141C166.2 143.4 164.3 146 162.3 147.6C160.2 149.1 157.6 149.9 155 150.3C152.4 150.6 149.5 149.9 146.7 149.7C144 149.4 141.2 148.8 138.4 148.8C135.7 148.8 132.9 149.3 130.2 149.7C127.4 150 124.6 151.1 121.9 150.9C119.1 150.7 116 149.7 113.6 148.2C111.2 146.7 108.9 143.9 107.4 142C105.8 140.1 104.9 138.7 104.3 136.8C103.7 134.9 103.4 133 103.7 130.6Z"/><path class="r" d="M87.1 128.5C86.9 125.1 87.5 121.5 87.7 118.2C87.9 114.9 88.2 111.5 88.3 108.9C88.5 106.3 87.3 104 88.8 102.7C90.2 101.3 94.3 101.6 97 100.6C99.8 99.6 102.9 97.9 105.3 96.5C107.7 95 109.1 92.9 111.5 91.7C113.9 90.5 117.1 89.9 119.8 89.2C122.6 88.5 125.7 88.2 128.1 87.5C130.5 86.9 132.6 86.2 134.3 85.1C136 84 136.7 81.8 138.4 80.9C140.2 80.1 142.2 79.6 144.7 79.9C147.1 80.2 150.2 81.4 152.9 82.6C155.7 83.7 158.5 85.3 161.2 86.7C164 88.2 167.1 89.5 169.5 91.3C171.9 93.1 174.2 95.4 175.7 97.5C177.3 99.6 178 101.6 178.8 103.7C179.7 105.8 180.9 107.8 180.9 109.9C180.9 112 178.8 114 178.8 116.1C178.8 118.2 179.9 120.1 180.9 122.3C181.9 124.6 183.9 127.2 185 129.6C186.2 132 187.7 134.4 187.7 136.8C187.7 139.2 186 142 185 144.1C184.1 146.1 182.6 147.2 181.9 149.2C181.2 151.3 181.8 154.2 180.9 156.5C180 158.7 178.5 160.6 176.8 162.7C175 164.8 172.8 167.2 170.5 168.9C168.3 170.6 165.9 172 163.3 173.1C160.7 174.1 157.3 174.4 155 175.1C152.8 175.8 151.2 176.2 149.8 177.2C148.5 178.2 148.1 180.1 146.7 181.3C145.4 182.6 143.5 184.1 141.6 184.9C139.7 185.7 137.1 186.3 135.3 186.1C133.6 185.9 131.9 184.9 131.2 183.4C130.5 181.9 131.4 179.1 131.2 177.2C131 175.3 131.4 173.3 130.2 172C129 170.7 126.4 170.1 124 169.5C121.5 169 118.4 168.8 115.7 168.9C112.9 169 110 170 107.4 170C104.8 170 101.9 170 100.1 168.9C98.4 167.9 97.7 166 97 163.7C96.4 161.5 96.9 158.2 96 155.5C95.1 152.7 93.1 149.9 91.9 147.2C90.7 144.4 89.6 142 88.8 138.9C88 135.8 87.3 132 87.1 128.5ZM114.6 129.6C114.4 126.6 115.5 123.7 116.7 121.3C117.9 118.9 119.8 116.6 121.9 115.1C124 113.6 126.4 112.9 129.1 112.4C131.9 111.9 135.5 111.7 138.4 112C141.4 112.3 144.4 113 146.7 114C149.1 115.1 151.1 116.3 152.5 118.2C154 120.1 154.8 122.8 155.4 125.4C156 128 156.3 131.1 156 133.7C155.8 136.3 154.9 138.8 154 141C153 143.1 152 145.2 150.5 146.8C148.9 148.3 146.8 149.5 144.7 150.3C142.5 151 139.8 151.5 137.4 151.3C135 151.1 132.4 150.3 130.2 149.2C127.9 148.2 126 146.8 124 145.1C122 143.4 119.7 141.5 118.2 138.9C116.6 136.3 114.9 132.5 114.6 129.6Z"/><use href="#mx" x="138.50" y="140.73"/></g>
<path class="t" d="M0.50 0.73H274.50V262.73H0.50ZM0.50 262.73v4.86M0.50 262.73h-4.86M46.50 262.73v4.86M0.50 218.73h-4.86M91.50 262.73v4.86M0.50 175.73h-4.86M137.50 262.73v4.86M0.50 131.73h-4.86M182.50 262.73v4.86M0.50 87.73h-4.86M228.50 262.73v4.86M0.50 43.73h-4.86M274.50 262.73v4.86M0.50 0.73h-4.86"/><text class="c n" x="-0.90" y="283.23">−3</text><text class="e n" x="-11.77" y="267.23">−3</text><text class="c n" x="45.10" y="283.23">−2</text><text class="e n" x="-11.77" y="224.23">−2</text><text class="c n" x="90.10" y="283.23">−1</text><text class="e n" x="-11.77" y="180.23">−1</text><text class="c" x="137.50" y="283.23">0</text><text class="e" x="-9.12" y="136.23">0</text><text class="c" x="182.50" y="283.23">1</text><text class="e" x="-9.12" y="93.23">1</text><text class="c" x="228.50" y="283.23">2</text><text class="e" x="-9.12" y="49.23">2</text><text class="c" x="274.50" y="283.23">3</text><text class="e" x="-9.12" y="5.23">3</text><text x="246.00" y="249.23">1</text></g>
<g transform="translate(478.24,1956.77)">
<g clip-path="url(#cp)"><path fill="#d7f4d7" d="M70.9 132.7C70.9 129.9 71.6 125.4 73 122.3C74.4 119.2 77.4 116.5 79.2 114C81 111.6 82.9 110.6 84 107.8C85 105.1 84.3 100.2 85.4 97.5C86.5 94.7 88.4 93.3 90.6 91.3C92.8 89.2 95.9 87 98.9 85.1C101.8 83.2 106.3 82.1 108.2 79.9C110.1 77.6 108.4 73.8 110.3 71.6C112.2 69.4 116.6 67.4 119.6 66.4C122.5 65.5 125.1 65.5 127.9 66C130.6 66.5 133 68.7 136.1 69.5C139.2 70.4 143 70.6 146.5 71C149.9 71.3 153.4 70.8 156.8 71.6C160.3 72.4 163.7 74 167.2 75.7C170.7 77.5 174.1 80.2 177.6 82C181 83.7 184.6 84.7 187.9 86.1C191.2 87.5 195.5 88.3 197.2 90.2C198.9 92.1 198.5 94.9 198.3 97.5C198 100.1 195.4 103 195.8 105.8C196.1 108.5 199.2 110.9 200.3 114C201.4 117.2 201.5 121.3 202.4 124.4C203.3 127.5 204.5 129.9 205.5 132.7C206.5 135.4 207.9 138.2 208.6 141C209.3 143.7 210.3 146.8 209.6 149.2C209 151.7 206.4 153.6 204.5 155.5C202.6 157.4 200.7 158.9 198.3 160.6C195.8 162.4 192.2 163.6 190 165.8C187.7 168.1 186.7 171.8 184.8 174.1C182.9 176.3 180.3 177.5 178.6 179.3C176.9 181 175.7 182.5 174.4 184.4C173.2 186.3 173.2 189.8 171.3 190.7C169.4 191.5 165.6 190 163.1 189.6C160.5 189.3 158.1 188.4 155.8 188.6C153.6 188.8 151 189.3 149.6 190.7C148.2 192 149.4 195.8 147.5 196.9C145.6 197.9 141.1 197 138.2 196.9C135.3 196.7 132.3 196.7 129.9 195.8C127.5 195 125.6 193.4 123.7 191.7C121.8 190 120.3 187.5 118.5 185.5C116.8 183.4 114.9 181.5 113.4 179.3C111.8 177 110.6 174.3 109.2 172C107.8 169.8 106.5 167.5 105.1 165.8C103.7 164.1 102.7 163.4 100.9 161.7C99.2 159.9 97 157.5 94.7 155.5C92.5 153.4 90.1 151.1 87.5 149.2C84.9 147.3 81.6 145.8 79.2 144.1C76.8 142.3 74.4 140.8 73 138.9C71.6 137 70.9 135.4 70.9 132.7Z"/><path fill="#c3e4c5" stroke="#a9dcad" stroke-width="1" d="M110.9 128.5C111.1 125.8 111.2 122.8 112.3 120.3C113.4 117.7 115.3 115.3 117.5 113C119.8 110.8 122.7 108.2 125.8 106.8C128.9 105.4 132.9 104.7 136.1 104.7C139.4 104.7 142.5 105.6 145.5 106.8C148.4 108 151.2 110.1 153.7 112C156.3 113.9 158.9 115.8 161 118.2C163.1 120.6 165.2 123.9 166.2 126.5C167.1 129.1 167.3 131.1 166.8 133.7C166.3 136.3 164.4 139.4 163.1 142C161.7 144.6 160.6 146.8 158.9 149.2C157.2 151.7 155.1 154.6 152.7 156.5C150.3 158.4 147.2 159.8 144.4 160.6C141.7 161.4 138.9 161.6 136.1 161.3C133.4 160.9 130.6 160.2 127.9 158.6C125.1 156.9 121.8 153.7 119.6 151.3C117.3 148.9 115.8 146.5 114.4 144.1C113 141.7 111.9 139.4 111.3 136.8C110.7 134.2 110.7 131.3 110.9 128.5Z"/><path class="b" d="M72.4 120.3C72.9 117.5 76.3 115.9 78.2 114C80 112.2 83.1 110.9 83.3 108.9C83.6 106.8 80.5 104.2 79.8 101.6C79.1 99 78.5 95.8 79.2 93.3C79.9 90.9 81.4 88.2 84 87.1C86.6 86 91.2 87.4 94.7 86.7C98.3 86 101.6 84.2 105.1 83C108.5 81.8 112 80.3 115.4 79.3C118.9 78.2 122.3 77.5 125.8 76.8C129.2 76.1 132.9 75.8 136.1 75.1C139.4 74.4 142.5 73.4 145.5 72.6C148.4 71.9 151.2 70.6 153.7 70.6C156.3 70.6 158.7 71.7 161 72.6C163.2 73.6 165 74.6 167.2 76.4C169.4 78.1 172 81 174.4 83C176.9 85 179.3 87 181.7 88.2C184.1 89.4 186.9 89 188.9 90.2C190.9 91.4 193 93.2 193.7 95.4C194.4 97.7 193.7 100.9 193.1 103.7C192.5 106.5 190.4 108.9 190 112C189.5 115.1 189.9 118.9 190.4 122.3C190.9 125.8 191.9 129.6 193.1 132.7C194.2 135.8 196.4 138.2 197.2 141C198.1 143.7 198.6 146.5 198.3 149.2C197.9 152 196.5 154.8 195.1 157.5C193.8 160.3 191.9 163 190 165.8C188.1 168.6 185.8 171.8 183.8 174.1C181.7 176.3 179.6 177.7 177.6 179.3C175.5 180.8 174.1 182.5 171.3 183.4C168.6 184.3 164.4 184.4 161 184.9C157.5 185.3 153.7 185.8 150.6 186.1C147.5 186.4 144.9 186 142.4 186.5C139.8 187 137.5 188.8 135.1 189C132.7 189.2 130.5 188.4 127.9 187.5C125.3 186.7 122.3 185.2 119.6 184C116.8 182.8 114.1 181.3 111.3 180.3C108.5 179.3 105.8 179.3 103 178.2C100.3 177.2 97.8 176.2 94.7 174.1C91.6 172 86.6 168.2 84.4 165.8C82.1 163.4 81.7 162 81.3 159.6C80.9 157.2 82.4 154.4 81.9 151.3C81.4 148.2 79.3 144.4 78.2 141C77 137.5 76 134.1 75.1 130.6C74.1 127.2 71.9 123 72.4 120.3ZM112.3 129.6C112.3 127.2 112.9 124.6 113.8 122.3C114.6 120.1 115.9 117.9 117.5 116.1C119.2 114.3 121.3 112.6 123.7 111.6C126.1 110.5 129.2 110.2 132 109.9C134.8 109.6 137.5 109.5 140.3 109.9C143 110.3 146.2 111.2 148.6 112.4C151 113.6 153.1 115.2 154.8 117.2C156.5 119.2 158 121.8 158.9 124.4C159.9 127 160.6 129.9 160.6 132.7C160.6 135.4 159.9 138.5 158.9 141C158 143.4 156.5 145.7 154.8 147.6C153.1 149.5 150.8 151.1 148.6 152.4C146.3 153.6 143.9 154.8 141.3 155C138.7 155.3 135.8 154.6 133 153.8C130.3 153 127.3 151.9 124.8 150.3C122.2 148.7 119.3 146.3 117.5 144.1C115.7 141.8 114.6 139.2 113.8 136.8C112.9 134.4 112.3 132 112.3 129.6Z"/><path class="r" d="M86.9 146.1C86.9 144 88.8 140.1 89.6 136.8C90.4 133.5 90.8 129.9 91.6 126.5C92.4 123 93.6 119.2 94.3 116.1C95 113 94.8 110.3 95.8 107.8C96.7 105.4 98 103 99.9 101.6C101.8 100.2 104.7 99.7 107.2 99.6C109.6 99.4 112.3 100.9 114.4 100.6C116.5 100.2 117.9 99 119.6 97.5C121.3 95.9 123 93.3 124.8 91.3C126.5 89.2 128 86.6 129.9 85.1C131.8 83.5 134.2 82.1 136.1 82C138 81.8 139.8 82.8 141.3 84C142.9 85.3 143.9 88.4 145.5 89.6C147 90.8 148.7 91.3 150.6 91.3C152.5 91.2 154.8 89.6 156.8 89.2C158.9 88.9 161 88.5 163.1 89.2C165.1 89.9 167.7 91.6 169.3 93.3C170.8 95.1 171.7 97.3 172.4 99.6C173.1 101.8 172.7 104.4 173.4 106.8C174.1 109.2 175.7 111.8 176.5 114C177.4 116.3 177.4 118.7 178.6 120.3C179.8 121.8 182.5 122.3 183.8 123.4C185 124.4 186.2 125.3 186.2 126.5C186.3 127.7 185.5 129.2 184.2 130.6C182.9 132 179.5 132.9 178.6 134.8C177.7 136.7 178.3 139.6 178.6 142C178.8 144.4 180 146.7 180 149.2C180 151.8 179.7 154.9 178.6 157.5C177.5 160.1 175.5 162.5 173.4 164.8C171.3 167 168.8 169.4 166.2 171C163.6 172.5 160.5 173.3 157.9 174.1C155.3 174.9 152.9 175.1 150.6 175.7C148.4 176.4 146.5 177.7 144.4 177.8C142.4 177.9 140.3 176.3 138.2 176.2C136.1 176.1 133.7 176.9 132 177.2C130.3 177.5 129.6 178.4 127.9 178.2C126.1 178.1 123.9 177.4 121.7 176.2C119.4 175 116.6 172.8 114.4 171C112.2 169.2 110.3 167.2 108.2 165.4C106.1 163.6 104.1 161.8 102 160C99.9 158.2 97.8 156.1 95.8 154.4C93.7 152.7 91 151 89.6 149.7C88.1 148.3 86.9 148.3 86.9 146.1ZM115 129.6C115.1 127.5 115.5 124.6 116.5 122.3C117.4 120.1 118.7 117.8 120.6 116.1C122.5 114.4 125.3 113 127.9 112C130.5 110.9 133.4 110 136.1 109.9C138.9 109.8 142 110.7 144.4 111.6C146.8 112.4 148.9 113.5 150.6 115.1C152.4 116.7 153.8 118.9 154.8 121.3C155.7 123.7 156.3 126.8 156.4 129.6C156.6 132.3 156.4 135.4 155.8 137.9C155.2 140.3 154.3 142.2 152.7 144.1C151.2 145.9 148.7 147.7 146.5 148.8C144.3 150 141.7 150.7 139.2 150.9C136.8 151.1 134.4 150.9 132 150.3C129.6 149.7 126.9 148.7 124.8 147.2C122.6 145.6 120.7 143 119.2 141C117.7 138.9 116.5 136.7 115.9 134.8C115.2 132.9 114.9 131.6 115 129.6Z"/><use href="#mx" x="138.26" y="140.73"/></g>
<path class="t" d="M0.26 0.73H274.26V262.73H0.26ZM0.26 262.73v4.86M0.26 262.73h-4.86M46.26 262.73v4.86M0.26 218.73h-4.86M91.26 262.73v4.86M0.26 175.73h-4.86M137.26 262.73v4.86M0.26 131.73h-4.86M183.26 262.73v4.86M0.26 87.73h-4.86M228.26 262.73v4.86M0.26 43.73h-4.86M274.26 262.73v4.86M0.26 0.73h-4.86"/><text class="c n" x="-1.14" y="283.23">−3</text><text class="e n" x="-12.01" y="267.23">−3</text><text class="c n" x="44.86" y="283.23">−2</text><text class="e n" x="-12.01" y="224.23">−2</text><text class="c n" x="89.86" y="283.23">−1</text><text class="e n" x="-12.01" y="180.23">−1</text><text class="c" x="137.26" y="283.23">0</text><text class="e" x="-9.36" y="136.23">0</text><text class="c" x="183.26" y="283.23">1</text><text class="e" x="-9.36" y="93.23">1</text><text class="c" x="228.26" y="283.23">2</text><text class="e" x="-9.36" y="49.23">2</text><text class="c" x="274.26" y="283.23">3</text><text class="e" x="-9.36" y="5.23">3</text><text x="245.76" y="249.23">2</text></g>
<g transform="translate(806.47,1956.77)">
<g clip-path="url(#cp)"><path fill="#eeeeee" d="M72.8 122.3C73.8 119.6 76.7 116.5 79 114C81.2 111.6 84.1 110.3 86.2 107.8C88.3 105.4 89.8 102.3 91.4 99.6C92.9 96.8 94.3 94 95.5 91.3C96.7 88.5 97.4 85.9 98.6 83C99.8 80.1 100.7 75.6 102.8 73.7C104.9 71.8 108 71.3 111.1 71.6C114.2 72 118 75.2 121.4 75.7C124.9 76.3 128.3 75.2 131.8 74.7C135.2 74.2 138.7 73.3 142.1 72.6C145.6 72 149 70.6 152.5 70.6C155.9 70.6 159.7 72.1 162.8 72.6C165.9 73.2 168.3 73.2 171.1 73.7C173.9 74.2 177.7 74 179.4 75.7C181.1 77.5 180.1 81.6 181.5 84C182.8 86.4 186.1 87.7 187.7 90.2C189.2 92.8 189.4 96.6 190.8 99.6C192.2 102.5 194.9 104.7 195.9 107.8C197 110.9 197 114.7 197 118.2C197 121.6 195.8 125.1 195.9 128.5C196.1 132 197.7 135.4 198 138.9C198.4 142.3 198.5 146.1 198 149.2C197.5 152.4 196.3 154.8 194.9 157.5C193.5 160.3 191.6 163 189.7 165.8C187.8 168.6 185.6 171.7 183.5 174.1C181.5 176.5 179.7 178.6 177.3 180.3C174.9 182 172.1 183.4 169 184.4C165.9 185.5 162.1 185.7 158.7 186.5C155.2 187.4 151.4 188.2 148.3 189.6C145.2 191 142.8 193.1 140 194.8C137.3 196.5 134.5 198.8 131.8 200C129 201.2 125.9 202.6 123.5 202C121.1 201.5 119.3 198.8 117.3 196.9C115.2 195 113.5 192.6 111.1 190.7C108.6 188.8 105.5 187.2 102.8 185.5C100 183.8 96.9 182.2 94.5 180.3C92.1 178.4 90 176.5 88.3 174.1C86.6 171.7 85.4 168.6 84.1 165.8C82.9 163 81.9 160.3 81 157.5C80.2 154.8 80.2 152.4 79 149.2C77.8 146.1 74.8 142 73.8 138.9C72.8 135.8 72.9 133.4 72.8 130.6C72.6 127.9 71.7 125.1 72.8 122.3Z"/><path fill="#dddddd" stroke="#d0d0d0" stroke-width="1" d="M111.1 129.6C111.1 127 111.7 123.8 112.7 121.3C113.8 118.8 115.3 116.4 117.3 114.5C119.2 112.5 121.9 110.7 124.5 109.5C127.1 108.3 129.9 107.6 132.8 107.4C135.7 107.2 139.2 107.7 142.1 108.3C145.1 108.8 147.9 109.6 150.4 110.9C152.9 112.3 155.4 113.9 157 116.1C158.7 118.4 159.7 121.6 160.3 124.4C161 127.2 161 129.9 160.8 132.7C160.5 135.4 159.7 138.5 158.7 141C157.6 143.4 156.3 145.7 154.5 147.6C152.8 149.5 150.6 151.1 148.3 152.4C146.1 153.6 143.7 154.8 141.1 155C138.5 155.3 135.6 154.6 132.8 153.8C130 153 127.1 151.9 124.5 150.3C121.9 148.7 119.2 146.3 117.3 144.1C115.3 141.8 113.8 139.2 112.7 136.8C111.7 134.4 111.1 132.2 111.1 129.6Z"/><path class="r" d="M86.9 146.1C86.9 144 88.8 140.1 89.6 136.8C90.4 133.5 90.8 129.9 91.6 126.5C92.4 123 93.6 119.2 94.3 116.1C95 113 94.8 110.3 95.8 107.8C96.7 105.4 98 103 99.9 101.6C101.8 100.2 104.7 99.7 107.2 99.6C109.6 99.4 112.3 100.9 114.4 100.6C116.5 100.2 117.9 99 119.6 97.5C121.3 95.9 123 93.3 124.8 91.3C126.5 89.2 128 86.6 129.9 85.1C131.8 83.5 134.2 82.1 136.1 82C138 81.8 139.8 82.8 141.3 84C142.9 85.3 143.9 88.4 145.5 89.6C147 90.8 148.7 91.3 150.6 91.3C152.5 91.2 154.8 89.6 156.8 89.2C158.9 88.9 161 88.5 163.1 89.2C165.1 89.9 167.7 91.6 169.3 93.3C170.8 95.1 171.7 97.3 172.4 99.6C173.1 101.8 172.7 104.4 173.4 106.8C174.1 109.2 175.7 111.8 176.5 114C177.4 116.3 177.4 118.7 178.6 120.3C179.8 121.8 182.5 122.3 183.8 123.4C185 124.4 186.2 125.3 186.2 126.5C186.3 127.7 185.5 129.2 184.2 130.6C182.9 132 179.5 132.9 178.6 134.8C177.7 136.7 178.3 139.6 178.6 142C178.8 144.4 180 146.7 180 149.2C180 151.8 179.7 154.9 178.6 157.5C177.5 160.1 175.5 162.5 173.4 164.8C171.3 167 168.8 169.4 166.2 171C163.6 172.5 160.5 173.3 157.9 174.1C155.3 174.9 152.9 175.1 150.6 175.7C148.4 176.4 146.5 177.7 144.4 177.8C142.4 177.9 140.3 176.3 138.2 176.2C136.1 176.1 133.7 176.9 132 177.2C130.3 177.5 129.6 178.4 127.9 178.2C126.1 178.1 123.9 177.4 121.7 176.2C119.4 175 116.6 172.8 114.4 171C112.2 169.2 110.3 167.2 108.2 165.4C106.1 163.6 104.1 161.8 102 160C99.9 158.2 97.8 156.1 95.8 154.4C93.7 152.7 91 151 89.6 149.7C88.1 148.3 86.9 148.3 86.9 146.1ZM115 129.6C115.1 127.5 115.5 124.6 116.5 122.3C117.4 120.1 118.7 117.8 120.6 116.1C122.5 114.4 125.3 113 127.9 112C130.5 110.9 133.4 110 136.1 109.9C138.9 109.8 142 110.7 144.4 111.6C146.8 112.4 148.9 113.5 150.6 115.1C152.4 116.7 153.8 118.9 154.8 121.3C155.7 123.7 156.3 126.8 156.4 129.6C156.6 132.3 156.4 135.4 155.8 137.9C155.2 140.3 154.3 142.2 152.7 144.1C151.2 145.9 148.7 147.7 146.5 148.8C144.3 150 141.7 150.7 139.2 150.9C136.8 151.1 134.4 150.9 132 150.3C129.6 149.7 126.9 148.7 124.8 147.2C122.6 145.6 120.7 143 119.2 141C117.7 138.9 116.5 136.7 115.9 134.8C115.2 132.9 114.9 131.6 115 129.6Z"/><path class="b" d="M72.4 120.3C72.9 117.5 76.3 115.9 78.2 114C80 112.2 83.1 110.9 83.3 108.9C83.6 106.8 80.5 104.2 79.8 101.6C79.1 99 78.5 95.8 79.2 93.3C79.9 90.9 81.4 88.2 84 87.1C86.6 86 91.2 87.4 94.7 86.7C98.3 86 101.6 84.2 105.1 83C108.5 81.8 112 80.3 115.4 79.3C118.9 78.2 122.3 77.5 125.8 76.8C129.2 76.1 132.9 75.8 136.1 75.1C139.4 74.4 142.5 73.4 145.5 72.6C148.4 71.9 151.2 70.6 153.7 70.6C156.3 70.6 158.7 71.7 161 72.6C163.2 73.6 165 74.6 167.2 76.4C169.4 78.1 172 81 174.4 83C176.9 85 179.3 87 181.7 88.2C184.1 89.4 186.9 89 188.9 90.2C190.9 91.4 193 93.2 193.7 95.4C194.4 97.7 193.7 100.9 193.1 103.7C192.5 106.5 190.4 108.9 190 112C189.5 115.1 189.9 118.9 190.4 122.3C190.9 125.8 191.9 129.6 193.1 132.7C194.2 135.8 196.4 138.2 197.2 141C198.1 143.7 198.6 146.5 198.3 149.2C197.9 152 196.5 154.8 195.1 157.5C193.8 160.3 191.9 163 190 165.8C188.1 168.6 185.8 171.8 183.8 174.1C181.7 176.3 179.6 177.7 177.6 179.3C175.5 180.8 174.1 182.5 171.3 183.4C168.6 184.3 164.4 184.4 161 184.9C157.5 185.3 153.7 185.8 150.6 186.1C147.5 186.4 144.9 186 142.4 186.5C139.8 187 137.5 188.8 135.1 189C132.7 189.2 130.5 188.4 127.9 187.5C125.3 186.7 122.3 185.2 119.6 184C116.8 182.8 114.1 181.3 111.3 180.3C108.5 179.3 105.8 179.3 103 178.2C100.3 177.2 97.8 176.2 94.7 174.1C91.6 172 86.6 168.2 84.4 165.8C82.1 163.4 81.7 162 81.3 159.6C80.9 157.2 82.4 154.4 81.9 151.3C81.4 148.2 79.3 144.4 78.2 141C77 137.5 76 134.1 75.1 130.6C74.1 127.2 71.9 123 72.4 120.3ZM112.3 129.6C112.3 127.2 112.9 124.6 113.8 122.3C114.6 120.1 115.9 117.9 117.5 116.1C119.2 114.3 121.3 112.6 123.7 111.6C126.1 110.5 129.2 110.2 132 109.9C134.8 109.6 137.5 109.5 140.3 109.9C143 110.3 146.2 111.2 148.6 112.4C151 113.6 153.1 115.2 154.8 117.2C156.5 119.2 158 121.8 158.9 124.4C159.9 127 160.6 129.9 160.6 132.7C160.6 135.4 159.9 138.5 158.9 141C158 143.4 156.5 145.7 154.8 147.6C153.1 149.5 150.8 151.1 148.6 152.4C146.3 153.6 143.9 154.8 141.3 155C138.7 155.3 135.8 154.6 133 153.8C130.3 153 127.3 151.9 124.8 150.3C122.2 148.7 119.3 146.3 117.5 144.1C115.7 141.8 114.6 139.2 113.8 136.8C112.9 134.4 112.3 132 112.3 129.6Z"/><use href="#mx" x="138.03" y="140.73"/></g>
<path class="t" d="M0.03 0.73H274.03V262.73H0.03ZM0.03 262.73v4.86M0.03 262.73h-4.86M46.03 262.73v4.86M0.03 218.73h-4.86M92.03 262.73v4.86M0.03 175.73h-4.86M137.03 262.73v4.86M0.03 131.73h-4.86M183.03 262.73v4.86M0.03 87.73h-4.86M228.03 262.73v4.86M0.03 43.73h-4.86M274.03 262.73v4.86M0.03 0.73h-4.86"/><text class="c n" x="-1.37" y="283.23">−3</text><text class="e n" x="-12.24" y="267.23">−3</text><text class="c n" x="44.63" y="283.23">−2</text><text class="e n" x="-12.24" y="224.23">−2</text><text class="c n" x="90.63" y="283.23">−1</text><text class="e n" x="-12.24" y="180.23">−1</text><text class="c" x="137.03" y="283.23">0</text><text class="e" x="-9.59" y="136.23">0</text><text class="c" x="183.03" y="283.23">1</text><text class="e" x="-9.59" y="93.23">1</text><text class="c" x="228.03" y="283.23">2</text><text class="e" x="-9.59" y="49.23">2</text><text class="c" x="274.03" y="283.23">3</text><text class="e" x="-9.59" y="5.23">3</text><text x="246.53" y="249.23">2</text><text x="300.53" y="26.23">logB (UROB) = 0.00</text><text x="300.53" y="65.23">logB (NESS) = 0.00</text><text x="300.53" y="105.23">logB (PRIO) = 0.00</text></g>
<g transform="translate(150.00,2271.32)">
<g clip-path="url(#cp)"><path fill="#d7f4d7" d="M85.7 125.9C86 123.2 86.7 120.4 87.7 117.6C88.8 114.9 90.7 112.1 91.9 109.4C93.1 106.6 93.4 103.5 95 101.1C96.5 98.7 98.8 96.6 101.2 94.9C103.6 93.1 106.4 92.1 109.5 90.7C112.6 89.3 116.7 87.8 119.8 86.6C122.9 85.4 125 83.6 128.1 83.5C131.2 83.3 135 84.9 138.4 85.5C141.9 86.2 145.4 86.9 148.8 87.6C152.3 88.3 155.7 88.5 159.2 89.7C162.6 90.9 166.2 93 169.5 94.9C172.8 96.8 176.2 99 178.8 101.1C181.4 103.1 184.3 104.9 185 107.3C185.7 109.7 183.1 112.8 183 115.6C182.9 118.3 183.9 121.1 184.4 123.8C184.9 126.6 185.3 129.4 186.1 132.1C186.9 134.9 189 137.7 189.2 140.4C189.3 143.2 187.8 145.9 187.1 148.7C186.4 151.5 185 154.6 185 157C185 159.4 187.6 161.5 187.1 163.2C186.6 164.9 184.2 165.9 181.9 167.3C179.7 168.7 176.4 170.3 173.6 171.5C170.9 172.7 168.1 173.9 165.4 174.6C162.6 175.3 159.5 175.3 157.1 175.6C154.7 176 152.9 175.3 150.9 176.6C148.8 178 146.7 182.3 144.7 183.9C142.6 185.5 140.3 186.2 138.4 186.4C136.6 186.5 135 186 133.3 184.9C131.5 183.8 130 181.3 128.1 179.7C126.2 178.2 123.8 177.5 121.9 175.6C120 173.7 118.8 169.7 116.7 168.4C114.6 167 111.7 167.8 109.5 167.3C107.2 166.8 105 167.3 103.3 165.3C101.5 163.2 100.5 157.7 99.1 154.9C97.7 152.1 96.5 150.8 95 148.7C93.4 146.6 91.3 144.9 89.8 142.5C88.2 140.1 86.3 137 85.7 134.2C85 131.4 85.3 128.7 85.7 125.9Z"/><path fill="#c3e4c5" stroke="#a9dcad" stroke-width="1" d="M115.7 129C115.6 126.3 116.4 124 117.3 121.8C118.3 119.6 119.7 117.5 121.5 116C123.3 114.4 125.7 113.2 128.1 112.5C130.5 111.7 133.4 111.4 136 111.4C138.6 111.4 141.4 111.8 143.6 112.5C145.8 113.2 147.7 114.2 149.2 115.6C150.8 116.9 151.9 118.8 152.9 120.7C154 122.7 155 125.1 155.4 127.4C155.8 129.6 155.8 132.1 155.4 134.2C155 136.3 153.8 138.1 152.9 140C152.1 141.9 152 144.3 150.5 145.6C148.9 146.9 146 147.1 143.6 147.7C141.2 148.2 138.6 149.1 136 149.1C133.4 149.1 130.4 148.6 128.1 147.7C125.8 146.7 123.6 145.1 121.9 143.5C120.2 142 118.8 140.8 117.7 138.3C116.7 135.9 115.7 131.8 115.7 129Z"/><path class="b" d="M76.3 132.1C76.2 128.2 77.5 123.5 78.4 119.7C79.3 115.9 80 112.6 81.5 109.4C83.1 106.1 85.5 102.8 87.7 100C90 97.3 92.2 95.1 95 92.8C97.7 90.5 101 87.9 104.3 86.2C107.6 84.4 111.4 83.3 114.6 82.4C117.9 81.5 121.4 80.8 124 80.8C126.5 80.8 128.1 81.9 130.2 82.4C132.2 83 134 84 136.4 84.1C138.8 84.2 141.9 83.2 144.7 82.9C147.4 82.5 149.8 82 152.9 82C156 82 160.2 82.3 163.3 82.9C166.4 83.4 168.8 84.2 171.6 85.5C174.3 86.9 177.3 88.8 179.9 90.7C182.4 92.6 185.3 94.5 187.1 96.9C188.9 99.3 189.9 102.5 190.6 105.2C191.3 108 190.6 110.6 191.2 113.5C191.9 116.4 193.3 119.7 194.3 122.8C195.4 125.9 196.9 129 197.5 132.1C198 135.2 197.9 138.3 197.5 141.4C197 144.6 195.6 147.7 194.8 150.8C193.9 153.9 193.6 157.3 192.3 160.1C191 162.8 189.5 165.1 187.1 167.3C184.7 169.6 180.7 171.6 177.8 173.5C174.9 175.4 172.3 177.5 169.5 178.7C166.7 179.9 164 180.6 161.2 180.8C158.5 181 155.7 180.3 152.9 179.7C150.2 179.2 147.1 178.2 144.7 177.7C142.2 177.2 140.3 176.3 138.4 176.6C136.6 177 135 178.4 133.3 179.7C131.5 181.1 130 183.8 128.1 184.9C126.2 186 124.3 186.5 121.9 186.4C119.5 186.2 116.4 185 113.6 183.9C110.8 182.8 108.1 181.1 105.3 179.7C102.6 178.4 99.5 177.3 97 175.6C94.6 173.9 92.9 171.6 90.8 169.4C88.8 167.2 86.3 164.7 84.6 162.2C83 159.6 81.8 157 80.9 153.9C80 150.8 80.2 147.1 79.4 143.5C78.7 139.9 76.5 136.1 76.3 132.1ZM103.7 128C103.5 124.9 104.4 122.1 105.3 119.7C106.3 117.3 107.6 115 109.5 113.5C111.4 111.9 113.9 110.8 116.7 110.4C119.5 110 122.7 110.7 126 111C129.3 111.4 132.9 112.5 136.4 112.5C139.8 112.5 143.6 111.4 146.7 111C149.8 110.7 152.6 109.8 155 110.4C157.4 111 159.3 112.6 161.2 114.5C163.1 116.4 164.7 119.4 166.4 121.8C168.1 124.2 170.2 126.6 171.2 129C172.1 131.4 172.3 134 172 136.3C171.7 138.5 170.8 140.6 169.5 142.5C168.2 144.4 166.4 146.2 164.3 147.7C162.3 149.1 159.5 150.6 157.1 151.2C154.7 151.8 152.3 151.5 149.8 151.2C147.4 150.8 145.2 149.5 142.6 149.1C140 148.8 137.1 148.7 134.3 149.1C131.5 149.6 128.6 151.5 126 151.8C123.4 152.1 121.2 151.8 118.8 150.8C116.4 149.7 113.6 147.7 111.5 145.6C109.5 143.5 107.7 141.3 106.4 138.3C105 135.4 103.8 131.1 103.7 128Z"/><path class="r" d="M73.2 124.9C73.2 123.5 74.1 121.7 75.3 120.7C76.5 119.8 78.6 119.3 80.5 119.3C82.4 119.3 85.1 121.4 86.7 120.7C88.2 120.1 88.9 117.6 89.8 115.6C90.7 113.5 91 110.7 91.9 108.3C92.7 105.9 93.4 103.3 95 101.1C96.5 98.8 98.8 96.8 101.2 94.9C103.6 93 106.5 91.1 109.5 89.7C112.4 88.2 116 87.4 118.8 86.2C121.5 84.9 123.3 83 126 82C128.8 81.1 132.4 81 135.3 80.4C138.3 79.7 141.4 78.5 143.6 78.3C145.9 78.1 147.1 78.2 148.8 79.3C150.5 80.4 151.6 83.5 154 84.9C156.4 86.3 160.2 86.5 163.3 87.6C166.4 88.8 169.5 90.2 172.6 91.8C175.7 93.3 179.5 95.2 181.9 96.9C184.3 98.7 186.1 99.7 187.1 102.1C188.1 104.5 187.7 108.5 187.7 111.4C187.7 114.4 187.6 116.9 187.1 119.7C186.7 122.5 184.9 125.4 185 128C185.1 130.6 186.7 133 187.7 135.2C188.8 137.5 191 139.4 191.2 141.4C191.5 143.5 190.4 145.6 189.2 147.7C188 149.7 185.6 151.8 184 153.9C182.4 155.9 181.6 158 179.9 160.1C178.1 162.2 175.9 164.7 173.6 166.3C171.4 167.9 168.6 169.1 166.4 169.8C164.2 170.5 162.4 170.7 160.2 170.4C157.9 170.2 155.2 168.2 152.9 168.4C150.7 168.5 148.8 170.3 146.7 171.5C144.7 172.7 142.6 174.6 140.5 175.6C138.4 176.6 136.4 177 134.3 177.3C132.2 177.5 130.3 177 128.1 177.3C125.9 177.5 123.4 178.6 120.9 178.7C118.3 178.9 115.3 178.6 112.6 178.1C109.8 177.6 106.5 176.9 104.3 175.6C102 174.3 101 172.3 99.1 170.4C97.2 168.5 94.8 166.5 92.9 164.2C91 162 88.9 159.6 87.7 157C86.5 154.4 86.3 151.6 85.7 148.7C85 145.8 84.4 142.1 83.6 139.4C82.7 136.6 81.9 133.9 80.5 132.1C79.1 130.4 76.5 130.2 75.3 129C74.1 127.8 73.2 126.3 73.2 124.9ZM113.6 129C113.5 126.3 114.2 124 115.3 121.8C116.3 119.5 117.8 117.3 119.8 115.6C121.8 113.8 124.5 112.4 127.1 111.4C129.7 110.5 132.6 110 135.3 110C138.1 110 141.2 110.7 143.6 111.4C146 112.2 148.1 113.2 149.8 114.5C151.6 115.9 152.8 117.6 154 119.7C155.1 121.8 156.2 124.5 156.7 127C157.1 129.4 157.1 132 156.7 134.2C156.2 136.4 155.3 138.5 154 140.4C152.7 142.3 150.7 144 148.8 145.6C146.9 147.1 144.8 148.9 142.6 149.7C140.3 150.6 137.9 150.9 135.3 150.8C132.8 150.7 129.5 150.1 127.1 149.1C124.6 148.1 122.7 146.3 120.9 144.6C119 142.8 117.3 140.9 116.1 138.3C114.9 135.8 113.7 131.8 113.6 129Z"/><use href="#mx" x="161.50" y="137.18"/></g>
<path class="t" d="M0.50 0.18H274.50V262.18H0.50ZM0.50 262.18v4.86M0.50 262.18h-4.86M46.50 262.18v4.86M0.50 219.18h-4.86M91.50 262.18v4.86M0.50 175.18h-4.86M137.50 262.18v4.86M0.50 131.18h-4.86M182.50 262.18v4.86M0.50 88.18h-4.86M228.50 262.18v4.86M0.50 44.18h-4.86M274.50 262.18v4.86M0.50 0.18h-4.86"/><text class="c n" x="-0.90" y="282.68">−3</text><text class="e n" x="-11.77" y="267.68">−3</text><text class="c n" x="45.10" y="282.68">−2</text><text class="e n" x="-11.77" y="223.68">−2</text><text class="c n" x="90.10" y="282.68">−1</text><text class="e n" x="-11.77" y="180.68">−1</text><text class="c" x="137.50" y="282.68">0</text><text class="e" x="-9.12" y="136.68">0</text><text class="c" x="182.50" y="282.68">1</text><text class="e" x="-9.12" y="92.68">1</text><text class="c" x="228.50" y="282.68">2</text><text class="e" x="-9.12" y="49.68">2</text><text class="c" x="274.50" y="282.68">3</text><text class="e" x="-9.12" y="5.68">3</text><text x="246.00" y="248.68">1</text></g>
<g transform="translate(478.24,2271.32)">
<g clip-path="url(#cp)"><path fill="#d7f4d7" d="M73.4 134.9C73.4 130.3 74.2 125 75.1 120C76.1 115 77.4 110.5 78.9 105.1C80.3 99.7 81.8 93.3 83.8 87.7C85.9 82.1 88.4 76.5 91.3 71.6C94.2 66.6 97.5 61.8 101.2 57.9C105 54 109.5 50.6 113.7 47.9C117.8 45.3 121.9 43.8 126.1 41.7C130.2 39.7 134.4 37.4 138.5 35.5C142.6 33.7 146.8 31.6 150.9 30.6C155.1 29.5 159.2 29.1 163.3 29.3C167.5 29.5 171.2 31.4 175.8 31.8C180.3 32.2 186.1 31.4 190.7 31.8C195.2 32.2 200 32 203.1 34.3C206.2 36.6 208.3 41.1 209.3 45.5C210.3 49.8 208.9 55.4 209.3 60.4C209.7 65.3 212 70.3 211.8 75.3C211.6 80.2 209.5 85.2 208.1 90.2C206.6 95.2 205 100.1 203.1 105.1C201.2 110.1 197.9 115 196.9 120C195.9 125 196.3 129.9 196.9 134.9C197.5 139.9 199.4 145.3 200.6 149.8C201.9 154.4 203.1 158.1 204.3 162.2C205.6 166.4 207.4 170.1 208.1 174.7C208.7 179.2 207.7 184.6 208.1 189.6C208.5 194.5 210.8 199.9 210.6 204.5C210.3 209 209.3 213.8 206.8 216.9C204.3 220 199.6 221.2 195.6 223.1C191.7 225 187.4 226.4 183.2 228.1C179.1 229.7 174.5 231.7 170.8 233C167.1 234.4 164.2 236.3 160.9 236.3C157.6 236.3 154.2 234.4 150.9 233C147.6 231.7 144.7 229.7 141 228.1C137.3 226.4 132.3 225 128.6 223.1C124.8 221.2 121.9 219 118.6 216.9C115.3 214.8 112 212.3 108.7 210.7C105.4 209 101.7 209.2 98.8 207C95.9 204.7 93 200.7 91.3 197C89.6 193.3 90.1 188.7 88.8 184.6C87.6 180.5 85.3 176.3 83.8 172.2C82.4 168 81.6 163.9 80.1 159.7C78.7 155.6 76.3 151.5 75.1 147.3C74 143.2 73.4 139.5 73.4 134.9Z"/><path fill="#c3e4c5" stroke="#a9dcad" stroke-width="1" d="M97.5 129.9C97.7 124.6 98.5 115.9 100 110.1C101.4 104.3 103.5 99.5 106.2 95.2C108.9 90.8 113 87.3 116.1 84C119.2 80.7 121.5 76.9 124.8 75.3C128.2 73.6 132.5 74.9 136 74C139.5 73.2 143.3 71.8 146 70.3C148.6 68.8 150.1 65 152.2 64.8C154.2 64.6 156.9 66.7 158.4 69.1C159.8 71.4 160.9 75.5 160.9 79C160.9 82.5 158.6 86.3 158.4 90.2C158.2 94.1 158.8 98.5 159.6 102.6C160.5 106.7 162.3 110.9 163.3 115C164.4 119.2 165.6 123.3 165.8 127.5C166 131.6 165.2 135.7 164.6 139.9C164 144 163.1 148.2 162.1 152.3C161.1 156.4 159 160.2 158.4 164.7C157.8 169.3 158.8 175.5 158.4 179.6C158 183.8 158 187.7 155.9 189.6C153.8 191.4 149.3 190.2 146 190.8C142.6 191.4 138.9 193.1 136 193.3C133.1 193.5 131.1 193.5 128.6 192C126.1 190.6 123.4 187.5 121.1 184.6C118.8 181.7 117 178 114.9 174.7C112.8 171.3 110.8 168.4 108.7 164.7C106.6 161 104.1 156 102.5 152.3C100.8 148.6 99.6 146.1 98.8 142.4C97.9 138.6 97.3 135.3 97.5 129.9Z"/><path class="b" d="M64.5 118C64.9 116 68.2 114.2 70.2 113C72.2 111.9 74.9 112.6 76.4 111.3C77.8 110 77.2 107.2 78.9 105.1C80.5 103 84.1 101.2 86.3 98.9C88.6 96.6 91.1 94.3 92.5 91.4C94 88.5 94 84.6 95 81.5C96.1 78.4 96.9 75.2 98.8 72.8C100.6 70.4 103.3 68.6 106.2 67.3C109.1 66.1 112.8 65.2 116.1 65.3C119.5 65.5 122.4 67.8 126.1 68.3C129.8 68.8 135.2 68 138.5 68.3C141.8 68.7 143.5 69.4 146 70.3C148.4 71.3 150.9 73.1 153.4 74C155.9 74.9 158 75.6 160.9 75.8C163.8 76 167.9 74.6 170.8 75.3C173.7 75.9 175.6 78.4 178.3 79.7C180.9 81.1 184.5 81.9 187 83.2C189.4 84.6 191.7 85.5 193.2 87.7C194.6 89.9 195 93.5 195.6 96.4C196.3 99.3 195.9 102.6 196.9 105.1C197.9 107.6 200.8 108.8 201.9 111.3C202.9 113.8 203.1 116.9 203.1 120C203.1 123.1 202.4 127 201.9 129.9C201.4 132.8 200.5 134.3 200.1 137.4C199.7 140.5 200.7 146.3 199.4 148.6C198 150.8 194 149.6 191.9 151.1C189.8 152.5 188 154.6 187 157.3C185.9 160 186.7 164.3 185.7 167.2C184.7 170.1 183 173 180.7 174.7C178.5 176.3 174.9 176.3 172 177.1C169.1 178 165.4 177.8 163.3 179.6C161.3 181.5 160.9 185.6 159.6 188.3C158.4 191 158 194.1 155.9 195.8C153.8 197.4 149.9 198.5 147.2 198.3C144.5 198.1 141.4 196.4 139.7 194.5C138.1 192.7 138.7 188.5 137.3 187.1C135.8 185.6 133.3 185.4 131.1 185.8C128.8 186.3 126.1 188.7 123.6 189.6C121.1 190.4 118.6 191.3 116.1 190.8C113.7 190.3 111.2 188.2 108.7 186.6C106.2 184.9 103.7 182.9 101.2 180.9C98.8 178.8 96.9 175.7 93.8 174.2C90.7 172.6 85.3 173.2 82.6 171.7C79.9 170.1 78.5 167.3 77.6 164.7C76.8 162.1 77.2 158.7 77.6 156C78 153.3 80.5 151.1 80.1 148.6C79.7 146.1 76.8 143.4 75.1 141.1C73.5 138.8 71.4 137.6 70.2 134.9C68.9 132.2 68.6 127.8 67.7 125C66.7 122.2 64.1 120 64.5 118ZM109.9 129.9C110.1 127.2 111.2 123.9 112.4 121.2C113.7 118.5 115.1 115.9 117.4 113.8C119.7 111.7 123 109.9 126.1 108.8C129.2 107.7 132.7 107.1 136 107.1C139.3 107.1 143.1 107.7 146 108.8C148.9 109.9 151.1 111.7 153.4 113.8C155.7 115.9 158.2 118.5 159.6 121.2C161.1 123.9 161.9 127 162.1 129.9C162.3 132.8 161.7 135.9 160.9 138.6C160 141.3 159 143.8 157.1 146.1C155.3 148.4 152.4 150.8 149.7 152.3C147 153.7 143.9 154.4 141 154.8C138.1 155.2 135.2 155.4 132.3 154.8C129.4 154.2 126.3 152.9 123.6 151.1C120.9 149.2 118.1 145.9 116.1 143.6C114.2 141.3 112.7 139.7 111.7 137.4C110.6 135.1 109.8 132.6 109.9 129.9Z"/><path class="r" d="M47.1 139.9C47.2 134.1 48.4 128.3 48.6 122.5C48.7 116.7 47.5 111.3 47.8 105.1C48.1 98.9 48.9 91.6 50.3 85.2C51.8 78.8 53.8 72 56.5 66.6C59.2 61.2 62.7 57.1 66.5 52.9C70.2 48.8 74.3 45 78.9 41.7C83.4 38.4 89.2 35.1 93.8 33C98.3 31 102.5 29.7 106.2 29.3C109.9 28.9 112.8 29.3 116.1 30.6C119.5 31.8 123 34.1 126.1 36.8C129.2 39.5 132.1 43.2 134.8 46.7C137.5 50.2 140.2 54.4 142.2 57.9C144.3 61.4 146 64.5 147.2 67.8C148.4 71.1 149.1 74.7 149.7 77.8C150.3 80.9 149.9 83.8 150.9 86.5C152 89.1 153.8 91.6 155.9 93.9C158 96.2 161.1 97.4 163.3 100.1C165.6 102.8 167.9 106.3 169.6 110.1C171.2 113.8 172.6 118.3 173.3 122.5C174 126.6 174.2 130.8 173.8 134.9C173.4 139 172.3 143.4 170.8 147.3C169.3 151.3 167.1 155.2 164.6 158.5C162.1 161.8 158.2 164.1 155.9 167.2C153.6 170.3 152.2 173.4 150.9 177.1C149.7 180.9 149.5 185.4 148.4 189.6C147.4 193.7 146.4 198.3 144.7 202C143.1 205.7 141.2 208.6 138.5 211.9C135.8 215.2 132.3 219 128.6 221.9C124.8 224.7 120.3 227.5 116.1 228.8C112 230.1 107.9 230.1 103.7 229.8C99.6 229.6 95.4 228.7 91.3 227.3C87.2 226 82.6 224.4 78.9 221.9C75.1 219.3 72 215.6 68.9 211.9C65.8 208.2 62.9 203.6 60.2 199.5C57.6 195.4 54.7 191.6 52.8 187.1C50.9 182.5 49.9 177.1 49.1 172.2C48.2 167.2 48.2 162.6 47.8 157.3C47.5 151.9 47 145.7 47.1 139.9ZM69.4 90.2C69.1 86.3 69.6 82.1 70.9 77.8C72.3 73.4 74.7 68.2 77.6 64.1C80.6 60 84.9 55.7 88.8 52.9C92.7 50.1 97.5 48.3 101.2 47.5C105 46.6 108.1 46.8 111.2 47.9C114.3 49.1 117.6 51.5 119.9 54.2C122.1 56.9 123.9 60.8 124.8 64.1C125.8 67.4 126 70.9 125.6 74C125.2 77.1 124.1 80.2 122.4 82.7C120.6 85.2 118 86.7 114.9 88.9C111.8 91.2 107.7 94.3 103.7 96.4C99.8 98.5 95.4 99.8 91.3 101.4C87.2 102.9 82 105.6 78.9 105.6C75.8 105.6 74.2 103.9 72.7 101.4C71.1 98.8 69.7 94.1 69.4 90.2ZM109.9 132.4C110.1 128.3 110.8 121.9 112.4 117.5C114.1 113.2 117.2 108.9 119.9 106.3C122.6 103.8 125.5 102.6 128.6 102.1C131.7 101.6 135.4 102 138.5 103.1C141.6 104.2 144.7 106.4 147.2 108.8C149.7 111.2 151.8 114.2 153.4 117.5C155.1 120.8 156.4 125 157.1 128.7C157.9 132.4 158.3 136.4 157.9 139.9C157.5 143.4 156.2 146.9 154.7 149.8C153.1 152.7 150.9 155.1 148.4 157.3C146 159.4 142.9 161.2 139.7 162.7C136.6 164.3 132.7 166.8 129.8 166.7C126.9 166.6 124.8 164.6 122.4 162.2C119.9 159.8 116.8 155.6 114.9 152.3C113 149 112 145.7 111.2 142.4C110.3 139 109.7 136.6 109.9 132.4ZM67.7 169.7C67.9 166 68.5 162.3 70.2 159.7C71.8 157.2 74.5 154.7 77.6 154.3C80.7 153.9 84.9 156.1 88.8 157.3C92.7 158.4 97.7 160 101.2 161C104.8 162 107.2 161.8 109.9 163.5C112.6 165.1 115.1 168 117.4 170.9C119.7 173.8 122.1 177.3 123.6 180.9C125.1 184.4 126.5 188.5 126.6 192C126.7 195.6 125.8 199.1 124.1 202C122.4 204.9 119.5 207.6 116.1 209.4C112.7 211.3 107.9 212.8 103.7 213.2C99.6 213.6 95 213.2 91.3 211.9C87.6 210.7 84.3 208.6 81.4 205.7C78.5 202.8 76 198.5 73.9 194.5C71.8 190.6 70 186.3 68.9 182.1C67.9 178 67.5 173.4 67.7 169.7Z"/><use href="#mx" x="161.26" y="137.18"/></g>
<path class="t" d="M0.26 0.18H274.26V262.18H0.26ZM0.26 262.18v4.86M0.26 262.18h-4.86M46.26 262.18v4.86M0.26 219.18h-4.86M91.26 262.18v4.86M0.26 175.18h-4.86M137.26 262.18v4.86M0.26 131.18h-4.86M183.26 262.18v4.86M0.26 88.18h-4.86M228.26 262.18v4.86M0.26 44.18h-4.86M274.26 262.18v4.86M0.26 0.18h-4.86"/><text class="c n" x="-1.14" y="282.68">−3</text><text class="e n" x="-12.01" y="267.68">−3</text><text class="c n" x="44.86" y="282.68">−2</text><text class="e n" x="-12.01" y="223.68">−2</text><text class="c n" x="89.86" y="282.68">−1</text><text class="e n" x="-12.01" y="180.68">−1</text><text class="c" x="137.26" y="282.68">0</text><text class="e" x="-9.36" y="136.68">0</text><text class="c" x="183.26" y="282.68">1</text><text class="e" x="-9.36" y="92.68">1</text><text class="c" x="228.26" y="282.68">2</text><text class="e" x="-9.36" y="49.68">2</text><text class="c" x="274.26" y="282.68">3</text><text class="e" x="-9.36" y="5.68">3</text><text x="245.76" y="248.68">2</text></g>
<g transform="translate(806.47,2271.32)">
<g clip-path="url(#cp)"><path fill="#eeeeee" d="M71.2 122.5C72.2 118.8 74.1 113.8 76.2 110.1C78.2 106.3 81.1 103.4 83.6 100.1C86.1 96.8 89 93.5 91.1 90.2C93.1 86.9 94.4 83.1 96 80.2C97.7 77.3 98.5 74.5 101 72.8C103.5 71.1 107.2 70.4 110.9 69.8C114.7 69.2 119.2 69.2 123.4 69.1C127.5 68.9 131.6 68.9 135.8 69.1C139.9 69.2 144.5 69.6 148.2 69.8C151.9 70 155.2 69.8 158.1 70.3C161 70.8 163.1 71.8 165.6 72.8C168.1 73.8 170.4 74.7 173.1 76.5C175.7 78.4 179.3 81.3 181.7 84C184.2 86.7 186.1 89.6 188 92.7C189.8 95.8 191.5 99.3 192.9 102.6C194.4 105.9 196 108.8 196.7 112.5C197.3 116.3 196.9 120.8 196.7 125C196.4 129.1 195.4 133.5 195.4 137.4C195.4 141.3 197.5 145.7 196.7 148.6C195.8 151.5 192.3 152.5 190.4 154.8C188.6 157.1 187.1 159.3 185.5 162.2C183.8 165.1 182.6 169.9 180.5 172.2C178.4 174.4 175.1 174.2 173.1 175.9C171 177.6 169.1 179.6 168.1 182.1C167 184.6 168.1 188.7 166.8 190.8C165.6 192.9 162.5 194.1 160.6 194.5C158.8 194.9 157.7 194.3 155.7 193.3C153.6 192.3 150.7 188.9 148.2 188.3C145.7 187.7 143.7 189.1 140.8 189.6C137.9 190 134.1 190.8 130.8 190.8C127.5 190.8 124 190.6 120.9 189.6C117.8 188.5 115.3 186.7 112.2 184.6C109.1 182.5 105.6 179.2 102.2 177.1C98.9 175.1 95.4 174 92.3 172.2C89.2 170.3 86.1 168.2 83.6 166C81.1 163.7 78.2 161.2 77.4 158.5C76.6 155.8 79.5 152.5 78.6 149.8C77.8 147.1 73.9 145.3 72.4 142.4C71 139.5 70.2 135.7 69.9 132.4C69.7 129.1 70.2 126.2 71.2 122.5Z"/><path fill="#dddddd" stroke="#d0d0d0" stroke-width="1" d="M110.9 129.9C111.1 127.2 112.2 123.8 113.4 121.2C114.7 118.7 116.3 116.4 118.4 114.5C120.5 112.7 122.9 111.1 125.8 110.1C128.7 109 132.7 108.2 135.8 108.1C138.9 108 141.8 108.5 144.5 109.6C147.2 110.6 150.1 112.4 151.9 114.5C153.8 116.7 154.8 119.5 155.7 122.5C156.5 125.5 156.9 129.3 156.9 132.4C156.9 135.5 156.5 138.4 155.7 141.1C154.8 143.8 153.6 146.5 151.9 148.6C150.3 150.6 148 152.5 145.7 153.5C143.4 154.6 140.8 154.7 138.3 154.8C135.8 154.9 133.3 155 130.8 154.3C128.3 153.6 125.8 152.3 123.4 150.6C121 148.8 118.3 145.8 116.4 143.6C114.5 141.4 113.1 139.7 112.2 137.4C111.3 135.1 110.7 132.6 110.9 129.9Z"/><path class="r" d="M47.1 139.9C47.2 134.1 48.4 128.3 48.6 122.5C48.7 116.7 47.5 111.3 47.8 105.1C48.1 98.9 48.9 91.6 50.3 85.2C51.8 78.8 53.8 72 56.5 66.6C59.2 61.2 62.7 57.1 66.5 52.9C70.2 48.8 74.3 45 78.9 41.7C83.4 38.4 89.2 35.1 93.8 33C98.3 31 102.5 29.7 106.2 29.3C109.9 28.9 112.8 29.3 116.1 30.6C119.5 31.8 123 34.1 126.1 36.8C129.2 39.5 132.1 43.2 134.8 46.7C137.5 50.2 140.2 54.4 142.2 57.9C144.3 61.4 146 64.5 147.2 67.8C148.4 71.1 149.1 74.7 149.7 77.8C150.3 80.9 149.9 83.8 150.9 86.5C152 89.1 153.8 91.6 155.9 93.9C158 96.2 161.1 97.4 163.3 100.1C165.6 102.8 167.9 106.3 169.6 110.1C171.2 113.8 172.6 118.3 173.3 122.5C174 126.6 174.2 130.8 173.8 134.9C173.4 139 172.3 143.4 170.8 147.3C169.3 151.3 167.1 155.2 164.6 158.5C162.1 161.8 158.2 164.1 155.9 167.2C153.6 170.3 152.2 173.4 150.9 177.1C149.7 180.9 149.5 185.4 148.4 189.6C147.4 193.7 146.4 198.3 144.7 202C143.1 205.7 141.2 208.6 138.5 211.9C135.8 215.2 132.3 219 128.6 221.9C124.8 224.7 120.3 227.5 116.1 228.8C112 230.1 107.9 230.1 103.7 229.8C99.6 229.6 95.4 228.7 91.3 227.3C87.2 226 82.6 224.4 78.9 221.9C75.1 219.3 72 215.6 68.9 211.9C65.8 208.2 62.9 203.6 60.2 199.5C57.6 195.4 54.7 191.6 52.8 187.1C50.9 182.5 49.9 177.1 49.1 172.2C48.2 167.2 48.2 162.6 47.8 157.3C47.5 151.9 47 145.7 47.1 139.9ZM69.4 90.2C69.1 86.3 69.6 82.1 70.9 77.8C72.3 73.4 74.7 68.2 77.6 64.1C80.6 60 84.9 55.7 88.8 52.9C92.7 50.1 97.5 48.3 101.2 47.5C105 46.6 108.1 46.8 111.2 47.9C114.3 49.1 117.6 51.5 119.9 54.2C122.1 56.9 123.9 60.8 124.8 64.1C125.8 67.4 126 70.9 125.6 74C125.2 77.1 124.1 80.2 122.4 82.7C120.6 85.2 118 86.7 114.9 88.9C111.8 91.2 107.7 94.3 103.7 96.4C99.8 98.5 95.4 99.8 91.3 101.4C87.2 102.9 82 105.6 78.9 105.6C75.8 105.6 74.2 103.9 72.7 101.4C71.1 98.8 69.7 94.1 69.4 90.2ZM109.9 132.4C110.1 128.3 110.8 121.9 112.4 117.5C114.1 113.2 117.2 108.9 119.9 106.3C122.6 103.8 125.5 102.6 128.6 102.1C131.7 101.6 135.4 102 138.5 103.1C141.6 104.2 144.7 106.4 147.2 108.8C149.7 111.2 151.8 114.2 153.4 117.5C155.1 120.8 156.4 125 157.1 128.7C157.9 132.4 158.3 136.4 157.9 139.9C157.5 143.4 156.2 146.9 154.7 149.8C153.1 152.7 150.9 155.1 148.4 157.3C146 159.4 142.9 161.2 139.7 162.7C136.6 164.3 132.7 166.8 129.8 166.7C126.9 166.6 124.8 164.6 122.4 162.2C119.9 159.8 116.8 155.6 114.9 152.3C113 149 112 145.7 111.2 142.4C110.3 139 109.7 136.6 109.9 132.4ZM67.7 169.7C67.9 166 68.5 162.3 70.2 159.7C71.8 157.2 74.5 154.7 77.6 154.3C80.7 153.9 84.9 156.1 88.8 157.3C92.7 158.4 97.7 160 101.2 161C104.8 162 107.2 161.8 109.9 163.5C112.6 165.1 115.1 168 117.4 170.9C119.7 173.8 122.1 177.3 123.6 180.9C125.1 184.4 126.5 188.5 126.6 192C126.7 195.6 125.8 199.1 124.1 202C122.4 204.9 119.5 207.6 116.1 209.4C112.7 211.3 107.9 212.8 103.7 213.2C99.6 213.6 95 213.2 91.3 211.9C87.6 210.7 84.3 208.6 81.4 205.7C78.5 202.8 76 198.5 73.9 194.5C71.8 190.6 70 186.3 68.9 182.1C67.9 178 67.5 173.4 67.7 169.7Z"/><path class="b" d="M64.5 118C64.9 116 68.2 114.2 70.2 113C72.2 111.9 74.9 112.6 76.4 111.3C77.8 110 77.2 107.2 78.9 105.1C80.5 103 84.1 101.2 86.3 98.9C88.6 96.6 91.1 94.3 92.5 91.4C94 88.5 94 84.6 95 81.5C96.1 78.4 96.9 75.2 98.8 72.8C100.6 70.4 103.3 68.6 106.2 67.3C109.1 66.1 112.8 65.2 116.1 65.3C119.5 65.5 122.4 67.8 126.1 68.3C129.8 68.8 135.2 68 138.5 68.3C141.8 68.7 143.5 69.4 146 70.3C148.4 71.3 150.9 73.1 153.4 74C155.9 74.9 158 75.6 160.9 75.8C163.8 76 167.9 74.6 170.8 75.3C173.7 75.9 175.6 78.4 178.3 79.7C180.9 81.1 184.5 81.9 187 83.2C189.4 84.6 191.7 85.5 193.2 87.7C194.6 89.9 195 93.5 195.6 96.4C196.3 99.3 195.9 102.6 196.9 105.1C197.9 107.6 200.8 108.8 201.9 111.3C202.9 113.8 203.1 116.9 203.1 120C203.1 123.1 202.4 127 201.9 129.9C201.4 132.8 200.5 134.3 200.1 137.4C199.7 140.5 200.7 146.3 199.4 148.6C198 150.8 194 149.6 191.9 151.1C189.8 152.5 188 154.6 187 157.3C185.9 160 186.7 164.3 185.7 167.2C184.7 170.1 183 173 180.7 174.7C178.5 176.3 174.9 176.3 172 177.1C169.1 178 165.4 177.8 163.3 179.6C161.3 181.5 160.9 185.6 159.6 188.3C158.4 191 158 194.1 155.9 195.8C153.8 197.4 149.9 198.5 147.2 198.3C144.5 198.1 141.4 196.4 139.7 194.5C138.1 192.7 138.7 188.5 137.3 187.1C135.8 185.6 133.3 185.4 131.1 185.8C128.8 186.3 126.1 188.7 123.6 189.6C121.1 190.4 118.6 191.3 116.1 190.8C113.7 190.3 111.2 188.2 108.7 186.6C106.2 184.9 103.7 182.9 101.2 180.9C98.8 178.8 96.9 175.7 93.8 174.2C90.7 172.6 85.3 173.2 82.6 171.7C79.9 170.1 78.5 167.3 77.6 164.7C76.8 162.1 77.2 158.7 77.6 156C78 153.3 80.5 151.1 80.1 148.6C79.7 146.1 76.8 143.4 75.1 141.1C73.5 138.8 71.4 137.6 70.2 134.9C68.9 132.2 68.6 127.8 67.7 125C66.7 122.2 64.1 120 64.5 118ZM109.9 129.9C110.1 127.2 111.2 123.9 112.4 121.2C113.7 118.5 115.1 115.9 117.4 113.8C119.7 111.7 123 109.9 126.1 108.8C129.2 107.7 132.7 107.1 136 107.1C139.3 107.1 143.1 107.7 146 108.8C148.9 109.9 151.1 111.7 153.4 113.8C155.7 115.9 158.2 118.5 159.6 121.2C161.1 123.9 161.9 127 162.1 129.9C162.3 132.8 161.7 135.9 160.9 138.6C160 141.3 159 143.8 157.1 146.1C155.3 148.4 152.4 150.8 149.7 152.3C147 153.7 143.9 154.4 141 154.8C138.1 155.2 135.2 155.4 132.3 154.8C129.4 154.2 126.3 152.9 123.6 151.1C120.9 149.2 118.1 145.9 116.1 143.6C114.2 141.3 112.7 139.7 111.7 137.4C110.6 135.1 109.8 132.6 109.9 129.9Z"/><use href="#mx" x="162.03" y="137.18"/></g>
<path class="t" d="M0.03 0.18H274.03V262.18H0.03ZM0.03 262.18v4.86M0.03 262.18h-4.86M46.03 262.18v4.86M0.03 219.18h-4.86M92.03 262.18v4.86M0.03 175.18h-4.86M137.03 262.18v4.86M0.03 131.18h-4.86M183.03 262.18v4.86M0.03 88.18h-4.86M228.03 262.18v4.86M0.03 44.18h-4.86M274.03 262.18v4.86M0.03 0.18h-4.86"/><text class="c n" x="-1.37" y="282.68">−3</text><text class="e n" x="-12.24" y="267.68">−3</text><text class="c n" x="44.63" y="282.68">−2</text><text class="e n" x="-12.24" y="223.68">−2</text><text class="c n" x="90.63" y="282.68">−1</text><text class="e n" x="-12.24" y="180.68">−1</text><text class="c" x="137.03" y="282.68">0</text><text class="e" x="-9.59" y="136.68">0</text><text class="c" x="183.03" y="282.68">1</text><text class="e" x="-9.59" y="92.68">1</text><text class="c" x="228.03" y="282.68">2</text><text class="e" x="-9.59" y="49.68">2</text><text class="c" x="274.03" y="282.68">3</text><text class="e" x="-9.59" y="5.68">3</text><text x="246.53" y="248.68">2</text><text x="300.53" y="26.68">logB (UROB) = 0.00</text><text x="300.53" y="65.68">logB (NESS) = 0.00</text><text x="300.53" y="104.68">logB (PRIO) = 0.00</text></g>
<g transform="translate(150.00,2585.87)">
<g clip-path="url(#cp)"><path fill="#d7f4d7" d="M91.9 120.2C92.4 117.2 93.1 113.8 93.9 110.8C94.8 107.9 96.9 105.1 97 102.6C97.2 100 94.6 97 95 95.3C95.3 93.6 97.4 91.9 99.1 92.2C100.8 92.5 103.1 97 105.3 97.4C107.6 97.7 110.2 95.5 112.6 94.3C115 93.1 117.2 91.7 119.8 90.1C122.4 88.6 125.7 85.5 128.1 85C130.5 84.4 132.2 85.8 134.3 87C136.4 88.2 138.1 91 140.5 92.2C142.9 93.4 146 93.6 148.8 94.3C151.6 95 154.3 95.3 157.1 96.3C159.8 97.4 162.9 98.6 165.4 100.5C167.8 102.4 170 105.1 171.6 107.7C173.1 110.3 173.3 113.6 174.7 116C176.1 118.4 178.6 119.8 179.9 122.2C181.1 124.6 181.1 127.7 181.9 130.5C182.8 133.3 184.3 136.4 185 138.8C185.7 141.2 186.6 143.3 186.1 145C185.6 146.7 183.7 147.8 181.9 149.1C180.2 150.5 176.9 151.6 175.7 153.3C174.5 155 175.7 157.4 174.7 159.5C173.6 161.6 171.7 164.2 169.5 165.7C167.3 167.3 164 167.9 161.2 168.8C158.5 169.7 155.4 170 152.9 170.9C150.5 171.7 148.5 172.6 146.7 174C145 175.4 144.1 178 142.6 179.2C141 180.4 139 181.7 137.4 181.2C135.9 180.7 134.8 177.6 133.3 176.1C131.7 174.5 130 172.9 128.1 171.9C126.2 170.9 124 171.2 121.9 169.8C119.8 168.5 118.1 165.2 115.7 163.6C113.3 162.1 109.6 162.3 107.4 160.5C105.2 158.8 103.9 155.7 102.2 153.3C100.5 150.9 98.6 148.8 97 146C95.5 143.3 93.9 139.7 92.9 136.7C91.9 133.8 91 131.2 90.8 128.4C90.7 125.7 91.3 123.1 91.9 120.2Z"/><path fill="#c3e4c5" stroke="#a9dcad" stroke-width="1" d="M118.2 130.5C118.4 128.3 118.8 125.6 119.8 123.5C120.9 121.3 122.6 119.1 124.4 117.5C126.1 115.9 128.2 114.7 130.4 113.9C132.5 113.2 135.1 112.8 137.4 112.9C139.8 113 142.3 113.3 144.5 114.4C146.6 115.5 148.5 117.5 150 119.5C151.6 121.5 152.9 124 153.6 126.4C154.3 128.7 154.5 131.2 154.2 133.6C153.8 136 152.6 138.5 151.5 140.7C150.4 142.8 149 144.7 147.4 146.2C145.7 147.8 143.5 149.1 141.3 149.8C139.2 150.5 136.7 150.7 134.3 150.4C132 150 129.3 149 127.3 147.7C125.2 146.4 123.3 144.6 121.9 142.7C120.4 140.9 119.2 138.8 118.6 136.7C118 134.7 118 132.7 118.2 130.5Z"/><path class="b" d="M76.3 120.2C76.9 117.4 79.8 114.8 81.5 111.9C83.2 108.9 85 105.7 86.7 102.6C88.4 99.5 89.8 96 91.9 93.2C93.9 90.5 96.5 87.7 99.1 86C101.7 84.3 104.6 83.3 107.4 82.9C110.2 82.4 112.9 82.6 115.7 83.3C118.4 84 121.2 85.7 124 87C126.7 88.3 129.5 90.7 132.2 91.2C135 91.7 137.8 90.8 140.5 90.1C143.3 89.5 146 88.1 148.8 87.4C151.6 86.8 154 86.1 157.1 86C160.2 85.9 164.3 85.9 167.4 86.6C170.5 87.3 173 88.5 175.7 90.1C178.5 91.8 181.6 94.3 184 96.3C186.4 98.4 188.5 100.3 190.2 102.6C191.9 104.8 193.5 106.9 194.3 109.8C195.2 112.7 195.4 116.7 195.4 120.2C195.4 123.6 194.9 127.1 194.3 130.5C193.8 134 192.1 137.4 192.3 140.9C192.5 144.3 195.2 148.4 195.4 151.2C195.6 154 194.9 155.4 193.3 157.4C191.8 159.5 188.7 161.7 186.1 163.6C183.5 165.5 180.5 167.4 177.8 168.8C175 170.2 172.6 171.1 169.5 171.9C166.4 172.8 162.6 173.7 159.2 174C155.7 174.3 151.9 174 148.8 173.6C145.7 173.2 143.3 171.6 140.5 171.5C137.8 171.4 134.7 172.2 132.2 172.9C129.8 173.7 128.4 175.4 126 176.1C123.6 176.7 120 176.5 117.7 177.1C115.5 177.7 114.2 178.7 112.6 179.8C110.9 180.8 109.4 183.4 107.8 183.3C106.3 183.2 105 181.1 103.3 179.2C101.5 177.3 99.1 174.5 97 171.9C95 169.3 92.9 166 90.8 163.6C88.8 161.2 86.3 159.8 84.6 157.4C83 155 81.6 152.2 80.9 149.1C80.2 146 81 142.2 80.5 138.8C80 135.3 78.7 131.5 78 128.4C77.3 125.3 75.8 122.9 76.3 120.2ZM102.2 130.5C101.9 127.9 102.6 125.5 103.7 123.3C104.7 121 106.4 118.7 108.4 117C110.4 115.4 112.7 114.3 115.7 113.5C118.6 112.7 122.6 112.4 126 112.3C129.5 112.2 132.9 112.9 136.4 112.9C139.8 112.9 143.3 112.1 146.7 112.3C150.2 112.5 154.1 113 157.1 113.9C160 114.9 162.4 116.2 164.3 118.1C166.2 120 167.7 122.7 168.5 125.3C169.3 127.9 169.5 130.9 169.1 133.6C168.6 136.4 167.3 139.7 165.8 141.9C164.3 144.1 162.3 145.8 160.2 147.1C158 148.3 155.5 149.3 152.9 149.6C150.4 149.8 147.4 149.1 144.7 148.7C141.9 148.4 139.1 147.5 136.4 147.5C133.6 147.5 130.9 148.5 128.1 148.7C125.3 148.9 122.6 149.3 119.8 148.7C117.1 148.2 113.9 147.1 111.5 145.4C109.1 143.8 106.9 141.3 105.3 138.8C103.8 136.3 102.5 133.1 102.2 130.5Z"/><path class="r" d="M88.8 132.6C88.6 129.8 89.1 127.1 89.8 124.3C90.5 121.5 91.7 118.4 92.9 116C94.1 113.6 95.7 111.9 97 109.8C98.4 107.7 99.5 105.3 101.2 103.6C102.9 101.9 105.5 100.7 107.4 99.5C109.3 98.2 111.7 97.9 112.6 96.3C113.4 94.8 112.1 91.9 112.6 90.1C113 88.4 113.7 86.3 115.3 86C116.8 85.6 119.7 87.6 121.9 88.1C124 88.5 126 88.9 128.1 88.7C130.2 88.4 132.4 87.6 134.3 86.6C136.2 85.6 137.9 84 139.5 82.9C141 81.7 142.1 79.9 143.6 79.8C145.2 79.7 147.2 81.2 148.8 82.5C150.4 83.8 151.4 85.6 152.9 87.4C154.5 89.2 156.2 91.4 158.1 93.2C160 95.1 162.4 96.7 164.3 98.4C166.2 100.1 168.3 101.7 169.5 103.6C170.7 105.5 170.2 108.4 171.6 109.8C173 111.3 176.2 112.2 177.8 112.3C179.3 112.4 179.9 110.1 180.9 110.2C181.9 110.3 184 111.9 184 112.9C184 113.9 181.9 115.2 180.9 116.4C179.9 117.6 178 118.2 177.8 120.2C177.5 122.2 179.2 125.7 179.4 128.4C179.7 131.2 180.1 134.1 179.4 136.7C178.8 139.3 176.9 141.5 175.7 144C174.6 146.4 172.8 149 172.6 151.2C172.4 153.5 174.9 155.5 174.7 157.4C174.5 159.3 173.5 161 171.6 162.6C169.7 164.2 166.1 165.5 163.3 166.7C160.5 167.9 157.6 168.8 155 169.8C152.4 170.9 149.5 171.7 147.8 172.9C146 174.2 145.4 175.5 144.7 177.1C144 178.6 144.5 181.1 143.6 182.3C142.8 183.5 140.9 184.3 139.5 184.3C138.1 184.3 136.6 183.5 135.3 182.3C134.1 181.1 133.1 178.6 132.2 177.1C131.4 175.5 131.5 173.8 130.2 172.9C128.8 172.1 126.4 172.4 124 171.9C121.5 171.4 118.3 170.9 115.7 169.8C113.1 168.8 110.5 167.3 108.4 165.7C106.4 164.2 104.5 162.4 103.3 160.5C102 158.6 102.4 156.4 101.2 154.3C100 152.2 97.7 150.3 96 148.1C94.3 145.9 92 143.4 90.8 140.9C89.6 138.3 88.9 135.3 88.8 132.6ZM110.7 76.3C110.7 75.7 110.9 74.8 111.1 74.6C111.4 74.4 112 74.3 112.2 74.8C112.3 75.3 112.3 77 112.2 77.5C112 78 111.4 78.1 111.1 77.9C110.9 77.7 110.7 76.8 110.7 76.3ZM117.7 130.5C118 128.3 118.4 125.5 119.4 123.3C120.4 121 122.2 118.7 124 117C125.8 115.4 127.9 114.3 130.2 113.5C132.4 112.8 135 112.4 137.4 112.5C139.8 112.6 142.5 112.8 144.7 113.9C146.8 115 148.9 117 150.5 119.1C152 121.2 153.3 124 154 126.4C154.7 128.8 154.9 131.2 154.6 133.6C154.3 136 153 138.7 151.9 140.9C150.8 143 149.5 145.1 147.8 146.7C146 148.2 143.8 149.5 141.6 150.2C139.3 150.9 136.7 151.1 134.3 150.8C131.9 150.5 129.2 149.4 127.1 148.1C124.9 146.8 123 144.8 121.5 142.9C120 141 118.8 138.8 118.2 136.7C117.5 134.6 117.5 132.7 117.7 130.5Z"/><use href="#mx" x="137.50" y="131.63"/></g>
<path class="t" d="M0.50 0.63H274.50V262.63H0.50ZM0.50 262.63v4.86M0.50 262.63h-4.86M46.50 262.63v4.86M0.50 218.63h-4.86M91.50 262.63v4.86M0.50 175.63h-4.86M137.50 262.63v4.86M0.50 131.63h-4.86M182.50 262.63v4.86M0.50 87.63h-4.86M228.50 262.63v4.86M0.50 44.63h-4.86M274.50 262.63v4.86M0.50 0.63h-4.86"/><text class="c n" x="-0.90" y="283.13">−3</text><text class="e n" x="-11.77" y="268.13">−3</text><text class="c n" x="45.10" y="283.13">−2</text><text class="e n" x="-11.77" y="224.13">−2</text><text class="c n" x="90.10" y="283.13">−1</text><text class="e n" x="-11.77" y="180.13">−1</text><text class="c" x="137.50" y="283.13">0</text><text class="e" x="-9.12" y="137.13">0</text><text class="c" x="182.50" y="283.13">1</text><text class="e" x="-9.12" y="93.13">1</text><text class="c" x="228.50" y="283.13">2</text><text class="e" x="-9.12" y="49.13">2</text><text class="c" x="274.50" y="283.13">3</text><text class="e" x="-9.12" y="5.13">3</text><text x="246.00" y="249.13">1</text></g>
<g transform="translate(478.24,2585.87)">
<g clip-path="url(#cp)"><path fill="#d7f4d7" d="M91.6 128.4C91.7 125.5 93.5 121.2 94.3 118.1C95.2 115 95.9 112.6 96.8 109.8C97.7 107 98.2 103.4 99.9 101.5C101.6 99.6 104.4 99.3 107.2 98.4C109.9 97.6 114.7 98.1 116.5 96.3C118.3 94.6 116.5 89.9 117.9 88.1C119.3 86.2 122.2 85.5 124.8 85.4C127.3 85.2 130.5 86.2 133 87C135.6 87.8 137.7 90.4 140.3 90.1C142.9 89.9 146.2 86.6 148.6 85.4C151 84.2 152.7 82.8 154.8 82.9C156.8 83 158.9 84.8 161 86C163.1 87.2 165.1 88.9 167.2 90.1C169.3 91.3 172.1 91.3 173.4 93.2C174.7 95.1 173.7 99.5 175.1 101.5C176.4 103.6 179.7 104.1 181.7 105.7C183.7 107.2 185.8 108.4 186.9 110.8C187.9 113.3 188.1 117.2 187.9 120.2C187.7 123.1 186.4 125.7 185.8 128.4C185.3 131.2 185.8 134.1 184.8 136.7C183.8 139.3 180.1 141.5 179.6 144C179.1 146.4 180.9 149.1 181.7 151.2C182.5 153.3 184.5 154.7 184.2 156.4C183.8 158.1 181.1 159.8 179.6 161.6C178.2 163.3 177.6 165.7 175.5 166.7C173.4 167.8 170 167.1 167.2 167.8C164.4 168.5 161.3 169.5 158.9 170.9C156.5 172.3 154.8 174.5 152.7 176.1C150.6 177.6 148.9 179.3 146.5 180.2C144.1 181.1 141 181.2 138.2 181.2C135.5 181.2 132.7 180.9 129.9 180.2C127.2 179.5 123.9 178.5 121.7 177.1C119.4 175.7 117.9 173.6 116.5 171.9C115.1 170.2 115.3 167.8 113.4 166.7C111.5 165.7 107.5 166.9 105.1 165.7C102.7 164.5 100.4 161.9 98.9 159.5C97.3 157.1 96.3 154 95.8 151.2C95.3 148.4 96.1 145.5 95.8 142.9C95.4 140.3 94.4 138.1 93.7 135.7C93 133.3 91.5 131.4 91.6 128.4Z"/><path fill="#c3e4c5" stroke="#a9dcad" stroke-width="1" d="M117.1 130.5C117.2 127.9 117.4 124.6 118.5 122.2C119.6 119.8 121.5 117.6 123.7 116C126 114.5 129.2 113.5 132 112.9C134.8 112.3 137.5 112 140.3 112.3C143 112.5 146.3 113 148.6 114.4C150.8 115.7 152.5 117.8 153.7 120.2C154.9 122.5 155.6 125.7 155.8 128.4C156.1 131.2 155.9 134.1 155.2 136.7C154.5 139.3 153.3 142 151.7 144C150 146 147.9 147.7 145.5 148.7C143 149.8 139.9 150.2 137.2 150.2C134.4 150.2 131.4 149.8 128.9 148.7C126.4 147.7 123.9 145.8 122.1 144C120.3 142.1 119 140 118.1 137.8C117.3 135.5 117 133.1 117.1 130.5Z"/><path class="b" d="M67.8 136.7C67.8 133.6 68.7 130.5 69.9 127.4C71.1 124.3 73.5 121.2 75.1 118.1C76.6 115 77.8 111.7 79.2 108.8C80.6 105.8 81.5 103.1 83.3 100.5C85.2 97.9 88 95.7 90.6 93.2C93.2 90.8 96.1 88.1 98.9 86C101.6 83.9 104.2 82.2 107.2 80.8C110.1 79.4 113.2 78.5 116.5 77.7C119.8 77 123.4 76.4 126.8 76.3C130.3 76.2 134.1 76.7 137.2 77.1C140.3 77.4 143 78.7 145.5 78.3C147.9 78 149.6 76.3 151.7 75C153.7 73.7 155.6 70.9 157.9 70.5C160.1 70 162.7 70.9 165.1 72.1C167.5 73.3 170 75.7 172.4 77.7C174.8 79.7 177.4 81.7 179.6 83.9C181.9 86.2 183.9 88.4 185.8 91.2C187.7 93.9 189.5 97.4 191 100.5C192.6 103.6 194.3 106.5 195.1 109.8C196 113.1 195.7 116.7 196.2 120.2C196.7 123.6 197.4 127.2 198.3 130.5C199.1 133.8 200.7 136.7 201.4 139.8C202.1 142.9 203.1 146.7 202.4 149.1C201.7 151.6 198.8 152.4 197.2 154.3C195.7 156.2 194.1 158.1 193.1 160.5C192 162.9 191.7 166.7 191 168.8C190.3 170.9 190.5 171.7 188.9 172.9C187.4 174.2 183.9 174.8 181.7 176.1C179.4 177.3 177.4 178.9 175.5 180.2C173.6 181.5 172.4 183.2 170.3 183.9C168.2 184.7 165.6 184.9 163.1 184.8C160.5 184.6 157 183.2 154.8 183.3C152.5 183.4 151.2 184 149.6 185.4C148 186.8 147.2 189.9 145.5 191.6C143.7 193.3 141.3 195 139.2 195.7C137.2 196.4 135.1 196.6 133 195.7C131 194.9 128.9 192.2 126.8 190.5C124.8 188.9 122.9 186.8 120.6 186C118.4 185.2 115.8 186.4 113.4 186C111 185.5 108.7 184.6 106.1 183.3C103.5 182 100.6 180 97.8 178.1C95.1 176.2 92.3 174.3 89.6 171.9C86.8 169.5 83.7 166.6 81.3 163.6C78.9 160.7 77 157.2 75.1 154.3C73.2 151.4 71.1 149 69.9 146C68.7 143.1 67.8 139.8 67.8 136.7ZM113 130.5C113 127.7 113.5 124.8 114.4 122.2C115.3 119.6 116.8 117 118.5 115C120.3 112.9 122.5 111.1 124.8 109.8C127 108.5 129.6 107.8 132 107.3C134.4 106.8 136.7 106.5 139.2 106.7C141.8 106.9 145 107.6 147.5 108.8C150 110 152.5 111.9 154.4 113.9C156.3 116 157.9 118.6 158.9 121.2C160 123.8 160.6 126.7 160.6 129.5C160.6 132.2 159.8 135.2 158.9 137.8C158 140.3 156.7 142.8 155.2 145C153.6 147.2 151.9 149.2 149.6 150.8C147.3 152.3 144.1 153.6 141.3 154.3C138.6 155 135.8 155.5 133 154.9C130.3 154.4 127.2 152.7 124.8 151.2C122.3 149.7 120.3 148.1 118.5 146C116.8 144 115.3 141.4 114.4 138.8C113.5 136.2 113 133.3 113 130.5Z"/><path class="r" d="M93.1 129.5C93.6 127.7 96.3 125.9 97.8 124.3C99.4 122.7 101.7 121.6 102.6 119.7C103.5 117.8 102.6 115.3 103 112.9C103.4 110.6 103.7 107.5 105.1 105.7C106.5 103.8 108.9 102.8 111.3 101.9C113.7 101.1 117.2 101 119.6 100.5C122 100 123.5 99 125.8 99C128 99 130.8 100.6 133 100.5C135.3 100.4 137.8 100 139.2 98.4C140.7 96.9 140.4 92.7 141.9 91.2C143.5 89.6 146.4 89.6 148.6 89.1C150.7 88.6 153.3 87.4 154.8 88.1C156.2 88.8 156.7 91.3 157.3 93.2C157.8 95.1 157.1 97.6 157.9 99.5C158.7 101.3 160.5 103.9 162 104.6C163.6 105.3 165.6 104.3 167.2 103.6C168.8 102.9 170.1 100.7 171.3 100.5C172.5 100.3 174.3 101.2 174.4 102.6C174.6 103.9 173.1 106.5 172.4 108.8C171.7 111 170.3 113.8 170.3 116C170.3 118.3 171.3 120.3 172.4 122.2C173.4 124.1 176.2 125.5 176.5 127.4C176.9 129.3 175.3 131.7 174.4 133.6C173.6 135.5 172 136.7 171.3 138.8C170.7 140.9 171 143.6 170.3 146C169.6 148.4 167.8 150.9 167.2 153.3C166.6 155.7 167.6 158.8 166.8 160.5C165.9 162.3 163.9 163.4 162 163.6C160.2 163.9 157.7 162 155.8 162C153.9 162 152.4 162.8 150.6 163.6C148.9 164.4 147.4 166.4 145.5 166.7C143.6 167.1 141.5 165.7 139.2 165.7C137 165.7 134.4 166 132 166.7C129.6 167.4 126.8 169.7 124.8 169.8C122.7 170 121 169.2 119.6 167.8C118.2 166.4 117.7 163.5 116.5 161.6C115.3 159.7 113.9 157.9 112.3 156.4C110.8 154.8 108.7 154 107.2 152.2C105.6 150.5 104.4 148.1 103 146C101.6 144 100.3 141.7 98.9 139.8C97.5 137.9 95.7 136.4 94.7 134.6C93.8 132.9 92.6 131.2 93.1 129.5ZM121.2 131.5C121.4 129.6 121.6 126.4 122.7 124.3C123.8 122.2 125.8 120.4 127.9 119.1C129.9 117.8 132.7 116.9 135.1 116.4C137.5 116 140.1 116 142.4 116.4C144.6 116.9 146.9 117.6 148.6 119.1C150.2 120.6 151.5 123.1 152.3 125.3C153.1 127.6 153.4 130.3 153.1 132.6C152.8 134.8 151.9 137.1 150.6 138.8C149.4 140.5 147.5 142 145.5 142.9C143.4 143.9 140.6 144.4 138.2 144.6C135.8 144.8 133.2 144.7 131 144C128.7 143.3 126.3 141.8 124.8 140.4C123.2 139.1 122.2 137.2 121.7 135.7C121.1 134.2 121.1 133.4 121.2 131.5Z"/><use href="#mx" x="137.26" y="131.63"/></g>
<path class="t" d="M0.26 0.63H274.26V262.63H0.26ZM0.26 262.63v4.86M0.26 262.63h-4.86M46.26 262.63v4.86M0.26 218.63h-4.86M91.26 262.63v4.86M0.26 175.63h-4.86M137.26 262.63v4.86M0.26 131.63h-4.86M183.26 262.63v4.86M0.26 87.63h-4.86M228.26 262.63v4.86M0.26 44.63h-4.86M274.26 262.63v4.86M0.26 0.63h-4.86"/><text class="c n" x="-1.14" y="283.13">−3</text><text class="e n" x="-12.01" y="268.13">−3</text><text class="c n" x="44.86" y="283.13">−2</text><text class="e n" x="-12.01" y="224.13">−2</text><text class="c n" x="89.86" y="283.13">−1</text><text class="e n" x="-12.01" y="180.13">−1</text><text class="c" x="137.26" y="283.13">0</text><text class="e" x="-9.36" y="137.13">0</text><text class="c" x="183.26" y="283.13">1</text><text class="e" x="-9.36" y="93.13">1</text><text class="c" x="228.26" y="283.13">2</text><text class="e" x="-9.36" y="49.13">2</text><text class="c" x="274.26" y="283.13">3</text><text class="e" x="-9.36" y="5.13">3</text><text x="245.76" y="249.13">2</text></g>
<g transform="translate(806.47,2585.87)">
<g clip-path="url(#cp)"><path fill="#eeeeee" d="M67.6 136.7C67.9 133.4 70.8 130.2 71.7 126.4C72.7 122.6 73 118.1 73.4 113.9C73.7 109.8 73.6 105.1 73.8 101.5C74 97.9 73.1 94.4 74.8 92.2C76.6 90 80.9 89.4 84.1 88.1C87.4 86.7 91 85.6 94.5 83.9C98 82.2 101.4 79.4 104.9 77.7C108.3 76 111.4 74.4 115.2 73.6C119 72.7 123.5 72.9 127.6 72.5C131.8 72.2 135.9 71.8 140 71.5C144.2 71.2 148.7 71.1 152.5 70.9C156.3 70.6 159.4 70.1 162.8 70.1C166.3 70.1 170.4 69.9 173.2 70.9C175.9 71.8 178 73.5 179.4 75.6C180.8 77.8 180.1 81.3 181.5 83.9C182.8 86.5 185.6 88.4 187.7 91.2C189.7 93.9 191.8 97.6 193.9 100.5C195.9 103.4 198.9 105.8 200.1 108.8C201.3 111.7 201.5 114.8 201.1 118.1C200.8 121.4 198.2 125 198 128.4C197.8 131.9 199.6 135.5 200.1 138.8C200.6 142.1 201.6 145.3 201.1 148.1C200.6 150.9 198.2 152.8 197 155.4C195.8 157.9 194.9 160.9 193.9 163.6C192.8 166.4 192.5 169.8 190.8 171.9C189 174 185.9 174.5 183.5 176.1C181.1 177.6 178.7 179.7 176.3 181.2C173.9 182.8 171.6 184 169 185.4C166.4 186.8 163.5 188.7 160.8 189.5C158 190.4 154.9 189.7 152.5 190.5C150.1 191.4 148.7 193.7 146.3 194.7C143.8 195.7 140.6 196.8 138 196.8C135.4 196.8 133 195.7 130.7 194.7C128.5 193.7 126.6 191.8 124.5 190.5C122.5 189.3 120.9 188.3 118.3 187.4C115.7 186.6 112.3 186.1 109 185.4C105.7 184.7 102.1 184 98.6 183.3C95.2 182.6 91.2 182.1 88.3 181.2C85.4 180.4 82.4 179.9 81 178.1C79.7 176.4 80 173.3 80 170.9C80 168.5 81.9 166.4 81 163.6C80.2 160.9 76.7 157.2 74.8 154.3C72.9 151.4 70.9 149 69.7 146C68.4 143.1 67.2 140 67.6 136.7Z"/><path fill="#dddddd" stroke="#d0d0d0" stroke-width="1" d="M113.1 130.5C113.1 127.7 113.7 124.7 114.6 122.2C115.5 119.7 117 117.4 118.7 115.4C120.4 113.4 122.7 111.5 124.9 110.2C127.2 108.9 129.8 108.2 132.2 107.7C134.5 107.2 136.6 106.9 139 107.1C141.5 107.4 144.4 108 146.9 109.2C149.3 110.4 151.8 112.3 153.7 114.4C155.6 116.4 157.2 118.9 158.3 121.4C159.3 123.9 159.9 126.8 159.9 129.5C159.9 132.2 159.2 135 158.3 137.5C157.4 140.1 156.1 142.4 154.5 144.6C153 146.7 151.2 148.8 149 150.4C146.7 151.9 143.5 153.2 140.9 153.9C138.2 154.6 135.7 155 133 154.5C130.4 154 127.3 152.2 124.9 150.8C122.6 149.3 120.4 147.8 118.7 145.8C117 143.8 115.5 141.3 114.6 138.8C113.7 136.2 113.1 133.3 113.1 130.5Z"/><path class="r" d="M93.1 129.5C93.6 127.7 96.3 125.9 97.8 124.3C99.4 122.7 101.7 121.6 102.6 119.7C103.5 117.8 102.6 115.3 103 112.9C103.4 110.6 103.7 107.5 105.1 105.7C106.5 103.8 108.9 102.8 111.3 101.9C113.7 101.1 117.2 101 119.6 100.5C122 100 123.5 99 125.8 99C128 99 130.8 100.6 133 100.5C135.3 100.4 137.8 100 139.2 98.4C140.7 96.9 140.4 92.7 141.9 91.2C143.5 89.6 146.4 89.6 148.6 89.1C150.7 88.6 153.3 87.4 154.8 88.1C156.2 88.8 156.7 91.3 157.3 93.2C157.8 95.1 157.1 97.6 157.9 99.5C158.7 101.3 160.5 103.9 162 104.6C163.6 105.3 165.6 104.3 167.2 103.6C168.8 102.9 170.1 100.7 171.3 100.5C172.5 100.3 174.3 101.2 174.4 102.6C174.6 103.9 173.1 106.5 172.4 108.8C171.7 111 170.3 113.8 170.3 116C170.3 118.3 171.3 120.3 172.4 122.2C173.4 124.1 176.2 125.5 176.5 127.4C176.9 129.3 175.3 131.7 174.4 133.6C173.6 135.5 172 136.7 171.3 138.8C170.7 140.9 171 143.6 170.3 146C169.6 148.4 167.8 150.9 167.2 153.3C166.6 155.7 167.6 158.8 166.8 160.5C165.9 162.3 163.9 163.4 162 163.6C160.2 163.9 157.7 162 155.8 162C153.9 162 152.4 162.8 150.6 163.6C148.9 164.4 147.4 166.4 145.5 166.7C143.6 167.1 141.5 165.7 139.2 165.7C137 165.7 134.4 166 132 166.7C129.6 167.4 126.8 169.7 124.8 169.8C122.7 170 121 169.2 119.6 167.8C118.2 166.4 117.7 163.5 116.5 161.6C115.3 159.7 113.9 157.9 112.3 156.4C110.8 154.8 108.7 154 107.2 152.2C105.6 150.5 104.4 148.1 103 146C101.6 144 100.3 141.7 98.9 139.8C97.5 137.9 95.7 136.4 94.7 134.6C93.8 132.9 92.6 131.2 93.1 129.5ZM121.2 131.5C121.4 129.6 121.6 126.4 122.7 124.3C123.8 122.2 125.8 120.4 127.9 119.1C129.9 117.8 132.7 116.9 135.1 116.4C137.5 116 140.1 116 142.4 116.4C144.6 116.9 146.9 117.6 148.6 119.1C150.2 120.6 151.5 123.1 152.3 125.3C153.1 127.6 153.4 130.3 153.1 132.6C152.8 134.8 151.9 137.1 150.6 138.8C149.4 140.5 147.5 142 145.5 142.9C143.4 143.9 140.6 144.4 138.2 144.6C135.8 144.8 133.2 144.7 131 144C128.7 143.3 126.3 141.8 124.8 140.4C123.2 139.1 122.2 137.2 121.7 135.7C121.1 134.2 121.1 133.4 121.2 131.5Z"/><path class="b" d="M67.8 136.7C67.8 133.6 68.7 130.5 69.9 127.4C71.1 124.3 73.5 121.2 75.1 118.1C76.6 115 77.8 111.7 79.2 108.8C80.6 105.8 81.5 103.1 83.3 100.5C85.2 97.9 88 95.7 90.6 93.2C93.2 90.8 96.1 88.1 98.9 86C101.6 83.9 104.2 82.2 107.2 80.8C110.1 79.4 113.2 78.5 116.5 77.7C119.8 77 123.4 76.4 126.8 76.3C130.3 76.2 134.1 76.7 137.2 77.1C140.3 77.4 143 78.7 145.5 78.3C147.9 78 149.6 76.3 151.7 75C153.7 73.7 155.6 70.9 157.9 70.5C160.1 70 162.7 70.9 165.1 72.1C167.5 73.3 170 75.7 172.4 77.7C174.8 79.7 177.4 81.7 179.6 83.9C181.9 86.2 183.9 88.4 185.8 91.2C187.7 93.9 189.5 97.4 191 100.5C192.6 103.6 194.3 106.5 195.1 109.8C196 113.1 195.7 116.7 196.2 120.2C196.7 123.6 197.4 127.2 198.3 130.5C199.1 133.8 200.7 136.7 201.4 139.8C202.1 142.9 203.1 146.7 202.4 149.1C201.7 151.6 198.8 152.4 197.2 154.3C195.7 156.2 194.1 158.1 193.1 160.5C192 162.9 191.7 166.7 191 168.8C190.3 170.9 190.5 171.7 188.9 172.9C187.4 174.2 183.9 174.8 181.7 176.1C179.4 177.3 177.4 178.9 175.5 180.2C173.6 181.5 172.4 183.2 170.3 183.9C168.2 184.7 165.6 184.9 163.1 184.8C160.5 184.6 157 183.2 154.8 183.3C152.5 183.4 151.2 184 149.6 185.4C148 186.8 147.2 189.9 145.5 191.6C143.7 193.3 141.3 195 139.2 195.7C137.2 196.4 135.1 196.6 133 195.7C131 194.9 128.9 192.2 126.8 190.5C124.8 188.9 122.9 186.8 120.6 186C118.4 185.2 115.8 186.4 113.4 186C111 185.5 108.7 184.6 106.1 183.3C103.5 182 100.6 180 97.8 178.1C95.1 176.2 92.3 174.3 89.6 171.9C86.8 169.5 83.7 166.6 81.3 163.6C78.9 160.7 77 157.2 75.1 154.3C73.2 151.4 71.1 149 69.9 146C68.7 143.1 67.8 139.8 67.8 136.7ZM113 130.5C113 127.7 113.5 124.8 114.4 122.2C115.3 119.6 116.8 117 118.5 115C120.3 112.9 122.5 111.1 124.8 109.8C127 108.5 129.6 107.8 132 107.3C134.4 106.8 136.7 106.5 139.2 106.7C141.8 106.9 145 107.6 147.5 108.8C150 110 152.5 111.9 154.4 113.9C156.3 116 157.9 118.6 158.9 121.2C160 123.8 160.6 126.7 160.6 129.5C160.6 132.2 159.8 135.2 158.9 137.8C158 140.3 156.7 142.8 155.2 145C153.6 147.2 151.9 149.2 149.6 150.8C147.3 152.3 144.1 153.6 141.3 154.3C138.6 155 135.8 155.5 133 154.9C130.3 154.4 127.2 152.7 124.8 151.2C122.3 149.7 120.3 148.1 118.5 146C116.8 144 115.3 141.4 114.4 138.8C113.5 136.2 113 133.3 113 130.5Z"/><use href="#mx" x="137.03" y="131.63"/></g>
<path class="t" d="M0.03 0.63H274.03V262.63H0.03ZM0.03 262.63v4.86M0.03 262.63h-4.86M46.03 262.63v4.86M0.03 218.63h-4.86M92.03 262.63v4.86M0.03 175.63h-4.86M137.03 262.63v4.86M0.03 131.63h-4.86M183.03 262.63v4.86M0.03 87.63h-4.86M228.03 262.63v4.86M0.03 44.63h-4.86M274.03 262.63v4.86M0.03 0.63h-4.86"/><text class="c n" x="-1.37" y="283.13">−3</text><text class="e n" x="-12.24" y="268.13">−3</text><text class="c n" x="44.63" y="283.13">−2</text><text class="e n" x="-12.24" y="224.13">−2</text><text class="c n" x="90.63" y="283.13">−1</text><text class="e n" x="-12.24" y="180.13">−1</text><text class="c" x="137.03" y="283.13">0</text><text class="e" x="-9.59" y="137.13">0</text><text class="c" x="183.03" y="283.13">1</text><text class="e" x="-9.59" y="93.13">1</text><text class="c" x="228.03" y="283.13">2</text><text class="e" x="-9.59" y="49.13">2</text><text class="c" x="274.03" y="283.13">3</text><text class="e" x="-9.59" y="5.13">3</text><text x="246.53" y="249.13">2</text><text x="300.53" y="26.13">logB (UROB) = 0.00</text><text x="300.53" y="65.13">logB (NESS) = 0.00</text><text x="300.53" y="105.13">logB (PRIO) = 0.00</text></g>
</svg>
</body></html>
